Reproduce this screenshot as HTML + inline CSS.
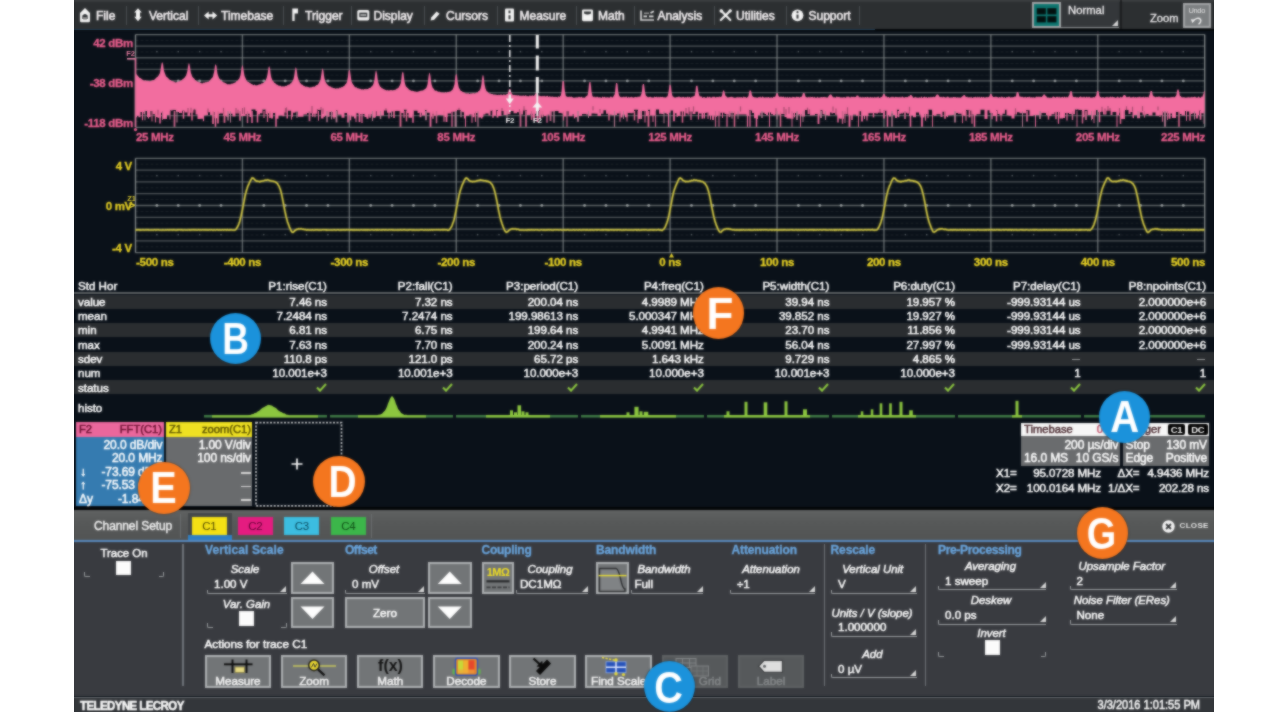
<!DOCTYPE html>
<html><head><meta charset="utf-8"><title>scope</title>
<style>
html,body{margin:0;padding:0;background:#fff;}
body{width:1280px;height:721px;overflow:hidden;position:relative;font-family:"Liberation Sans",sans-serif;}
#clip{position:absolute;left:73.5px;top:0;width:1140px;height:712px;overflow:hidden;}
#wrap{position:absolute;left:-73.5px;top:0;width:1280px;height:721px;filter:url(#bl);}
.tc,.th,.dv,.cr,.vl,.il,.bl{-webkit-text-stroke:0.5px currentColor;}
.pl,.yl,.hd{-webkit-text-stroke:0.3px currentColor;}
#scr{position:absolute;left:60px;top:-10px;width:1170px;height:735px;background:#0a1119;overflow:hidden;}
.a{position:absolute;white-space:nowrap;}
#menubar{position:absolute;left:60px;top:-10px;width:1170px;height:39px;background:linear-gradient(#3b3e40 0,#3b3e40 11.2px,#2c2f31 12.2px);border-bottom:2.6px solid #04070a;}
.mi{position:absolute;top:9px;font-size:12px;line-height:14px;color:#f6f2f4;letter-spacing:0px;white-space:nowrap;-webkit-text-stroke:0.55px #f6f2f4;}
.ms{position:absolute;top:6px;width:1px;height:19px;background:#4a4e51;}
.pl{position:absolute;font-size:11.5px;line-height:12px;font-weight:bold;color:#ee5f8f;white-space:nowrap;letter-spacing:-0.3px;}
.yl{position:absolute;font-size:11.5px;line-height:12px;font-weight:bold;color:#ecd524;white-space:nowrap;letter-spacing:-0.3px;}
.r{text-align:right;}
.c{text-align:center;}

.tr{position:absolute;left:60px;width:1170px;height:14.3px;}
.tc{position:absolute;font-size:11.6px;line-height:13px;color:#fff;white-space:nowrap;letter-spacing:-0.05px;}
.th{position:absolute;font-size:11.6px;line-height:13px;color:#fff;white-space:nowrap;letter-spacing:0px;}

.dh{position:absolute;font-size:11.2px;line-height:13px;white-space:nowrap;letter-spacing:0px;-webkit-text-stroke:0.45px currentColor;}
.dv{position:absolute;font-size:12px;line-height:13px;color:#fff;white-space:nowrap;letter-spacing:-0.1px;}
.cr{position:absolute;font-size:11.6px;line-height:13px;color:#fff;white-space:nowrap;letter-spacing:-0.1px;}
.circ{position:absolute;width:51.2px;height:51.2px;border-radius:50%;box-shadow:0 0 1.5px 0.5px rgba(0,0,0,0.35);}
.circ span{position:absolute;left:0;top:0;width:51.2px;height:51.2px;color:#fff;font-weight:bold;font-size:44px;line-height:52px;text-align:center;}

#tabbar{position:absolute;left:60px;top:509.8px;width:1170px;height:30.2px;background:linear-gradient(#606262,#575959 40%,#525454);}
#panel{position:absolute;left:60px;top:540px;width:1170px;height:156px;background:#393b40;border-top:2px solid #5788be;box-sizing:border-box;}
#status{position:absolute;left:60px;top:696.8px;width:1170px;height:28px;background:#33363a;border-top:1.7px solid #6c7073;box-sizing:border-box;}
.hd{position:absolute;font-size:12px;line-height:13px;font-weight:bold;color:#6aa7e0;white-space:nowrap;letter-spacing:0px;}
.il{position:absolute;font-size:11.4px;line-height:13px;font-style:italic;color:#fcfcfc;white-space:nowrap;letter-spacing:0px;text-align:center;}
.vl{position:absolute;font-size:11.6px;line-height:13px;color:#fff;white-space:nowrap;letter-spacing:0px;}
.ul{position:absolute;height:4.5px;border-bottom:1.9px solid #9da0a2;border-left:1.7px solid #9da0a2;border-bottom-left-radius:2px;box-sizing:border-box;}
.tri{position:absolute;width:0;height:0;border-left:6px solid transparent;border-bottom:6px solid #d8d8d8;}
.btn{position:absolute;background:#727577;border:2px solid #aeb1b3;box-sizing:border-box;}
.cb{position:absolute;width:14.5px;height:14.5px;background:#fbfbfb;}
.vd{position:absolute;width:1.7px;background:#70747a;}
.bl{position:absolute;font-size:11.7px;line-height:12px;color:#fff;text-align:center;white-space:nowrap;letter-spacing:0px;}
.chb{position:absolute;top:516.7px;width:35.4px;height:18px;font-size:11.5px;line-height:18px;text-align:center;letter-spacing:-0.3px;}
.cm{position:absolute;width:5.5px;height:5.5px;box-sizing:border-box;border-bottom:1.7px solid #9a9d9f;}
</style></head>
<body>
<svg width="0" height="0" style="position:absolute"><filter id="bl" x="0" y="0" width="100%" height="100%" color-interpolation-filters="sRGB"><feGaussianBlur stdDeviation="1" result="b"/><feComposite in="b" in2="SourceGraphic" operator="arithmetic" k1="0" k2="0.68" k3="0.32" k4="0"/></filter></svg>
<div id="clip"><div id="wrap">
<div id="scr"></div>
<div id="menubar"></div>
<div class="a" style="left:60px;top:28.6px;width:815px;height:1.8px;background:#27435a"></div>
<div class="mi" style="left:96px">File</div>
<div class="ms" style="left:126px"></div>
<div class="mi" style="left:149px">Vertical</div>
<div class="ms" style="left:198.4px"></div>
<div class="mi" style="left:221px">Timebase</div>
<div class="ms" style="left:282.5px"></div>
<div class="mi" style="left:305px">Trigger</div>
<div class="ms" style="left:351px"></div>
<div class="mi" style="left:373.5px">Display</div>
<div class="ms" style="left:424px"></div>
<div class="mi" style="left:446px">Cursors</div>
<div class="ms" style="left:497px"></div>
<div class="mi" style="left:519.5px">Measure</div>
<div class="ms" style="left:575.5px"></div>
<div class="mi" style="left:598px">Math</div>
<div class="ms" style="left:634px"></div>
<div class="mi" style="left:657.5px">Analysis</div>
<div class="ms" style="left:713.8px"></div>
<div class="mi" style="left:736px">Utilities</div>
<div class="ms" style="left:785.5px"></div>
<div class="mi" style="left:808.5px">Support</div>
<div class="ms" style="left:859px"></div>
<svg class="a" style="left:0;top:0" width="900" height="30" viewBox="0 0 900 30"><path d="M80,13 L85,8 L90,13 V21 Q90,22.3 88.7,22.3 H81.3 Q80,22.3 80,21 Z" fill="#f4f4f4"/><path d="M82.3,15.5 Q85,12.5 87.7,15.5 V19 H82.3 Z" fill="#2d3033"/><rect x="83.2" y="17" width="3.6" height="2.6" fill="#888"/><path d="M138,8.2 L141.8,12.6 H140 V16.8 H141.8 L138,21.2 L134.2,16.8 H136 V12.6 H134.2 Z" fill="#f4f4f4"/><path d="M204,15.5 L208.7,11.6 V14.2 H212.5 V11.6 L217.2,15.5 L212.5,19.4 V16.8 H208.7 V19.4 Z" fill="#f4f4f4"/><path d="M292.3,8.5 H298 V13.5 H294.6 V21 H292.3 Z" fill="#f4f4f4"/><rect x="357.3" y="10" width="12" height="10.4" rx="1.6" fill="#f4f4f4"/><rect x="359.3" y="12.6" width="8" height="4.6" fill="#2d3033"/><rect x="360.5" y="14.4" width="5.6" height="1.2" fill="#f4f4f4"/><path d="M431.2,17.6 L436.6,11.4 L439.6,13.8 L434.2,19.8 L430.6,20.4 Z" fill="#f4f4f4"/><rect x="505" y="8.4" width="9" height="13" rx="1" fill="#f4f4f4"/><path d="M509.5,10.5V13.2M509.5,15.2V19.2" stroke="#2d3033" stroke-width="2"/><rect x="582" y="9.4" width="11" height="11.8" rx="1.4" fill="#f4f4f4"/><path d="M584,11.4 H591 V13.6 Q587.5,15.6 584,13.6 Z" fill="#2d3033"/><path d="M641,10.5 V20 H654" fill="none" stroke="#d8d8d8" stroke-width="1.7"/><path d="M643.5,16.3 H647 M649,16.3 H653.5 M650.5,13 L653.8,11.2" stroke="#e8e8e8" stroke-width="1.7"/><path d="M644,13.2 H649" stroke="#aaa" stroke-width="1.3"/><path d="M721,10.6 L730.3,20 M730.4,10.6 L720.8,20" stroke="#f4f4f4" stroke-width="2.2" stroke-linecap="round"/><circle cx="721.3" cy="11" r="1.8" fill="#f4f4f4"/><circle cx="730.2" cy="10.8" r="1.6" fill="#f4f4f4"/><circle cx="797.5" cy="15.3" r="5.9" fill="#f4f4f4"/><path d="M797.5,14.6V18.6" stroke="#2d3033" stroke-width="2"/><circle cx="797.5" cy="12.2" r="1.1" fill="#2d3033"/></svg>
<div class="a" style="left:1032px;top:1.5px;width:29px;height:26.5px;background:#0d746e;border:2px solid #a2a4a6;box-sizing:border-box"></div>
<svg class="a" style="left:1032px;top:1.5px" width="29" height="27" viewBox="0 0 29 27"><rect x="4.8" y="6.2" width="9" height="6.2" fill="#03100f"/><rect x="15.4" y="6.2" width="9" height="6.2" fill="#03100f"/><rect x="4.8" y="14.2" width="9" height="6.2" fill="#03100f"/><rect x="15.4" y="14.2" width="9" height="6.2" fill="#03100f"/></svg>
<div class="a" style="left:1061px;top:1.5px;width:58px;height:26px;background:#34373a;border-bottom:1.5px solid #8f9294;box-sizing:border-box"></div>
<div class="a" style="left:1068px;top:3.5px;font-size:11.3px;line-height:13px;color:#f2f0f2;letter-spacing:0px;-webkit-text-stroke:0.3px #f2f0f2">Normal</div>
<div class="tri" style="left:1111.5px;top:20px"></div>
<div class="a" style="left:1120px;top:0;width:2px;height:29px;background:#1c1e20"></div>
<div class="a" style="left:1150px;top:11.5px;font-size:11.2px;line-height:13px;color:#f2f0f2;letter-spacing:0px;-webkit-text-stroke:0.3px #f2f0f2">Zoom</div>
<div class="btn" style="left:1183px;top:2.5px;width:27.5px;height:25.5px;background:#7c7f81;border-color:#a4a6a8"></div>
<div class="a c" style="left:1183px;top:6px;width:27.5px;font-size:7.5px;line-height:9px;color:#e6e6e6;letter-spacing:-0.3px">Undo</div>
<svg class="a" style="left:1190px;top:15.5px" width="14" height="9" viewBox="0 0 14 9"><path d="M3,5.5 C5,2 9,1.5 10.5,3.5 C11.5,5 10,7.5 8.5,8" fill="none" stroke="#eee" stroke-width="1.4"/><path d="M0.8,3.2 L4.6,3.6 L2.6,7.2 Z" fill="#eee"/></svg>
<svg class="a" style="left:0;top:0" width="1280" height="721" viewBox="0 0 1280 721">
<line x1="135.5" y1="40.39" x2="1204.7" y2="40.39" stroke="#4a5052" stroke-width="1" opacity="0.28" stroke-dasharray="3 2"/>
<line x1="135.5" y1="51.98" x2="1204.7" y2="51.98" stroke="#4a5052" stroke-width="1" opacity="0.28" stroke-dasharray="3 2"/>
<line x1="135.5" y1="63.57" x2="1204.7" y2="63.57" stroke="#4a5052" stroke-width="1" opacity="0.28" stroke-dasharray="3 2"/>
<line x1="135.5" y1="75.16" x2="1204.7" y2="75.16" stroke="#4a5052" stroke-width="1" opacity="0.28" stroke-dasharray="3 2"/>
<line x1="135.5" y1="86.74" x2="1204.7" y2="86.74" stroke="#4a5052" stroke-width="1" opacity="0.28" stroke-dasharray="3 2"/>
<line x1="135.5" y1="98.33" x2="1204.7" y2="98.33" stroke="#4a5052" stroke-width="1" opacity="0.28" stroke-dasharray="3 2"/>
<line x1="135.5" y1="109.92" x2="1204.7" y2="109.92" stroke="#4a5052" stroke-width="1" opacity="0.28" stroke-dasharray="3 2"/>
<line x1="135.5" y1="121.51" x2="1204.7" y2="121.51" stroke="#4a5052" stroke-width="1" opacity="0.28" stroke-dasharray="3 2"/>
<line x1="135.5" y1="34.60" x2="1204.7" y2="34.60" stroke="#6d7374" stroke-width="1.3" opacity="0.95"/>
<line x1="135.5" y1="46.19" x2="1204.7" y2="46.19" stroke="#6d7374" stroke-width="1.3" opacity="0.72"/>
<line x1="135.5" y1="57.77" x2="1204.7" y2="57.77" stroke="#6d7374" stroke-width="1.3" opacity="0.72"/>
<line x1="135.5" y1="69.36" x2="1204.7" y2="69.36" stroke="#6d7374" stroke-width="1.3" opacity="0.72"/>
<line x1="135.5" y1="80.95" x2="1204.7" y2="80.95" stroke="#6d7374" stroke-width="1.3" opacity="0.85"/>
<line x1="135.5" y1="92.54" x2="1204.7" y2="92.54" stroke="#6d7374" stroke-width="1.3" opacity="0.72"/>
<line x1="135.5" y1="104.12" x2="1204.7" y2="104.12" stroke="#6d7374" stroke-width="1.3" opacity="0.72"/>
<line x1="135.5" y1="115.71" x2="1204.7" y2="115.71" stroke="#6d7374" stroke-width="1.3" opacity="0.72"/>
<line x1="135.5" y1="127.30" x2="1204.7" y2="127.30" stroke="#6d7374" stroke-width="1.3" opacity="0.95"/>
<line x1="135.50" y1="34.6" x2="135.50" y2="127.3" stroke="#7f8586" stroke-width="1.4" opacity="1"/>
<line x1="242.42" y1="34.6" x2="242.42" y2="127.3" stroke="#7f8586" stroke-width="1.4" opacity="0.78"/>
<line x1="349.34" y1="34.6" x2="349.34" y2="127.3" stroke="#7f8586" stroke-width="1.4" opacity="0.78"/>
<line x1="456.26" y1="34.6" x2="456.26" y2="127.3" stroke="#7f8586" stroke-width="1.4" opacity="0.78"/>
<line x1="563.18" y1="34.6" x2="563.18" y2="127.3" stroke="#7f8586" stroke-width="1.4" opacity="0.78"/>
<line x1="670.10" y1="34.6" x2="670.10" y2="127.3" stroke="#7f8586" stroke-width="1.4" opacity="0.78"/>
<line x1="777.02" y1="34.6" x2="777.02" y2="127.3" stroke="#7f8586" stroke-width="1.4" opacity="0.78"/>
<line x1="883.94" y1="34.6" x2="883.94" y2="127.3" stroke="#7f8586" stroke-width="1.4" opacity="0.78"/>
<line x1="990.86" y1="34.6" x2="990.86" y2="127.3" stroke="#7f8586" stroke-width="1.4" opacity="0.78"/>
<line x1="1097.78" y1="34.6" x2="1097.78" y2="127.3" stroke="#7f8586" stroke-width="1.4" opacity="0.78"/>
<line x1="1204.70" y1="34.6" x2="1204.70" y2="127.3" stroke="#7f8586" stroke-width="1.4" opacity="1"/>
<circle cx="156.88" cy="51.63" r="0.8" fill="#c4caca" opacity="0.4"/>
<circle cx="178.27" cy="51.63" r="0.8" fill="#c4caca" opacity="0.4"/>
<circle cx="199.65" cy="51.63" r="0.8" fill="#c4caca" opacity="0.4"/>
<circle cx="221.04" cy="51.63" r="0.8" fill="#c4caca" opacity="0.4"/>
<circle cx="263.80" cy="51.63" r="0.8" fill="#c4caca" opacity="0.4"/>
<circle cx="285.19" cy="51.63" r="0.8" fill="#c4caca" opacity="0.4"/>
<circle cx="306.57" cy="51.63" r="0.8" fill="#c4caca" opacity="0.4"/>
<circle cx="327.96" cy="51.63" r="0.8" fill="#c4caca" opacity="0.4"/>
<circle cx="370.72" cy="51.63" r="0.8" fill="#c4caca" opacity="0.4"/>
<circle cx="392.11" cy="51.63" r="0.8" fill="#c4caca" opacity="0.4"/>
<circle cx="413.49" cy="51.63" r="0.8" fill="#c4caca" opacity="0.4"/>
<circle cx="434.88" cy="51.63" r="0.8" fill="#c4caca" opacity="0.4"/>
<circle cx="477.64" cy="51.63" r="0.8" fill="#c4caca" opacity="0.4"/>
<circle cx="499.03" cy="51.63" r="0.8" fill="#c4caca" opacity="0.4"/>
<circle cx="520.41" cy="51.63" r="0.8" fill="#c4caca" opacity="0.4"/>
<circle cx="541.80" cy="51.63" r="0.8" fill="#c4caca" opacity="0.4"/>
<circle cx="584.56" cy="51.63" r="0.8" fill="#c4caca" opacity="0.4"/>
<circle cx="605.95" cy="51.63" r="0.8" fill="#c4caca" opacity="0.4"/>
<circle cx="627.33" cy="51.63" r="0.8" fill="#c4caca" opacity="0.4"/>
<circle cx="648.72" cy="51.63" r="0.8" fill="#c4caca" opacity="0.4"/>
<circle cx="691.48" cy="51.63" r="0.8" fill="#c4caca" opacity="0.4"/>
<circle cx="712.87" cy="51.63" r="0.8" fill="#c4caca" opacity="0.4"/>
<circle cx="734.25" cy="51.63" r="0.8" fill="#c4caca" opacity="0.4"/>
<circle cx="755.64" cy="51.63" r="0.8" fill="#c4caca" opacity="0.4"/>
<circle cx="798.40" cy="51.63" r="0.8" fill="#c4caca" opacity="0.4"/>
<circle cx="819.79" cy="51.63" r="0.8" fill="#c4caca" opacity="0.4"/>
<circle cx="841.17" cy="51.63" r="0.8" fill="#c4caca" opacity="0.4"/>
<circle cx="862.56" cy="51.63" r="0.8" fill="#c4caca" opacity="0.4"/>
<circle cx="905.32" cy="51.63" r="0.8" fill="#c4caca" opacity="0.4"/>
<circle cx="926.71" cy="51.63" r="0.8" fill="#c4caca" opacity="0.4"/>
<circle cx="948.09" cy="51.63" r="0.8" fill="#c4caca" opacity="0.4"/>
<circle cx="969.48" cy="51.63" r="0.8" fill="#c4caca" opacity="0.4"/>
<circle cx="1012.24" cy="51.63" r="0.8" fill="#c4caca" opacity="0.4"/>
<circle cx="1033.63" cy="51.63" r="0.8" fill="#c4caca" opacity="0.4"/>
<circle cx="1055.01" cy="51.63" r="0.8" fill="#c4caca" opacity="0.4"/>
<circle cx="1076.40" cy="51.63" r="0.8" fill="#c4caca" opacity="0.4"/>
<circle cx="1119.16" cy="51.63" r="0.8" fill="#c4caca" opacity="0.4"/>
<circle cx="1140.55" cy="51.63" r="0.8" fill="#c4caca" opacity="0.4"/>
<circle cx="1161.93" cy="51.63" r="0.8" fill="#c4caca" opacity="0.4"/>
<circle cx="1183.32" cy="51.63" r="0.8" fill="#c4caca" opacity="0.4"/>
<circle cx="156.88" cy="80.95" r="1.4" fill="#c4caca" opacity="0.65"/>
<circle cx="178.27" cy="80.95" r="1.4" fill="#c4caca" opacity="0.65"/>
<circle cx="199.65" cy="80.95" r="1.4" fill="#c4caca" opacity="0.65"/>
<circle cx="221.04" cy="80.95" r="1.4" fill="#c4caca" opacity="0.65"/>
<circle cx="263.80" cy="80.95" r="1.4" fill="#c4caca" opacity="0.65"/>
<circle cx="285.19" cy="80.95" r="1.4" fill="#c4caca" opacity="0.65"/>
<circle cx="306.57" cy="80.95" r="1.4" fill="#c4caca" opacity="0.65"/>
<circle cx="327.96" cy="80.95" r="1.4" fill="#c4caca" opacity="0.65"/>
<circle cx="370.72" cy="80.95" r="1.4" fill="#c4caca" opacity="0.65"/>
<circle cx="392.11" cy="80.95" r="1.4" fill="#c4caca" opacity="0.65"/>
<circle cx="413.49" cy="80.95" r="1.4" fill="#c4caca" opacity="0.65"/>
<circle cx="434.88" cy="80.95" r="1.4" fill="#c4caca" opacity="0.65"/>
<circle cx="477.64" cy="80.95" r="1.4" fill="#c4caca" opacity="0.65"/>
<circle cx="499.03" cy="80.95" r="1.4" fill="#c4caca" opacity="0.65"/>
<circle cx="520.41" cy="80.95" r="1.4" fill="#c4caca" opacity="0.65"/>
<circle cx="541.80" cy="80.95" r="1.4" fill="#c4caca" opacity="0.65"/>
<circle cx="584.56" cy="80.95" r="1.4" fill="#c4caca" opacity="0.65"/>
<circle cx="605.95" cy="80.95" r="1.4" fill="#c4caca" opacity="0.65"/>
<circle cx="627.33" cy="80.95" r="1.4" fill="#c4caca" opacity="0.65"/>
<circle cx="648.72" cy="80.95" r="1.4" fill="#c4caca" opacity="0.65"/>
<circle cx="691.48" cy="80.95" r="1.4" fill="#c4caca" opacity="0.65"/>
<circle cx="712.87" cy="80.95" r="1.4" fill="#c4caca" opacity="0.65"/>
<circle cx="734.25" cy="80.95" r="1.4" fill="#c4caca" opacity="0.65"/>
<circle cx="755.64" cy="80.95" r="1.4" fill="#c4caca" opacity="0.65"/>
<circle cx="798.40" cy="80.95" r="1.4" fill="#c4caca" opacity="0.65"/>
<circle cx="819.79" cy="80.95" r="1.4" fill="#c4caca" opacity="0.65"/>
<circle cx="841.17" cy="80.95" r="1.4" fill="#c4caca" opacity="0.65"/>
<circle cx="862.56" cy="80.95" r="1.4" fill="#c4caca" opacity="0.65"/>
<circle cx="905.32" cy="80.95" r="1.4" fill="#c4caca" opacity="0.65"/>
<circle cx="926.71" cy="80.95" r="1.4" fill="#c4caca" opacity="0.65"/>
<circle cx="948.09" cy="80.95" r="1.4" fill="#c4caca" opacity="0.65"/>
<circle cx="969.48" cy="80.95" r="1.4" fill="#c4caca" opacity="0.65"/>
<circle cx="1012.24" cy="80.95" r="1.4" fill="#c4caca" opacity="0.65"/>
<circle cx="1033.63" cy="80.95" r="1.4" fill="#c4caca" opacity="0.65"/>
<circle cx="1055.01" cy="80.95" r="1.4" fill="#c4caca" opacity="0.65"/>
<circle cx="1076.40" cy="80.95" r="1.4" fill="#c4caca" opacity="0.65"/>
<circle cx="1119.16" cy="80.95" r="1.4" fill="#c4caca" opacity="0.65"/>
<circle cx="1140.55" cy="80.95" r="1.4" fill="#c4caca" opacity="0.65"/>
<circle cx="1161.93" cy="80.95" r="1.4" fill="#c4caca" opacity="0.65"/>
<circle cx="1183.32" cy="80.95" r="1.4" fill="#c4caca" opacity="0.65"/>
<circle cx="156.88" cy="109.57" r="0.8" fill="#c4caca" opacity="0.4"/>
<circle cx="178.27" cy="109.57" r="0.8" fill="#c4caca" opacity="0.4"/>
<circle cx="199.65" cy="109.57" r="0.8" fill="#c4caca" opacity="0.4"/>
<circle cx="221.04" cy="109.57" r="0.8" fill="#c4caca" opacity="0.4"/>
<circle cx="263.80" cy="109.57" r="0.8" fill="#c4caca" opacity="0.4"/>
<circle cx="285.19" cy="109.57" r="0.8" fill="#c4caca" opacity="0.4"/>
<circle cx="306.57" cy="109.57" r="0.8" fill="#c4caca" opacity="0.4"/>
<circle cx="327.96" cy="109.57" r="0.8" fill="#c4caca" opacity="0.4"/>
<circle cx="370.72" cy="109.57" r="0.8" fill="#c4caca" opacity="0.4"/>
<circle cx="392.11" cy="109.57" r="0.8" fill="#c4caca" opacity="0.4"/>
<circle cx="413.49" cy="109.57" r="0.8" fill="#c4caca" opacity="0.4"/>
<circle cx="434.88" cy="109.57" r="0.8" fill="#c4caca" opacity="0.4"/>
<circle cx="477.64" cy="109.57" r="0.8" fill="#c4caca" opacity="0.4"/>
<circle cx="499.03" cy="109.57" r="0.8" fill="#c4caca" opacity="0.4"/>
<circle cx="520.41" cy="109.57" r="0.8" fill="#c4caca" opacity="0.4"/>
<circle cx="541.80" cy="109.57" r="0.8" fill="#c4caca" opacity="0.4"/>
<circle cx="584.56" cy="109.57" r="0.8" fill="#c4caca" opacity="0.4"/>
<circle cx="605.95" cy="109.57" r="0.8" fill="#c4caca" opacity="0.4"/>
<circle cx="627.33" cy="109.57" r="0.8" fill="#c4caca" opacity="0.4"/>
<circle cx="648.72" cy="109.57" r="0.8" fill="#c4caca" opacity="0.4"/>
<circle cx="691.48" cy="109.57" r="0.8" fill="#c4caca" opacity="0.4"/>
<circle cx="712.87" cy="109.57" r="0.8" fill="#c4caca" opacity="0.4"/>
<circle cx="734.25" cy="109.57" r="0.8" fill="#c4caca" opacity="0.4"/>
<circle cx="755.64" cy="109.57" r="0.8" fill="#c4caca" opacity="0.4"/>
<circle cx="798.40" cy="109.57" r="0.8" fill="#c4caca" opacity="0.4"/>
<circle cx="819.79" cy="109.57" r="0.8" fill="#c4caca" opacity="0.4"/>
<circle cx="841.17" cy="109.57" r="0.8" fill="#c4caca" opacity="0.4"/>
<circle cx="862.56" cy="109.57" r="0.8" fill="#c4caca" opacity="0.4"/>
<circle cx="905.32" cy="109.57" r="0.8" fill="#c4caca" opacity="0.4"/>
<circle cx="926.71" cy="109.57" r="0.8" fill="#c4caca" opacity="0.4"/>
<circle cx="948.09" cy="109.57" r="0.8" fill="#c4caca" opacity="0.4"/>
<circle cx="969.48" cy="109.57" r="0.8" fill="#c4caca" opacity="0.4"/>
<circle cx="1012.24" cy="109.57" r="0.8" fill="#c4caca" opacity="0.4"/>
<circle cx="1033.63" cy="109.57" r="0.8" fill="#c4caca" opacity="0.4"/>
<circle cx="1055.01" cy="109.57" r="0.8" fill="#c4caca" opacity="0.4"/>
<circle cx="1076.40" cy="109.57" r="0.8" fill="#c4caca" opacity="0.4"/>
<circle cx="1119.16" cy="109.57" r="0.8" fill="#c4caca" opacity="0.4"/>
<circle cx="1140.55" cy="109.57" r="0.8" fill="#c4caca" opacity="0.4"/>
<circle cx="1161.93" cy="109.57" r="0.8" fill="#c4caca" opacity="0.4"/>
<circle cx="1183.32" cy="109.57" r="0.8" fill="#c4caca" opacity="0.4"/>
<path d="M135.50,72.2 L136.00,73.2 L136.50,74.4 L137.00,74.8 L137.50,75.5 L138.00,76.2 L138.50,76.4 L139.00,77.2 L139.50,77.8 L140.00,78.3 L140.50,78.1 L141.00,78.6 L141.50,78.7 L142.00,79.6 L142.50,79.8 L143.00,79.4 L143.50,80.4 L144.00,80.6 L144.50,80.5 L145.00,80.6 L145.50,80.3 L146.00,80.3 L146.50,80.9 L147.00,80.6 L147.50,80.8 L148.00,80.9 L148.50,80.8 L149.00,81.2 L149.50,81.1 L150.00,81.3 L150.50,80.9 L151.00,80.9 L151.50,80.6 L152.00,80.6 L152.50,80.2 L153.00,79.8 L153.50,80.2 L154.00,80.0 L154.50,79.6 L155.00,79.1 L155.50,78.4 L156.00,78.0 L156.50,77.6 L157.00,76.9 L157.50,77.0 L158.00,76.1 L158.50,75.8 L159.00,74.5 L159.50,74.0 L160.00,72.5 L160.50,69.8 L161.00,67.1 L161.50,63.7 L162.00,62.5 L162.23,62.0 L162.50,62.7 L163.00,63.8 L163.50,67.9 L164.00,70.8 L164.50,72.2 L165.00,73.5 L165.50,74.8 L166.00,76.2 L166.50,76.8 L167.00,76.9 L167.50,77.5 L168.00,77.9 L168.50,78.3 L169.00,79.4 L169.50,79.2 L170.00,79.9 L170.50,80.1 L171.00,80.2 L171.50,81.0 L172.00,80.7 L172.50,81.3 L173.00,81.1 L173.50,81.5 L174.00,81.5 L174.50,81.7 L175.00,82.5 L175.50,82.5 L176.00,82.0 L176.50,82.4 L177.00,81.7 L177.50,81.8 L178.00,82.0 L178.50,81.7 L179.00,81.0 L179.50,81.7 L180.00,80.8 L180.50,80.6 L181.00,80.8 L181.50,80.1 L182.00,79.8 L182.50,79.2 L183.00,78.8 L183.50,78.8 L184.00,78.0 L184.50,77.8 L185.00,76.9 L185.50,76.2 L186.00,75.7 L186.50,74.1 L187.00,72.5 L187.50,70.3 L188.00,66.4 L188.50,64.1 L188.96,63.0 L189.00,63.1 L189.50,64.3 L190.00,66.9 L190.50,70.8 L191.00,73.3 L191.50,74.2 L192.00,76.1 L192.50,77.0 L193.00,77.6 L193.50,78.1 L194.00,78.4 L194.50,78.8 L195.00,80.1 L195.50,79.9 L196.00,80.7 L196.50,80.7 L197.00,81.5 L197.50,81.6 L198.00,81.6 L198.50,81.7 L199.00,82.4 L199.50,82.0 L200.00,82.3 L200.50,82.8 L201.00,83.2 L201.50,83.2 L202.00,83.0 L202.50,83.6 L203.00,82.9 L203.50,82.6 L204.00,82.8 L204.50,82.8 L205.00,82.3 L205.50,82.3 L206.00,82.3 L206.50,82.3 L207.00,81.7 L207.50,81.7 L208.00,81.9 L208.50,81.7 L209.00,81.1 L209.50,80.7 L210.00,80.3 L210.50,79.4 L211.00,78.8 L211.50,78.2 L212.00,78.3 L212.50,77.2 L213.00,76.4 L213.50,74.0 L214.00,72.5 L214.50,69.4 L215.00,65.6 L215.50,64.5 L215.69,64.0 L216.00,64.8 L216.50,66.1 L217.00,70.5 L217.50,73.5 L218.00,75.3 L218.50,76.6 L219.00,77.8 L219.50,78.8 L220.00,79.0 L220.50,79.9 L221.00,80.6 L221.50,81.1 L222.00,81.1 L222.50,81.8 L223.00,82.2 L223.50,82.3 L224.00,82.6 L224.50,82.6 L225.00,83.1 L225.50,83.3 L226.00,83.0 L226.50,83.7 L227.00,84.2 L227.50,84.2 L228.00,84.3 L228.50,84.1 L229.00,84.5 L229.50,84.3 L230.00,84.1 L230.50,84.4 L231.00,83.6 L231.50,84.1 L232.00,83.3 L232.50,83.7 L233.00,83.4 L233.50,83.0 L234.00,83.2 L234.50,82.8 L235.00,82.6 L235.50,82.6 L236.00,81.7 L236.50,81.1 L237.00,81.0 L237.50,80.8 L238.00,79.9 L238.50,79.2 L239.00,79.1 L239.50,77.9 L240.00,76.4 L240.50,75.0 L241.00,71.9 L241.50,68.2 L242.00,66.1 L242.42,65.1 L242.50,65.3 L243.00,66.5 L243.50,70.0 L244.00,73.1 L244.50,75.6 L245.00,76.9 L245.50,78.0 L246.00,79.3 L246.50,80.3 L247.00,81.0 L247.50,81.4 L248.00,82.1 L248.50,82.0 L249.00,82.2 L249.50,82.8 L250.00,83.0 L250.50,83.2 L251.00,83.7 L251.50,84.1 L252.00,84.2 L252.50,84.2 L253.00,84.9 L253.50,85.2 L254.00,84.8 L254.50,84.6 L255.00,84.7 L255.50,85.6 L256.00,84.9 L256.50,85.4 L257.00,85.2 L257.50,84.9 L258.00,85.2 L258.50,84.4 L259.00,84.4 L259.50,84.6 L260.00,84.0 L260.50,84.5 L261.00,83.8 L261.50,83.5 L262.00,83.1 L262.50,83.4 L263.00,82.9 L263.50,82.7 L264.00,82.3 L264.50,81.9 L265.00,81.5 L265.50,80.5 L266.00,79.2 L266.50,78.3 L267.00,76.5 L267.50,74.2 L268.00,71.3 L268.50,67.6 L269.00,66.5 L269.15,66.1 L269.50,67.0 L270.00,68.6 L270.50,72.9 L271.00,75.9 L271.50,77.9 L272.00,79.0 L272.50,80.4 L273.00,81.3 L273.50,81.3 L274.00,82.6 L274.50,82.9 L275.00,82.8 L275.50,83.5 L276.00,84.0 L276.50,84.6 L277.00,84.4 L277.50,84.8 L278.00,85.3 L278.50,85.5 L279.00,85.8 L279.50,85.5 L280.00,85.9 L280.50,85.6 L281.00,86.2 L281.50,86.4 L282.00,86.4 L282.50,86.6 L283.00,86.0 L283.50,86.6 L284.00,86.6 L284.50,86.5 L285.00,86.0 L285.50,86.1 L286.00,85.6 L286.50,86.0 L287.00,85.8 L287.50,85.1 L288.00,84.7 L288.50,84.8 L289.00,84.6 L289.50,84.5 L290.00,83.9 L290.50,83.1 L291.00,83.4 L291.50,82.2 L292.00,82.2 L292.50,80.9 L293.00,80.0 L293.50,79.1 L294.00,76.7 L294.50,73.9 L295.00,69.9 L295.50,68.1 L295.88,67.1 L296.00,67.5 L296.50,68.7 L297.00,72.3 L297.50,76.2 L298.00,77.8 L298.50,79.5 L299.00,81.0 L299.50,81.7 L300.00,82.8 L300.50,83.3 L301.00,83.8 L301.50,84.5 L302.00,84.6 L302.50,84.8 L303.00,85.1 L303.50,85.8 L304.00,86.2 L304.50,85.8 L305.00,86.5 L305.50,86.8 L306.00,86.6 L306.50,86.8 L307.00,86.6 L307.50,87.0 L308.00,87.1 L308.50,87.3 L309.00,86.9 L309.50,87.8 L310.00,87.3 L310.50,87.2 L311.00,87.4 L311.50,87.2 L312.00,87.0 L312.50,87.1 L313.00,86.4 L313.50,86.7 L314.00,86.4 L314.50,86.7 L315.00,86.5 L315.50,85.7 L316.00,85.6 L316.50,85.0 L317.00,84.9 L317.50,84.8 L318.00,84.5 L318.50,83.5 L319.00,82.7 L319.50,81.7 L320.00,80.9 L320.50,79.6 L321.00,76.5 L321.50,73.5 L322.00,69.7 L322.50,68.5 L322.61,68.2 L323.00,69.2 L323.50,71.2 L324.00,75.4 L324.50,78.5 L325.00,80.0 L325.50,81.9 L326.00,82.4 L326.50,83.6 L327.00,84.0 L327.50,84.5 L328.00,85.2 L328.50,85.6 L329.00,85.9 L329.50,86.2 L330.00,86.6 L330.50,86.5 L331.00,86.8 L331.50,87.4 L332.00,87.6 L332.50,87.6 L333.00,88.1 L333.50,88.0 L334.00,88.3 L334.50,87.9 L335.00,88.4 L335.50,88.6 L336.00,88.8 L336.50,88.2 L337.00,88.2 L337.50,88.6 L338.00,87.9 L338.50,88.6 L339.00,88.4 L339.50,87.6 L340.00,87.6 L340.50,87.9 L341.00,87.3 L341.50,87.0 L342.00,87.4 L342.50,86.8 L343.00,86.9 L343.50,86.0 L344.00,85.9 L344.50,85.7 L345.00,84.6 L345.50,84.2 L346.00,83.8 L346.50,83.0 L347.00,81.7 L347.50,78.9 L348.00,76.3 L348.50,71.6 L349.00,70.1 L349.34,69.3 L349.50,69.7 L350.00,70.9 L350.50,74.6 L351.00,78.1 L351.50,80.9 L352.00,82.4 L352.50,83.6 L353.00,84.2 L353.50,84.9 L354.00,85.5 L354.50,86.5 L355.00,87.1 L355.50,87.4 L356.00,87.0 L356.50,87.2 L357.00,88.3 L357.50,88.0 L358.00,88.5 L358.50,88.3 L359.00,88.6 L359.50,88.8 L360.00,88.8 L360.50,89.1 L361.00,88.7 L361.50,89.4 L362.00,89.6 L362.50,89.1 L363.00,89.4 L363.50,89.6 L364.00,89.2 L364.50,89.0 L365.00,88.9 L365.50,89.2 L366.00,88.6 L366.50,89.3 L367.00,89.1 L367.50,88.9 L368.00,88.9 L368.50,88.5 L369.00,88.1 L369.50,88.0 L370.00,87.7 L370.50,87.8 L371.00,87.3 L371.50,86.3 L372.00,86.4 L372.50,85.5 L373.00,84.7 L373.50,83.5 L374.00,81.5 L374.50,79.4 L375.00,75.5 L375.50,71.7 L376.00,70.5 L376.07,70.3 L376.50,71.4 L377.00,73.8 L377.50,77.9 L378.00,81.0 L378.50,83.0 L379.00,83.9 L379.50,85.2 L380.00,86.3 L380.50,86.9 L381.00,87.0 L381.50,88.1 L382.00,88.2 L382.50,88.2 L383.00,88.8 L383.50,89.0 L384.00,89.2 L384.50,89.2 L385.00,89.9 L385.50,89.8 L386.00,90.0 L386.50,90.2 L387.00,90.5 L387.50,89.7 L388.00,90.3 L388.50,90.5 L389.00,90.2 L389.50,90.4 L390.00,90.0 L390.50,90.1 L391.00,90.2 L391.50,89.9 L392.00,90.0 L392.50,90.5 L393.00,90.1 L393.50,90.0 L394.00,90.3 L394.50,89.8 L395.00,90.1 L395.50,89.6 L396.00,89.5 L396.50,88.6 L397.00,88.8 L397.50,88.6 L398.00,87.6 L398.50,87.9 L399.00,86.6 L399.50,86.1 L400.00,84.8 L400.50,83.7 L401.00,81.7 L401.50,78.0 L402.00,73.3 L402.50,72.2 L402.80,71.4 L403.00,71.9 L403.50,73.1 L404.00,77.4 L404.50,81.3 L405.00,83.6 L405.50,84.9 L406.00,86.4 L406.50,86.9 L407.00,87.3 L407.50,88.1 L408.00,88.3 L408.50,88.8 L409.00,89.7 L409.50,89.6 L410.00,90.3 L410.50,90.4 L411.00,90.0 L411.50,91.0 L412.00,91.1 L412.50,90.4 L413.00,91.3 L413.50,91.0 L414.00,91.1 L414.50,91.7 L415.00,91.1 L415.50,91.4 L416.00,91.9 L416.50,91.7 L417.00,91.4 L417.50,91.8 L418.00,91.7 L418.50,91.4 L419.00,90.9 L419.50,91.3 L420.00,91.1 L420.50,90.8 L421.00,90.5 L421.50,90.8 L422.00,90.3 L422.50,90.4 L423.00,90.4 L423.50,90.0 L424.00,89.6 L424.50,89.5 L425.00,88.9 L425.50,88.7 L426.00,87.9 L426.50,87.4 L427.00,86.1 L427.50,84.2 L428.00,81.0 L428.50,76.7 L429.00,73.8 L429.50,72.6 L429.53,72.5 L430.00,73.7 L430.50,76.5 L431.00,81.1 L431.50,83.9 L432.00,85.8 L432.50,87.2 L433.00,88.2 L433.50,88.5 L434.00,89.1 L434.50,90.2 L435.00,90.5 L435.50,90.8 L436.00,90.4 L436.50,90.6 L437.00,91.0 L437.50,91.3 L438.00,91.7 L438.50,91.4 L439.00,91.9 L439.50,91.6 L440.00,91.7 L440.50,92.3 L441.00,92.3 L441.50,92.5 L442.00,92.3 L442.50,92.4 L443.00,92.2 L443.50,92.4 L444.00,92.7 L444.50,92.8 L445.00,92.0 L445.50,92.0 L446.00,92.6 L446.50,92.4 L447.00,92.4 L447.50,91.8 L448.00,91.9 L448.50,91.7 L449.00,92.0 L449.50,91.4 L450.00,91.5 L450.50,91.6 L451.00,90.7 L451.50,90.5 L452.00,90.2 L452.50,89.8 L453.00,88.6 L453.50,87.5 L454.00,85.8 L454.50,84.2 L455.00,80.1 L455.50,75.4 L456.00,74.2 L456.26,73.6 L456.50,74.2 L457.00,75.4 L457.50,80.6 L458.00,83.5 L458.50,86.0 L459.00,87.9 L459.50,88.5 L460.00,89.5 L460.50,90.5 L461.00,91.0 L461.50,91.0 L462.00,91.2 L462.50,91.7 L463.00,92.3 L463.50,92.2 L464.00,92.1 L464.50,92.8 L465.00,92.8 L465.50,93.3 L466.00,93.4 L466.50,93.5 L467.00,93.1 L467.50,93.5 L468.00,93.2 L468.50,93.2 L469.00,93.4 L469.50,93.9 L470.00,93.9 L470.50,93.3 L471.00,93.4 L471.50,93.4 L472.00,93.3 L472.50,93.3 L473.00,93.3 L473.50,93.0 L474.00,93.3 L474.50,93.4 L475.00,93.1 L475.50,93.3 L476.00,92.9 L476.50,92.3 L477.00,92.7 L477.50,92.5 L478.00,91.7 L478.50,91.1 L479.00,91.0 L479.50,90.4 L480.00,89.5 L480.50,88.6 L481.00,86.5 L481.50,83.8 L482.00,79.0 L482.50,75.9 L482.99,74.7 L483.00,74.7 L483.50,76.0 L484.00,79.5 L484.50,84.1 L485.00,86.2 L485.50,88.6 L486.00,89.4 L486.50,90.9 L487.00,91.5 L487.50,91.6 L488.00,92.0 L488.50,92.9 L489.00,92.9 L489.50,93.4 L490.00,93.3 L490.50,93.4 L491.00,94.1 L491.50,94.0 L492.00,93.9 L492.50,94.1 L493.00,94.3 L493.50,94.4 L494.00,94.7 L494.50,94.3 L495.00,94.7 L495.50,94.6 L496.00,94.8 L496.50,94.8 L497.00,94.9 L497.50,95.0 L498.00,95.0 L498.50,94.8 L499.00,94.7 L499.50,94.9 L500.00,95.0 L500.50,94.6 L501.00,94.7 L501.50,94.4 L502.00,95.0 L502.50,95.2 L503.00,94.7 L503.50,94.5 L504.00,94.6 L504.50,94.8 L505.00,94.6 L505.50,95.2 L506.00,94.3 L506.50,94.4 L507.00,94.0 L507.50,94.1 L508.00,93.3 L508.50,91.1 L509.00,89.0 L509.50,89.0 L509.72,89.0 L510.00,89.0 L510.50,89.0 L511.00,91.4 L511.50,93.0 L512.00,93.9 L512.50,94.4 L513.00,95.1 L513.50,95.1 L514.00,94.8 L514.50,94.9 L515.00,95.0 L515.50,94.9 L516.00,95.5 L516.50,95.1 L517.00,95.3 L517.50,95.6 L518.00,95.3 L518.50,95.1 L519.00,95.7 L519.50,95.7 L520.00,95.2 L520.50,96.2 L521.00,95.1 L521.50,96.2 L522.00,95.4 L522.50,95.6 L523.00,96.3 L523.50,95.2 L524.00,95.6 L524.50,96.1 L525.00,95.8 L525.50,95.2 L526.00,95.3 L526.50,95.7 L527.00,96.5 L527.50,95.8 L528.00,96.2 L528.50,96.3 L529.00,96.3 L529.50,95.5 L530.00,95.2 L530.50,95.8 L531.00,96.0 L531.50,95.6 L532.00,95.7 L532.50,95.2 L533.00,95.4 L533.50,95.8 L534.00,96.1 L534.50,95.0 L535.00,94.4 L535.50,93.4 L536.00,92.9 L536.45,92.9 L536.50,92.9 L537.00,92.9 L537.50,93.7 L538.00,94.5 L538.50,95.4 L539.00,96.5 L539.50,95.5 L540.00,95.8 L540.50,96.2 L541.00,95.9 L541.50,96.4 L542.00,95.8 L542.50,96.0 L543.00,96.4 L543.50,96.0 L544.00,95.7 L544.50,95.7 L545.00,96.6 L545.50,96.2 L546.00,96.5 L546.50,96.0 L547.00,95.8 L547.50,95.8 L548.00,96.3 L548.50,96.7 L549.00,96.9 L549.50,96.2 L550.00,95.8 L550.50,96.8 L551.00,97.0 L551.50,96.7 L552.00,96.3 L552.50,96.8 L553.00,96.4 L553.50,97.0 L554.00,96.8 L554.50,97.0 L555.00,96.7 L555.50,96.7 L556.00,97.0 L556.50,96.7 L557.00,97.2 L557.50,97.4 L558.00,96.2 L558.50,96.3 L559.00,96.9 L559.50,97.0 L560.00,96.0 L560.50,96.0 L561.00,94.6 L561.50,91.7 L562.00,86.7 L562.50,80.9 L563.00,80.9 L563.18,80.9 L563.50,80.9 L564.00,81.3 L564.50,88.2 L565.00,91.9 L565.50,94.1 L566.00,96.4 L566.50,96.1 L567.00,97.0 L567.50,97.0 L568.00,96.3 L568.50,97.0 L569.00,96.9 L569.50,96.6 L570.00,96.8 L570.50,96.9 L571.00,96.5 L571.50,96.6 L572.00,97.3 L572.50,97.0 L573.00,97.4 L573.50,97.5 L574.00,97.9 L574.50,97.7 L575.00,97.1 L575.50,97.8 L576.00,97.2 L576.50,97.8 L577.00,96.5 L577.50,97.8 L578.00,97.3 L578.50,96.9 L579.00,96.5 L579.50,97.1 L580.00,97.0 L580.50,97.4 L581.00,96.8 L581.50,97.0 L582.00,96.5 L582.50,97.8 L583.00,97.7 L583.50,97.6 L584.00,97.5 L584.50,97.7 L585.00,97.5 L585.50,97.0 L586.00,96.1 L586.50,96.3 L587.00,95.4 L587.50,95.6 L588.00,93.2 L588.50,89.5 L589.00,84.0 L589.50,82.0 L589.91,82.0 L590.00,82.0 L590.50,82.0 L591.00,86.3 L591.50,91.4 L592.00,93.7 L592.50,96.3 L593.00,96.5 L593.50,97.3 L594.00,96.3 L594.50,96.7 L595.00,97.6 L595.50,96.6 L596.00,97.8 L596.50,96.5 L597.00,96.9 L597.50,96.7 L598.00,96.8 L598.50,97.6 L599.00,97.4 L599.50,97.3 L600.00,96.9 L600.50,97.4 L601.00,97.4 L601.50,97.9 L602.00,97.2 L602.50,96.5 L603.00,96.8 L603.50,97.6 L604.00,96.8 L604.50,96.8 L605.00,97.2 L605.50,97.7 L606.00,96.5 L606.50,97.5 L607.00,97.8 L607.50,96.7 L608.00,97.4 L608.50,97.4 L609.00,97.2 L609.50,97.7 L610.00,97.2 L610.50,96.6 L611.00,96.6 L611.50,96.7 L612.00,97.4 L612.50,97.4 L613.00,96.7 L613.50,96.5 L614.00,95.0 L614.50,94.8 L615.00,92.8 L615.50,87.4 L616.00,82.9 L616.50,82.9 L616.64,82.9 L617.00,82.9 L617.50,84.0 L618.00,89.8 L618.50,93.1 L619.00,94.9 L619.50,96.1 L620.00,96.7 L620.50,97.3 L621.00,96.6 L621.50,97.3 L622.00,97.5 L622.50,97.0 L623.00,96.7 L623.50,96.5 L624.00,97.5 L624.50,96.6 L625.00,97.5 L625.50,96.8 L626.00,96.6 L626.50,96.8 L627.00,96.5 L627.50,97.9 L628.00,97.5 L628.50,96.8 L629.00,96.8 L629.50,97.8 L630.00,96.9 L630.50,97.3 L631.00,97.0 L631.50,96.5 L632.00,97.4 L632.50,97.3 L633.00,97.1 L633.50,97.7 L634.00,97.6 L634.50,96.9 L635.00,97.2 L635.50,96.7 L636.00,97.1 L636.50,97.1 L637.00,97.4 L637.50,96.7 L638.00,96.5 L638.50,96.9 L639.00,96.3 L639.50,96.5 L640.00,97.3 L640.50,95.8 L641.00,94.8 L641.50,93.5 L642.00,91.0 L642.50,85.0 L643.00,83.9 L643.37,83.9 L643.50,83.9 L644.00,83.9 L644.50,88.1 L645.00,92.0 L645.50,94.0 L646.00,95.7 L646.50,95.9 L647.00,96.4 L647.50,97.2 L648.00,96.6 L648.50,97.4 L649.00,96.9 L649.50,96.7 L650.00,96.9 L650.50,96.5 L651.00,97.3 L651.50,97.6 L652.00,96.8 L652.50,97.8 L653.00,97.4 L653.50,97.8 L654.00,96.8 L654.50,96.5 L655.00,97.0 L655.50,97.0 L656.00,97.1 L656.50,96.6 L657.00,97.1 L657.50,97.4 L658.00,96.5 L658.50,97.0 L659.00,97.3 L659.50,97.2 L660.00,96.4 L660.50,96.9 L661.00,97.0 L661.50,97.1 L662.00,97.1 L662.50,96.8 L663.00,96.9 L663.50,97.2 L664.00,97.4 L664.50,97.1 L665.00,97.8 L665.50,97.2 L666.00,97.4 L666.50,97.0 L667.00,96.3 L667.50,96.4 L668.00,94.6 L668.50,92.0 L669.00,88.8 L669.50,84.8 L670.00,84.8 L670.10,84.8 L670.50,84.8 L671.00,86.2 L671.50,91.0 L672.00,94.3 L672.50,95.7 L673.00,96.8 L673.50,96.4 L674.00,97.5 L674.50,97.3 L675.00,97.4 L675.50,97.6 L676.00,97.3 L676.50,97.2 L677.00,96.8 L677.50,97.2 L678.00,96.8 L678.50,96.7 L679.00,96.6 L679.50,96.5 L680.00,97.5 L680.50,97.1 L681.00,97.1 L681.50,97.7 L682.00,96.5 L682.50,97.2 L683.00,97.0 L683.50,96.8 L684.00,96.9 L684.50,97.5 L685.00,97.6 L685.50,97.0 L686.00,97.3 L686.50,97.6 L687.00,97.0 L687.50,96.7 L688.00,96.4 L688.50,97.8 L689.00,96.6 L689.50,97.0 L690.00,97.0 L690.50,97.9 L691.00,97.4 L691.50,96.4 L692.00,97.4 L692.50,96.4 L693.00,96.2 L693.50,96.6 L694.00,96.0 L694.50,96.0 L695.00,93.9 L695.50,91.7 L696.00,86.1 L696.50,85.7 L696.83,85.7 L697.00,85.7 L697.50,85.7 L698.00,89.5 L698.50,92.6 L699.00,94.6 L699.50,95.7 L700.00,96.5 L700.50,96.5 L701.00,96.3 L701.50,96.8 L702.00,96.6 L702.50,97.9 L703.00,97.7 L703.50,97.0 L704.00,97.0 L704.50,97.2 L705.00,97.3 L705.50,97.8 L706.00,97.9 L706.50,97.7 L707.00,96.7 L707.50,96.7 L708.00,96.5 L708.50,97.5 L709.00,97.2 L709.50,96.7 L710.00,96.4 L710.50,97.6 L711.00,97.5 L711.50,97.6 L712.00,97.6 L712.50,96.6 L713.00,97.0 L713.50,96.8 L714.00,96.4 L714.50,96.7 L715.00,97.0 L715.50,97.6 L716.00,97.4 L716.50,96.8 L717.00,96.9 L717.50,96.9 L718.00,96.7 L718.50,97.2 L719.00,96.6 L719.50,96.6 L720.00,96.9 L720.50,96.9 L721.00,96.4 L721.50,96.8 L722.00,95.5 L722.50,93.0 L723.00,90.5 L723.50,90.5 L723.56,90.5 L724.00,90.5 L724.50,91.7 L725.00,94.3 L725.50,95.7 L726.00,96.0 L726.50,96.7 L727.00,96.6 L727.50,97.7 L728.00,97.3 L728.50,97.2 L729.00,97.6 L729.50,97.1 L730.00,97.0 L730.50,96.7 L731.00,97.3 L731.50,96.4 L732.00,97.1 L732.50,97.3 L733.00,96.6 L733.50,97.9 L734.00,96.9 L734.50,97.9 L735.00,97.7 L735.50,97.9 L736.00,96.8 L736.50,97.4 L737.00,97.6 L737.50,97.2 L738.00,96.5 L738.50,97.5 L739.00,97.6 L739.50,97.2 L740.00,96.7 L740.50,97.4 L741.00,97.2 L741.50,97.1 L742.00,97.6 L742.50,97.6 L743.00,97.8 L743.50,96.6 L744.00,96.5 L744.50,96.9 L745.00,97.6 L745.50,96.7 L746.00,97.6 L746.50,97.7 L747.00,97.7 L747.50,97.0 L748.00,96.7 L748.50,95.8 L749.00,93.2 L749.50,90.5 L750.00,90.5 L750.29,90.5 L750.50,90.5 L751.00,90.5 L751.50,93.0 L752.00,95.5 L752.50,95.8 L753.00,97.0 L753.50,96.7 L754.00,96.9 L754.50,97.3 L755.00,97.6 L755.50,97.1 L756.00,97.8 L756.50,97.5 L757.00,97.3 L757.50,97.7 L758.00,97.7 L758.50,97.1 L759.00,97.0 L759.50,97.3 L760.00,96.5 L760.50,96.8 L761.00,97.8 L761.50,97.4 L762.00,96.8 L762.50,96.6 L763.00,96.8 L763.50,96.9 L764.00,97.7 L764.50,97.2 L765.00,97.7 L765.50,96.9 L766.00,97.5 L766.50,96.9 L767.00,97.8 L767.50,97.3 L768.00,96.9 L768.50,96.9 L769.00,97.3 L769.50,97.9 L770.00,97.0 L770.50,97.4 L771.00,97.9 L771.50,97.1 L772.00,97.4 L772.50,97.9 L773.00,96.9 L773.50,96.9 L774.00,96.4 L774.50,97.0 L775.00,96.8 L775.50,96.2 L776.00,94.6 L776.50,93.0 L777.00,93.0 L777.02,93.0 L777.50,93.0 L778.00,93.9 L778.50,96.1 L779.00,96.4 L779.50,96.9 L780.00,96.4 L780.50,96.8 L781.00,96.7 L781.50,96.5 L782.00,97.1 L782.50,97.1 L783.00,96.6 L783.50,96.6 L784.00,97.2 L784.50,97.3 L785.00,97.8 L785.50,96.4 L786.00,97.6 L786.50,97.5 L787.00,97.2 L787.50,96.6 L788.00,97.8 L788.50,97.7 L789.00,97.0 L789.50,96.8 L790.00,97.8 L790.50,97.1 L791.00,97.7 L791.50,97.3 L792.00,97.8 L792.50,96.8 L793.00,96.8 L793.50,97.0 L794.00,96.9 L794.50,97.1 L795.00,97.7 L795.50,97.2 L796.00,97.0 L796.50,96.5 L797.00,96.9 L797.50,96.7 L798.00,97.1 L798.50,97.0 L799.00,96.4 L799.50,97.8 L800.00,97.2 L800.50,96.7 L801.00,97.0 L801.50,96.6 L802.00,96.5 L802.50,94.4 L803.00,93.0 L803.50,93.0 L803.75,93.0 L804.00,93.0 L804.50,93.0 L805.00,94.8 L805.50,96.6 L806.00,96.9 L806.50,97.3 L807.00,97.2 L807.50,97.7 L808.00,96.4 L808.50,97.5 L809.00,96.4 L809.50,97.0 L810.00,97.9 L810.50,96.5 L811.00,97.1 L811.50,97.0 L812.00,97.1 L812.50,96.9 L813.00,96.5 L813.50,97.7 L814.00,97.2 L814.50,96.6 L815.00,97.8 L815.50,97.8 L816.00,97.0 L816.50,97.7 L817.00,97.7 L817.50,96.4 L818.00,97.0 L818.50,97.8 L819.00,97.4 L819.50,97.6 L820.00,97.5 L820.50,97.3 L821.00,96.9 L821.50,96.9 L822.00,97.2 L822.50,97.3 L823.00,96.9 L823.50,97.1 L824.00,96.9 L824.50,96.7 L825.00,97.5 L825.50,96.8 L826.00,97.6 L826.50,97.4 L827.00,97.3 L827.50,97.8 L828.00,96.9 L828.50,96.3 L829.00,95.6 L829.50,95.1 L830.00,94.5 L830.48,94.5 L830.50,94.5 L831.00,94.5 L831.50,94.7 L832.00,95.8 L832.50,96.8 L833.00,96.4 L833.50,97.2 L834.00,97.7 L834.50,96.9 L835.00,97.5 L835.50,97.7 L836.00,96.8 L836.50,96.4 L837.00,96.8 L837.50,96.8 L838.00,97.1 L838.50,96.8 L839.00,97.2 L839.50,96.6 L840.00,97.7 L840.50,97.2 L841.00,97.2 L841.50,97.8 L842.00,96.8 L842.50,97.8 L843.00,97.6 L843.50,97.1 L844.00,97.5 L844.50,97.2 L845.00,96.9 L845.50,97.8 L846.00,97.8 L846.50,96.5 L847.00,96.6 L847.50,96.6 L848.00,96.9 L848.50,96.5 L849.00,96.5 L849.50,97.3 L850.00,97.4 L850.50,97.6 L851.00,96.5 L851.50,96.7 L852.00,96.9 L852.50,96.7 L853.00,97.0 L853.50,96.5 L854.00,97.2 L854.50,97.1 L855.00,96.7 L855.50,97.0 L856.00,97.0 L856.50,95.5 L857.00,95.5 L857.21,95.5 L857.50,95.5 L858.00,95.5 L858.50,95.8 L859.00,97.5 L859.50,96.4 L860.00,97.7 L860.50,96.4 L861.00,97.4 L861.50,97.3 L862.00,97.6 L862.50,96.5 L863.00,97.9 L863.50,97.0 L864.00,96.9 L864.50,97.6 L865.00,97.3 L865.50,96.9 L866.00,97.1 L866.50,97.7 L867.00,96.6 L867.50,97.1 L868.00,96.9 L868.50,97.4 L869.00,97.2 L869.50,97.7 L870.00,96.7 L870.50,96.9 L871.00,97.4 L871.50,97.2 L872.00,97.5 L872.50,96.7 L873.00,97.9 L873.50,96.9 L874.00,97.9 L874.50,96.6 L875.00,97.6 L875.50,97.6 L876.00,96.8 L876.50,97.5 L877.00,97.6 L877.50,97.1 L878.00,96.5 L878.50,96.6 L879.00,97.7 L879.50,97.8 L880.00,97.8 L880.50,97.4 L881.00,96.5 L881.50,97.1 L882.00,96.9 L882.50,95.9 L883.00,94.5 L883.50,94.0 L883.94,94.0 L884.00,94.0 L884.50,94.0 L885.00,95.1 L885.50,96.2 L886.00,96.7 L886.50,96.3 L887.00,96.4 L887.50,97.5 L888.00,97.1 L888.50,96.9 L889.00,96.8 L889.50,97.9 L890.00,97.3 L890.50,97.1 L891.00,97.8 L891.50,96.4 L892.00,97.0 L892.50,96.6 L893.00,97.5 L893.50,96.4 L894.00,97.6 L894.50,97.4 L895.00,96.7 L895.50,96.9 L896.00,96.8 L896.50,97.0 L897.00,97.3 L897.50,96.9 L898.00,97.3 L898.50,97.2 L899.00,96.9 L899.50,96.8 L900.00,97.7 L900.50,96.6 L901.00,97.9 L901.50,96.7 L902.00,96.8 L902.50,96.6 L903.00,96.8 L903.50,97.4 L904.00,97.2 L904.50,97.8 L905.00,97.0 L905.50,97.1 L906.00,97.3 L906.50,97.1 L907.00,97.1 L907.50,97.3 L908.00,96.7 L908.50,96.2 L909.00,96.2 L909.50,96.4 L910.00,95.0 L910.50,95.0 L910.67,95.0 L911.00,95.0 L911.50,95.1 L912.00,96.0 L912.50,96.3 L913.00,97.4 L913.50,97.7 L914.00,97.5 L914.50,97.6 L915.00,96.7 L915.50,96.8 L916.00,97.8 L916.50,97.2 L917.00,97.6 L917.50,97.8 L918.00,97.4 L918.50,97.4 L919.00,97.9 L919.50,96.9 L920.00,97.4 L920.50,97.9 L921.00,96.6 L921.50,96.5 L922.00,97.6 L922.50,97.7 L923.00,97.8 L923.50,97.1 L924.00,96.9 L924.50,96.6 L925.00,96.7 L925.50,97.6 L926.00,97.2 L926.50,96.8 L927.00,97.4 L927.50,97.8 L928.00,97.8 L928.50,96.8 L929.00,97.3 L929.50,97.6 L930.00,96.8 L930.50,97.1 L931.00,97.7 L931.50,97.1 L932.00,96.8 L932.50,97.3 L933.00,96.9 L933.50,96.4 L934.00,97.1 L934.50,97.2 L935.00,96.8 L935.50,96.6 L936.00,95.5 L936.50,94.8 L937.00,94.5 L937.40,94.5 L937.50,94.5 L938.00,94.5 L938.50,95.1 L939.00,95.7 L939.50,96.8 L940.00,97.3 L940.50,96.8 L941.00,97.3 L941.50,97.1 L942.00,96.5 L942.50,97.8 L943.00,96.5 L943.50,96.8 L944.00,97.1 L944.50,97.0 L945.00,97.5 L945.50,97.4 L946.00,97.3 L946.50,97.5 L947.00,96.5 L947.50,96.4 L948.00,97.0 L948.50,96.6 L949.00,97.7 L949.50,97.3 L950.00,97.9 L950.50,96.9 L951.00,97.7 L951.50,97.0 L952.00,97.7 L952.50,97.6 L953.00,97.1 L953.50,97.1 L954.00,96.9 L954.50,97.0 L955.00,97.6 L955.50,97.1 L956.00,97.1 L956.50,97.7 L957.00,97.6 L957.50,97.4 L958.00,96.8 L958.50,97.8 L959.00,97.4 L959.50,97.4 L960.00,97.5 L960.50,97.8 L961.00,97.4 L961.50,96.9 L962.00,96.5 L962.50,96.1 L963.00,96.6 L963.50,95.0 L964.00,95.0 L964.13,95.0 L964.50,95.0 L965.00,95.2 L965.50,96.4 L966.00,97.0 L966.50,97.0 L967.00,96.5 L967.50,96.8 L968.00,97.8 L968.50,97.2 L969.00,97.1 L969.50,97.3 L970.00,97.4 L970.50,97.6 L971.00,96.6 L971.50,97.1 L972.00,97.9 L972.50,97.8 L973.00,97.5 L973.50,96.9 L974.00,97.4 L974.50,97.0 L975.00,96.9 L975.50,96.4 L976.00,97.4 L976.50,96.9 L977.00,97.8 L977.50,96.7 L978.00,96.5 L978.50,97.5 L979.00,97.1 L979.50,96.4 L980.00,97.7 L980.50,97.5 L981.00,96.9 L981.50,96.7 L982.00,96.9 L982.50,97.6 L983.00,97.3 L983.50,96.7 L984.00,97.3 L984.50,97.8 L985.00,97.1 L985.50,97.6 L986.00,97.4 L986.50,96.9 L987.00,96.7 L987.50,97.6 L988.00,96.8 L988.50,97.2 L989.00,96.8 L989.50,96.3 L990.00,94.2 L990.50,94.0 L990.86,94.0 L991.00,94.0 L991.50,94.0 L992.00,95.6 L992.50,95.9 L993.00,97.0 L993.50,96.9 L994.00,97.1 L994.50,96.9 L995.00,96.8 L995.50,96.4 L996.00,97.3 L996.50,96.6 L997.00,97.1 L997.50,96.9 L998.00,97.5 L998.50,97.4 L999.00,97.2 L999.50,97.0 L1000.00,97.1 L1000.50,97.2 L1001.00,97.7 L1001.50,96.4 L1002.00,96.4 L1002.50,97.3 L1003.00,96.7 L1003.50,97.7 L1004.00,97.4 L1004.50,97.1 L1005.00,97.2 L1005.50,97.9 L1006.00,97.7 L1006.50,96.8 L1007.00,97.2 L1007.50,96.9 L1008.00,97.2 L1008.50,96.5 L1009.00,96.4 L1009.50,97.0 L1010.00,96.6 L1010.50,97.8 L1011.00,97.5 L1011.50,97.3 L1012.00,97.1 L1012.50,97.4 L1013.00,97.0 L1013.50,96.9 L1014.00,97.3 L1014.50,96.5 L1015.00,96.3 L1015.50,96.8 L1016.00,96.2 L1016.50,93.2 L1017.00,92.0 L1017.50,92.0 L1017.59,92.0 L1018.00,92.0 L1018.50,92.7 L1019.00,94.6 L1019.50,96.8 L1020.00,96.3 L1020.50,96.4 L1021.00,97.2 L1021.50,96.4 L1022.00,96.9 L1022.50,96.8 L1023.00,96.7 L1023.50,97.8 L1024.00,96.8 L1024.50,97.4 L1025.00,96.7 L1025.50,96.8 L1026.00,97.5 L1026.50,97.4 L1027.00,97.0 L1027.50,97.1 L1028.00,97.1 L1028.50,97.2 L1029.00,96.4 L1029.50,97.0 L1030.00,96.6 L1030.50,97.8 L1031.00,97.2 L1031.50,97.5 L1032.00,96.8 L1032.50,97.5 L1033.00,97.7 L1033.50,96.7 L1034.00,97.7 L1034.50,97.5 L1035.00,97.5 L1035.50,97.6 L1036.00,96.6 L1036.50,96.4 L1037.00,97.0 L1037.50,96.5 L1038.00,97.3 L1038.50,96.5 L1039.00,96.8 L1039.50,96.6 L1040.00,97.3 L1040.50,96.6 L1041.00,96.9 L1041.50,97.1 L1042.00,96.7 L1042.50,95.9 L1043.00,95.5 L1043.50,94.6 L1044.00,94.5 L1044.32,94.5 L1044.50,94.5 L1045.00,94.5 L1045.50,96.0 L1046.00,95.8 L1046.50,96.5 L1047.00,97.4 L1047.50,97.7 L1048.00,96.9 L1048.50,97.5 L1049.00,97.9 L1049.50,97.7 L1050.00,97.3 L1050.50,97.7 L1051.00,97.7 L1051.50,97.7 L1052.00,97.8 L1052.50,97.0 L1053.00,96.6 L1053.50,96.5 L1054.00,96.8 L1054.50,97.3 L1055.00,97.1 L1055.50,97.9 L1056.00,96.9 L1056.50,96.7 L1057.00,96.7 L1057.50,96.9 L1058.00,96.4 L1058.50,96.9 L1059.00,97.9 L1059.50,96.5 L1060.00,96.7 L1060.50,97.5 L1061.00,97.8 L1061.50,96.9 L1062.00,96.9 L1062.50,97.1 L1063.00,96.6 L1063.50,97.8 L1064.00,97.3 L1064.50,96.5 L1065.00,96.7 L1065.50,97.3 L1066.00,97.8 L1066.50,96.5 L1067.00,97.0 L1067.50,97.3 L1068.00,97.4 L1068.50,96.1 L1069.00,95.4 L1069.50,94.4 L1070.00,92.3 L1070.50,91.0 L1071.00,91.0 L1071.05,91.0 L1071.50,91.0 L1072.00,92.2 L1072.50,95.3 L1073.00,96.7 L1073.50,97.0 L1074.00,96.8 L1074.50,97.0 L1075.00,97.2 L1075.50,97.1 L1076.00,96.6 L1076.50,97.4 L1077.00,97.6 L1077.50,97.1 L1078.00,97.6 L1078.50,97.8 L1079.00,97.0 L1079.50,96.9 L1080.00,96.5 L1080.50,96.5 L1081.00,96.6 L1081.50,97.0 L1082.00,97.5 L1082.50,96.8 L1083.00,97.7 L1083.50,96.4 L1084.00,97.1 L1084.50,96.6 L1085.00,97.5 L1085.50,97.4 L1086.00,97.1 L1086.50,96.5 L1087.00,96.9 L1087.50,97.6 L1088.00,96.5 L1088.50,97.1 L1089.00,97.6 L1089.50,96.5 L1090.00,97.1 L1090.50,97.8 L1091.00,97.4 L1091.50,97.8 L1092.00,97.3 L1092.50,97.5 L1093.00,97.6 L1093.50,97.1 L1094.00,97.1 L1094.50,97.5 L1095.00,96.9 L1095.50,95.9 L1096.00,96.1 L1096.50,94.0 L1097.00,91.0 L1097.50,91.0 L1097.78,91.0 L1098.00,91.0 L1098.50,91.0 L1099.00,93.4 L1099.50,95.7 L1100.00,96.7 L1100.50,96.9 L1101.00,97.1 L1101.50,97.8 L1102.00,97.3 L1102.50,97.0 L1103.00,97.4 L1103.50,96.9 L1104.00,97.6 L1104.50,97.7 L1105.00,97.4 L1105.50,96.9 L1106.00,97.6 L1106.50,96.9 L1107.00,96.6 L1107.50,97.4 L1108.00,96.5 L1108.50,97.5 L1109.00,97.7 L1109.50,97.1 L1110.00,96.8 L1110.50,96.8 L1111.00,96.4 L1111.50,97.6 L1112.00,96.7 L1112.50,96.5 L1113.00,97.3 L1113.50,97.1 L1114.00,96.9 L1114.50,97.0 L1115.00,97.9 L1115.50,97.8 L1116.00,97.3 L1116.50,97.6 L1117.00,97.2 L1117.50,96.5 L1118.00,96.6 L1118.50,97.3 L1119.00,97.8 L1119.50,97.4 L1120.00,97.6 L1120.50,96.6 L1121.00,97.0 L1121.50,97.4 L1122.00,97.1 L1122.50,97.3 L1123.00,95.9 L1123.50,95.2 L1124.00,95.0 L1124.50,95.0 L1124.51,95.0 L1125.00,95.0 L1125.50,95.5 L1126.00,96.5 L1126.50,97.4 L1127.00,96.6 L1127.50,97.2 L1128.00,97.0 L1128.50,96.7 L1129.00,96.8 L1129.50,96.6 L1130.00,96.7 L1130.50,97.3 L1131.00,97.9 L1131.50,97.0 L1132.00,97.6 L1132.50,96.7 L1133.00,97.6 L1133.50,96.7 L1134.00,96.6 L1134.50,97.8 L1135.00,97.1 L1135.50,96.9 L1136.00,97.4 L1136.50,97.6 L1137.00,97.1 L1137.50,97.0 L1138.00,97.4 L1138.50,96.9 L1139.00,96.6 L1139.50,97.0 L1140.00,96.4 L1140.50,97.0 L1141.00,97.7 L1141.50,96.9 L1142.00,96.9 L1142.50,97.3 L1143.00,97.0 L1143.50,96.6 L1144.00,97.5 L1144.50,97.5 L1145.00,96.5 L1145.50,96.9 L1146.00,97.5 L1146.50,97.1 L1147.00,97.1 L1147.50,96.7 L1148.00,97.6 L1148.50,97.5 L1149.00,95.9 L1149.50,95.1 L1150.00,93.4 L1150.50,91.0 L1151.00,91.0 L1151.24,91.0 L1151.50,91.0 L1152.00,91.0 L1152.50,93.9 L1153.00,95.8 L1153.50,95.8 L1154.00,97.1 L1154.50,96.6 L1155.00,96.4 L1155.50,97.2 L1156.00,97.2 L1156.50,96.4 L1157.00,96.9 L1157.50,97.0 L1158.00,96.5 L1158.50,96.8 L1159.00,96.4 L1159.50,96.4 L1160.00,96.9 L1160.50,97.2 L1161.00,96.6 L1161.50,97.2 L1162.00,96.9 L1162.50,97.2 L1163.00,97.7 L1163.50,97.5 L1164.00,97.1 L1164.50,97.3 L1165.00,97.6 L1165.50,96.5 L1166.00,97.3 L1166.50,97.8 L1167.00,97.1 L1167.50,97.8 L1168.00,97.2 L1168.50,97.5 L1169.00,97.5 L1169.50,97.7 L1170.00,96.7 L1170.50,97.7 L1171.00,96.8 L1171.50,97.5 L1172.00,96.5 L1172.50,97.2 L1173.00,97.1 L1173.50,96.5 L1174.00,97.7 L1174.50,96.9 L1175.00,97.1 L1175.50,96.2 L1176.00,95.7 L1176.50,94.4 L1177.00,91.1 L1177.50,89.5 L1177.97,89.5 L1178.00,89.5 L1178.50,89.5 L1179.00,91.5 L1179.50,93.9 L1180.00,96.2 L1180.50,95.8 L1181.00,96.5 L1181.50,97.6 L1182.00,96.5 L1182.50,97.8 L1183.00,97.1 L1183.50,97.5 L1184.00,96.8 L1184.50,97.4 L1185.00,97.4 L1185.50,97.9 L1186.00,96.7 L1186.50,97.8 L1187.00,97.7 L1187.50,97.6 L1188.00,96.5 L1188.50,97.7 L1189.00,96.5 L1189.50,97.5 L1190.00,97.7 L1190.50,97.1 L1191.00,97.4 L1191.50,97.0 L1192.00,96.5 L1192.50,97.5 L1193.00,97.1 L1193.50,97.1 L1194.00,97.2 L1194.50,96.4 L1195.00,96.8 L1195.50,96.7 L1196.00,97.4 L1196.50,97.4 L1197.00,97.7 L1197.50,97.5 L1198.00,96.9 L1198.50,96.5 L1199.00,96.5 L1199.50,97.8 L1200.00,97.3 L1200.50,97.8 L1201.00,97.8 L1201.50,96.2 L1202.00,97.0 L1202.50,96.5 L1203.00,94.7 L1203.50,93.9 L1204.00,91.0 L1204.50,91.0 L1204.70,91.0 L1204.7,113.8 L1204.0,113.8 L1204.0,113.2 L1201.0,113.2 L1201.0,110.8 L1199.0,110.8 L1199.0,114.9 L1197.0,114.9 L1197.0,113.4 L1194.5,113.4 L1194.5,113.3 L1192.5,113.3 L1192.5,114.0 L1191.0,114.0 L1191.0,114.4 L1189.5,114.4 L1189.5,111.4 L1186.5,111.4 L1186.5,110.9 L1185.0,110.9 L1185.0,115.5 L1181.5,115.5 L1181.5,114.1 L1179.5,114.1 L1179.5,112.0 L1176.0,112.0 L1176.0,118.0 L1172.0,118.0 L1172.0,113.6 L1170.5,113.6 L1170.5,118.7 L1168.5,118.7 L1168.5,113.3 L1166.5,113.3 L1166.5,112.5 L1163.0,112.5 L1163.0,115.0 L1159.0,115.0 L1159.0,115.7 L1155.5,115.7 L1155.5,112.6 L1152.5,112.6 L1152.5,115.6 L1148.5,115.6 L1148.5,114.0 L1146.5,114.0 L1146.5,114.7 L1142.5,114.7 L1142.5,112.5 L1140.0,112.5 L1140.0,118.3 L1137.0,118.3 L1137.0,115.1 L1134.0,115.1 L1134.0,117.7 L1132.5,117.7 L1132.5,112.1 L1130.5,112.1 L1130.5,114.0 L1128.5,114.0 L1128.5,110.0 L1125.0,110.0 L1125.0,118.9 L1121.0,118.9 L1121.0,112.5 L1119.0,112.5 L1119.0,115.3 L1116.5,115.3 L1116.5,112.0 L1112.5,112.0 L1112.5,114.9 L1110.5,114.9 L1110.5,110.7 L1106.5,110.7 L1106.5,114.5 L1103.0,114.5 L1103.0,111.8 L1101.0,111.8 L1101.0,111.9 L1098.0,111.9 L1098.0,110.1 L1096.0,110.1 L1096.0,115.1 L1093.0,115.1 L1093.0,118.9 L1091.0,118.9 L1091.0,115.1 L1087.5,115.1 L1087.5,109.9 L1084.5,109.9 L1084.5,117.3 L1082.0,117.3 L1082.0,110.1 L1078.5,110.1 L1078.5,109.6 L1075.0,109.6 L1075.0,114.2 L1071.0,114.2 L1071.0,114.1 L1069.0,114.1 L1069.0,112.9 L1065.0,112.9 L1065.0,118.0 L1063.0,118.0 L1063.0,118.5 L1059.5,118.5 L1059.5,111.9 L1056.5,111.9 L1056.5,112.2 L1054.5,112.2 L1054.5,114.2 L1051.5,114.2 L1051.5,116.1 L1047.5,116.1 L1047.5,114.9 L1046.0,114.9 L1046.0,113.0 L1044.5,113.0 L1044.5,113.1 L1041.5,113.1 L1041.5,115.1 L1040.0,115.1 L1040.0,115.1 L1037.5,115.1 L1037.5,115.1 L1033.5,115.1 L1033.5,115.9 L1029.5,115.9 L1029.5,110.2 L1026.0,110.2 L1026.0,113.3 L1022.0,113.3 L1022.0,113.2 L1019.5,113.2 L1019.5,112.2 L1017.0,112.2 L1017.0,114.6 L1014.5,114.6 L1014.5,118.6 L1011.5,118.6 L1011.5,115.8 L1008.5,115.8 L1008.5,115.2 L1006.5,115.2 L1006.5,109.7 L1005.0,109.7 L1005.0,113.7 L1002.5,113.7 L1002.5,115.2 L999.5,115.2 L999.5,113.9 L997.5,113.9 L997.5,110.4 L996.0,110.4 L996.0,116.0 L993.0,116.0 L993.0,113.1 L989.5,113.1 L989.5,110.3 L987.5,110.3 L987.5,119.0 L984.5,119.0 L984.5,109.7 L980.5,109.7 L980.5,114.3 L976.5,114.3 L976.5,115.4 L975.0,115.4 L975.0,114.9 L973.5,114.9 L973.5,114.3 L971.5,114.3 L971.5,110.8 L968.5,110.8 L968.5,109.9 L966.0,109.9 L966.0,115.7 L963.5,115.7 L963.5,115.2 L961.5,115.2 L961.5,113.8 L958.0,113.8 L958.0,113.1 L956.0,113.1 L956.0,114.7 L953.5,114.7 L953.5,114.9 L952.0,114.9 L952.0,115.2 L948.0,115.2 L948.0,116.2 L946.0,116.2 L946.0,111.7 L942.5,111.7 L942.5,117.0 L940.5,117.0 L940.5,114.3 L936.5,114.3 L936.5,115.8 L934.0,115.8 L934.0,114.9 L932.0,114.9 L932.0,109.7 L928.5,109.7 L928.5,114.2 L924.5,114.2 L924.5,117.5 L920.5,117.5 L920.5,114.7 L919.0,114.7 L919.0,112.6 L916.0,112.6 L916.0,117.2 L913.0,117.2 L913.0,115.4 L910.5,115.4 L910.5,115.9 L909.0,115.9 L909.0,113.4 L907.0,113.4 L907.0,112.8 L903.0,112.8 L903.0,113.4 L901.0,113.4 L901.0,113.8 L899.0,113.8 L899.0,109.8 L897.0,109.8 L897.0,118.0 L895.0,118.0 L895.0,115.0 L893.0,115.0 L893.0,113.5 L891.0,113.5 L891.0,116.4 L889.0,116.4 L889.0,115.1 L886.5,115.1 L886.5,110.7 L883.0,110.7 L883.0,113.0 L881.0,113.0 L881.0,112.7 L878.0,112.7 L878.0,113.4 L875.5,113.4 L875.5,113.0 L872.5,113.0 L872.5,113.2 L868.5,113.2 L868.5,116.0 L866.5,116.0 L866.5,115.8 L863.0,115.8 L863.0,115.1 L861.5,115.1 L861.5,111.2 L859.5,111.2 L859.5,115.8 L856.0,115.8 L856.0,114.8 L853.0,114.8 L853.0,115.2 L850.0,115.2 L850.0,114.8 L848.0,114.8 L848.0,114.2 L844.0,114.2 L844.0,118.7 L840.0,118.7 L840.0,118.5 L838.0,118.5 L838.0,114.7 L835.0,114.7 L835.0,113.0 L833.0,113.0 L833.0,113.5 L831.5,113.5 L831.5,112.5 L830.0,112.5 L830.0,115.8 L828.0,115.8 L828.0,115.3 L824.5,115.3 L824.5,114.3 L822.5,114.3 L822.5,110.3 L820.5,110.3 L820.5,114.8 L818.5,114.8 L818.5,113.9 L815.0,113.9 L815.0,115.3 L811.5,115.3 L811.5,115.6 L810.0,115.6 L810.0,114.1 L807.5,114.1 L807.5,109.9 L805.0,109.9 L805.0,116.5 L801.5,116.5 L801.5,114.6 L799.0,114.6 L799.0,114.7 L797.0,114.7 L797.0,112.9 L793.5,112.9 L793.5,118.7 L790.5,118.7 L790.5,118.5 L786.5,118.5 L786.5,117.1 L784.5,117.1 L784.5,113.9 L780.5,113.9 L780.5,114.7 L777.5,114.7 L777.5,114.6 L775.0,114.6 L775.0,115.2 L773.0,115.2 L773.0,114.3 L771.0,114.3 L771.0,112.6 L768.0,112.6 L768.0,115.2 L766.0,115.2 L766.0,114.1 L764.5,114.1 L764.5,112.7 L760.5,112.7 L760.5,115.2 L758.0,115.2 L758.0,118.9 L756.0,118.9 L756.0,118.2 L754.0,118.2 L754.0,112.9 L752.0,112.9 L752.0,110.6 L749.0,110.6 L749.0,115.8 L746.5,115.8 L746.5,114.6 L742.5,114.6 L742.5,114.4 L741.0,114.4 L741.0,114.4 L738.0,114.4 L738.0,114.6 L735.5,114.6 L735.5,115.6 L734.0,115.6 L734.0,113.0 L730.5,113.0 L730.5,115.3 L728.5,115.3 L728.5,113.9 L724.5,113.9 L724.5,112.7 L720.5,112.7 L720.5,115.7 L717.0,115.7 L717.0,116.8 L714.5,116.8 L714.5,115.2 L712.0,115.2 L712.0,115.4 L708.5,115.4 L708.5,112.5 L706.5,112.5 L706.5,113.1 L703.5,113.1 L703.5,118.6 L702.0,118.6 L702.0,113.4 L698.0,113.4 L698.0,111.8 L695.5,111.8 L695.5,114.1 L692.5,114.1 L692.5,111.5 L689.5,111.5 L689.5,114.6 L687.5,114.6 L687.5,113.2 L685.5,113.2 L685.5,116.3 L684.0,116.3 L684.0,111.4 L682.5,111.4 L682.5,111.4 L680.5,111.4 L680.5,116.0 L678.0,116.0 L678.0,116.8 L676.5,116.8 L676.5,113.3 L673.0,113.3 L673.0,110.5 L670.5,110.5 L670.5,112.8 L668.5,112.8 L668.5,114.2 L666.5,114.2 L666.5,113.2 L664.0,113.2 L664.0,114.0 L661.5,114.0 L661.5,113.8 L659.0,113.8 L659.0,109.6 L656.0,109.6 L656.0,115.5 L653.0,115.5 L653.0,115.4 L650.0,115.4 L650.0,109.7 L648.0,109.7 L648.0,115.9 L646.0,115.9 L646.0,111.0 L642.0,111.0 L642.0,118.9 L638.0,118.9 L638.0,109.7 L634.0,109.7 L634.0,112.8 L632.5,112.8 L632.5,113.3 L630.5,113.3 L630.5,113.0 L627.5,113.0 L627.5,117.3 L625.0,117.3 L625.0,114.7 L622.5,114.7 L622.5,117.5 L620.5,117.5 L620.5,113.4 L617.0,113.4 L617.0,114.9 L613.5,114.9 L613.5,115.3 L611.5,115.3 L611.5,114.7 L608.0,114.7 L608.0,113.7 L606.0,113.7 L606.0,110.2 L603.5,110.2 L603.5,113.7 L601.0,113.7 L601.0,116.1 L597.5,116.1 L597.5,113.7 L594.5,113.7 L594.5,113.6 L591.5,113.6 L591.5,116.0 L588.5,116.0 L588.5,114.6 L586.0,114.6 L586.0,114.0 L582.0,114.0 L582.0,115.9 L578.0,115.9 L578.0,117.3 L574.5,117.3 L574.5,114.4 L572.5,114.4 L572.5,116.3 L568.5,116.3 L568.5,111.2 L566.5,111.2 L566.5,116.5 L563.0,116.5 L563.0,113.5 L561.5,113.5 L561.5,113.1 L558.5,113.1 L558.5,110.9 L555.0,110.9 L555.0,111.5 L551.5,111.5 L551.5,115.5 L549.5,115.5 L549.5,114.7 L546.5,114.7 L546.5,116.0 L544.0,116.0 L544.0,114.7 L540.0,114.7 L540.0,110.5 L536.0,110.5 L536.0,113.8 L534.5,113.8 L534.5,117.5 L532.5,117.5 L532.5,113.7 L530.5,113.7 L530.5,115.1 L527.0,115.1 L527.0,110.4 L523.0,110.4 L523.0,114.4 L519.0,114.4 L519.0,112.3 L517.0,112.3 L517.0,113.3 L513.5,113.3 L513.5,111.0 L510.5,111.0 L510.5,114.2 L507.5,114.2 L507.5,114.9 L503.5,114.9 L503.5,111.1 L501.5,111.1 L501.5,116.0 L498.0,116.0 L498.0,110.2 L496.0,110.2 L496.0,115.8 L493.0,115.8 L493.0,110.7 L490.5,110.7 L490.5,115.6 L488.5,115.6 L488.5,113.5 L485.5,113.5 L485.5,114.5 L482.5,114.5 L482.5,118.5 L481.0,118.5 L481.0,117.6 L478.0,117.6 L478.0,112.9 L476.0,112.9 L476.0,113.3 L474.5,113.3 L474.5,117.2 L472.5,117.2 L472.5,114.5 L470.5,114.5 L470.5,114.7 L469.0,114.7 L469.0,115.8 L466.0,115.8 L466.0,118.5 L464.0,118.5 L464.0,112.2 L462.5,112.2 L462.5,111.8 L460.5,111.8 L460.5,110.1 L457.0,110.1 L457.0,111.3 L455.0,111.3 L455.0,111.7 L451.0,111.7 L451.0,113.4 L447.5,113.4 L447.5,117.0 L444.5,117.0 L444.5,115.3 L442.5,115.3 L442.5,115.2 L440.5,115.2 L440.5,115.0 L437.5,115.0 L437.5,115.7 L434.0,115.7 L434.0,113.7 L432.0,113.7 L432.0,116.5 L430.5,116.5 L430.5,112.8 L426.5,112.8 L426.5,110.1 L425.0,110.1 L425.0,115.5 L422.0,115.5 L422.0,112.7 L419.0,112.7 L419.0,113.0 L417.5,113.0 L417.5,110.8 L413.5,110.8 L413.5,114.4 L412.0,114.4 L412.0,117.8 L408.5,117.8 L408.5,113.1 L406.5,113.1 L406.5,109.7 L404.0,109.7 L404.0,113.0 L400.0,113.0 L400.0,111.0 L396.5,111.0 L396.5,110.9 L395.0,110.9 L395.0,111.4 L391.0,111.4 L391.0,112.7 L387.0,112.7 L387.0,110.6 L384.0,110.6 L384.0,115.4 L380.5,115.4 L380.5,116.0 L376.5,116.0 L376.5,111.2 L375.0,111.2 L375.0,117.7 L372.0,117.7 L372.0,114.4 L368.5,114.4 L368.5,118.8 L366.5,118.8 L366.5,116.9 L364.5,116.9 L364.5,114.0 L360.5,114.0 L360.5,114.2 L358.5,114.2 L358.5,113.2 L356.0,113.2 L356.0,118.4 L354.0,118.4 L354.0,116.6 L351.5,116.6 L351.5,115.3 L349.0,115.3 L349.0,114.7 L347.0,114.7 L347.0,113.0 L344.5,113.0 L344.5,117.8 L341.5,117.8 L341.5,114.8 L337.5,114.8 L337.5,110.4 L336.0,110.4 L336.0,117.2 L332.5,117.2 L332.5,111.9 L329.5,111.9 L329.5,116.7 L327.0,116.7 L327.0,115.8 L325.0,115.8 L325.0,116.7 L323.5,116.7 L323.5,118.6 L321.0,118.6 L321.0,109.9 L317.5,109.9 L317.5,113.7 L313.5,113.7 L313.5,116.7 L312.0,116.7 L312.0,113.2 L309.5,113.2 L309.5,113.0 L307.0,113.0 L307.0,114.4 L303.5,114.4 L303.5,116.8 L300.5,116.8 L300.5,116.7 L298.0,116.7 L298.0,111.7 L295.5,111.7 L295.5,112.7 L293.0,112.7 L293.0,116.7 L291.0,116.7 L291.0,110.8 L288.0,110.8 L288.0,118.6 L286.5,118.6 L286.5,112.5 L284.5,112.5 L284.5,116.2 L282.5,116.2 L282.5,115.4 L278.5,115.4 L278.5,118.8 L275.5,118.8 L275.5,113.0 L273.0,113.0 L273.0,118.4 L271.0,118.4 L271.0,113.3 L267.5,113.3 L267.5,114.3 L265.5,114.3 L265.5,109.6 L262.5,109.6 L262.5,113.2 L260.0,113.2 L260.0,114.4 L258.0,114.4 L258.0,111.0 L255.5,111.0 L255.5,109.6 L251.5,109.6 L251.5,116.9 L249.5,116.9 L249.5,113.7 L247.0,113.7 L247.0,114.2 L245.5,114.2 L245.5,115.9 L242.5,115.9 L242.5,116.3 L241.0,116.3 L241.0,113.8 L239.0,113.8 L239.0,113.5 L237.5,113.5 L237.5,113.5 L235.5,113.5 L235.5,116.4 L232.5,116.4 L232.5,113.7 L228.5,113.7 L228.5,117.0 L226.5,117.0 L226.5,115.7 L223.0,115.7 L223.0,113.4 L219.5,113.4 L219.5,114.1 L218.0,114.1 L218.0,118.3 L214.5,118.3 L214.5,111.9 L213.0,111.9 L213.0,115.0 L210.0,115.0 L210.0,112.3 L208.0,112.3 L208.0,115.3 L205.5,115.3 L205.5,115.4 L204.0,115.4 L204.0,118.7 L200.5,118.7 L200.5,118.9 L197.5,118.9 L197.5,114.6 L195.5,114.6 L195.5,109.8 L193.5,109.8 L193.5,112.7 L190.0,112.7 L190.0,116.2 L187.5,116.2 L187.5,112.4 L184.5,112.4 L184.5,110.8 L182.0,110.8 L182.0,113.1 L179.0,113.1 L179.0,112.0 L176.0,112.0 L176.0,109.9 L172.5,109.9 L172.5,110.4 L170.0,110.4 L170.0,115.0 L167.0,115.0 L167.0,118.9 L163.0,118.9 L163.0,112.7 L161.0,112.7 L161.0,117.8 L157.5,117.8 L157.5,116.9 L155.0,116.9 L155.0,114.3 L152.5,114.3 L152.5,111.1 L150.5,111.1 L150.5,117.0 L147.0,117.0 L147.0,111.0 L145.0,111.0 L145.0,113.9 L143.5,113.9 L143.5,112.1 L140.5,112.1 L140.5,117.2 L138.5,117.2 L138.5,115.7 L137.0,115.7 L137.0,117.2 L135.5,117.2 Z" fill="#f26d9f"/>
<line x1="142.5" y1="111.0" x2="142.5" y2="120.3" stroke="#f26d9f" stroke-width="1.2"/>
<line x1="145.0" y1="111.0" x2="145.0" y2="120.3" stroke="#b4788f" stroke-width="1.0"/>
<line x1="148.5" y1="111.0" x2="148.5" y2="118.5" stroke="#f26d9f" stroke-width="1.2"/>
<line x1="152.0" y1="111.0" x2="152.0" y2="121.3" stroke="#e0688f" stroke-width="1.0"/>
<line x1="155.5" y1="111.0" x2="155.5" y2="122.4" stroke="#e0688f" stroke-width="1.2"/>
<line x1="158.0" y1="109.8" x2="158.0" y2="115.5" stroke="#5a2c40" stroke-width="1.2" opacity="0.5"/>
<line x1="160.0" y1="111.0" x2="160.0" y2="123.6" stroke="#f26d9f" stroke-width="1.5"/>
<line x1="162.5" y1="111.0" x2="162.5" y2="119.9" stroke="#c8648a" stroke-width="1.0"/>
<line x1="170.0" y1="111.0" x2="170.0" y2="119.5" stroke="#c8648a" stroke-width="1.2"/>
<line x1="174.5" y1="111.0" x2="174.5" y2="126.8" stroke="#c8648a" stroke-width="1.8"/>
<line x1="177.0" y1="111.0" x2="177.0" y2="122.5" stroke="#b4788f" stroke-width="1.0"/>
<line x1="183.5" y1="111.0" x2="183.5" y2="118.7" stroke="#f26d9f" stroke-width="1.5"/>
<line x1="188.0" y1="107.9" x2="188.0" y2="113.6" stroke="#5a2c40" stroke-width="1.2" opacity="0.5"/>
<line x1="191.0" y1="107.7" x2="191.0" y2="114.7" stroke="#5a2c40" stroke-width="1.2" opacity="0.5"/>
<line x1="192.0" y1="111.0" x2="192.0" y2="120.6" stroke="#e0688f" stroke-width="1.5"/>
<line x1="194.5" y1="108.8" x2="194.5" y2="113.1" stroke="#5a2c40" stroke-width="1.2" opacity="0.5"/>
<line x1="203.5" y1="111.0" x2="203.5" y2="121.2" stroke="#f26d9f" stroke-width="1.2"/>
<line x1="208.0" y1="108.6" x2="208.0" y2="113.0" stroke="#5a2c40" stroke-width="1.2" opacity="0.5"/>
<line x1="213.0" y1="111.0" x2="213.0" y2="123.9" stroke="#e0688f" stroke-width="1.8"/>
<line x1="215.5" y1="111.0" x2="215.5" y2="126.8" stroke="#f26d9f" stroke-width="1.5"/>
<line x1="218.0" y1="111.0" x2="218.0" y2="123.5" stroke="#e0688f" stroke-width="1.8"/>
<line x1="223.5" y1="107.9" x2="223.5" y2="114.6" stroke="#5a2c40" stroke-width="1.2" opacity="0.5"/>
<line x1="224.5" y1="111.0" x2="224.5" y2="122.8" stroke="#e0688f" stroke-width="1.8"/>
<line x1="228.0" y1="111.0" x2="228.0" y2="120.4" stroke="#b4788f" stroke-width="1.5"/>
<line x1="230.5" y1="111.0" x2="230.5" y2="122.6" stroke="#b4788f" stroke-width="1.0"/>
<line x1="236.0" y1="107.9" x2="236.0" y2="114.3" stroke="#5a2c40" stroke-width="1.2" opacity="0.5"/>
<line x1="238.0" y1="109.8" x2="238.0" y2="115.7" stroke="#5a2c40" stroke-width="1.2" opacity="0.5"/>
<line x1="240.0" y1="111.0" x2="240.0" y2="120.8" stroke="#c8648a" stroke-width="1.8"/>
<line x1="242.5" y1="108.0" x2="242.5" y2="114.0" stroke="#5a2c40" stroke-width="1.2" opacity="0.5"/>
<line x1="244.5" y1="107.4" x2="244.5" y2="114.2" stroke="#5a2c40" stroke-width="1.2" opacity="0.5"/>
<line x1="247.5" y1="111.0" x2="247.5" y2="123.1" stroke="#c8648a" stroke-width="1.5"/>
<line x1="252.0" y1="111.0" x2="252.0" y2="122.9" stroke="#f26d9f" stroke-width="1.5"/>
<line x1="257.5" y1="111.0" x2="257.5" y2="122.5" stroke="#f26d9f" stroke-width="1.5"/>
<line x1="264.0" y1="111.0" x2="264.0" y2="118.1" stroke="#e0688f" stroke-width="1.2"/>
<line x1="267.5" y1="111.0" x2="267.5" y2="122.0" stroke="#e0688f" stroke-width="1.2"/>
<line x1="270.0" y1="111.0" x2="270.0" y2="117.9" stroke="#e0688f" stroke-width="1.8"/>
<line x1="272.5" y1="111.0" x2="272.5" y2="117.2" stroke="#f26d9f" stroke-width="1.0"/>
<line x1="276.0" y1="111.0" x2="276.0" y2="126.8" stroke="#f26d9f" stroke-width="1.5"/>
<line x1="285.5" y1="108.1" x2="285.5" y2="114.9" stroke="#5a2c40" stroke-width="1.2" opacity="0.5"/>
<line x1="286.5" y1="107.4" x2="286.5" y2="111.8" stroke="#5a2c40" stroke-width="1.2" opacity="0.5"/>
<line x1="291.5" y1="111.0" x2="291.5" y2="119.7" stroke="#e0688f" stroke-width="1.2"/>
<line x1="297.0" y1="111.0" x2="297.0" y2="117.8" stroke="#b4788f" stroke-width="1.2"/>
<line x1="309.5" y1="111.0" x2="309.5" y2="121.2" stroke="#c8648a" stroke-width="1.8"/>
<line x1="312.0" y1="106.1" x2="312.0" y2="112.9" stroke="#5a2c40" stroke-width="1.2" opacity="0.5"/>
<line x1="315.0" y1="111.0" x2="315.0" y2="117.2" stroke="#f26d9f" stroke-width="1.2"/>
<line x1="317.5" y1="109.1" x2="317.5" y2="115.6" stroke="#5a2c40" stroke-width="1.2" opacity="0.5"/>
<line x1="318.5" y1="111.0" x2="318.5" y2="120.7" stroke="#f26d9f" stroke-width="1.0"/>
<line x1="321.0" y1="107.1" x2="321.0" y2="111.5" stroke="#5a2c40" stroke-width="1.2" opacity="0.5"/>
<line x1="323.0" y1="108.4" x2="323.0" y2="113.9" stroke="#5a2c40" stroke-width="1.2" opacity="0.5"/>
<line x1="327.0" y1="111.0" x2="327.0" y2="122.3" stroke="#b4788f" stroke-width="1.5"/>
<line x1="331.5" y1="111.0" x2="331.5" y2="119.4" stroke="#b4788f" stroke-width="1.2"/>
<line x1="334.0" y1="111.0" x2="334.0" y2="118.8" stroke="#f26d9f" stroke-width="1.2"/>
<line x1="336.5" y1="111.0" x2="336.5" y2="122.4" stroke="#b4788f" stroke-width="1.8"/>
<line x1="348.0" y1="111.0" x2="348.0" y2="122.5" stroke="#f26d9f" stroke-width="1.5"/>
<line x1="350.5" y1="111.0" x2="350.5" y2="120.3" stroke="#f26d9f" stroke-width="1.5"/>
<line x1="356.0" y1="111.0" x2="356.0" y2="122.1" stroke="#f26d9f" stroke-width="1.0"/>
<line x1="359.5" y1="111.0" x2="359.5" y2="122.1" stroke="#f26d9f" stroke-width="1.8"/>
<line x1="362.0" y1="111.0" x2="362.0" y2="122.9" stroke="#f26d9f" stroke-width="1.2"/>
<line x1="367.5" y1="111.0" x2="367.5" y2="118.3" stroke="#f26d9f" stroke-width="1.2"/>
<line x1="370.0" y1="111.0" x2="370.0" y2="117.8" stroke="#f26d9f" stroke-width="1.5"/>
<line x1="372.5" y1="111.0" x2="372.5" y2="121.0" stroke="#b4788f" stroke-width="1.2"/>
<line x1="375.0" y1="111.0" x2="375.0" y2="117.6" stroke="#f26d9f" stroke-width="1.8"/>
<line x1="380.5" y1="111.0" x2="380.5" y2="119.1" stroke="#b4788f" stroke-width="1.5"/>
<line x1="386.0" y1="108.2" x2="386.0" y2="113.0" stroke="#5a2c40" stroke-width="1.2" opacity="0.5"/>
<line x1="389.0" y1="111.0" x2="389.0" y2="118.6" stroke="#f26d9f" stroke-width="1.2"/>
<line x1="391.5" y1="111.0" x2="391.5" y2="117.1" stroke="#b4788f" stroke-width="1.0"/>
<line x1="394.0" y1="111.0" x2="394.0" y2="117.9" stroke="#e0688f" stroke-width="1.8"/>
<line x1="400.5" y1="111.0" x2="400.5" y2="126.8" stroke="#e0688f" stroke-width="1.8"/>
<line x1="404.0" y1="111.0" x2="404.0" y2="117.8" stroke="#f26d9f" stroke-width="1.2"/>
<line x1="406.5" y1="111.0" x2="406.5" y2="121.4" stroke="#e0688f" stroke-width="1.5"/>
<line x1="413.0" y1="111.0" x2="413.0" y2="122.8" stroke="#f26d9f" stroke-width="1.5"/>
<line x1="420.5" y1="111.0" x2="420.5" y2="117.2" stroke="#f26d9f" stroke-width="1.8"/>
<line x1="426.0" y1="111.0" x2="426.0" y2="120.3" stroke="#b4788f" stroke-width="1.8"/>
<line x1="430.5" y1="111.0" x2="430.5" y2="126.8" stroke="#f26d9f" stroke-width="1.8"/>
<line x1="433.0" y1="111.0" x2="433.0" y2="118.8" stroke="#e0688f" stroke-width="1.5"/>
<line x1="436.5" y1="111.0" x2="436.5" y2="123.3" stroke="#c8648a" stroke-width="1.5"/>
<line x1="444.0" y1="111.0" x2="444.0" y2="121.7" stroke="#e0688f" stroke-width="1.2"/>
<line x1="446.5" y1="111.0" x2="446.5" y2="122.0" stroke="#f26d9f" stroke-width="1.8"/>
<line x1="452.0" y1="111.0" x2="452.0" y2="126.8" stroke="#f26d9f" stroke-width="1.2"/>
<line x1="455.5" y1="111.0" x2="455.5" y2="126.8" stroke="#b4788f" stroke-width="1.8"/>
<line x1="459.0" y1="107.8" x2="459.0" y2="113.2" stroke="#5a2c40" stroke-width="1.2" opacity="0.5"/>
<line x1="461.0" y1="111.0" x2="461.0" y2="117.2" stroke="#b4788f" stroke-width="1.5"/>
<line x1="465.5" y1="111.0" x2="465.5" y2="126.8" stroke="#f26d9f" stroke-width="1.0"/>
<line x1="472.0" y1="111.0" x2="472.0" y2="122.8" stroke="#f26d9f" stroke-width="1.0"/>
<line x1="475.5" y1="111.0" x2="475.5" y2="121.9" stroke="#e0688f" stroke-width="1.2"/>
<line x1="478.0" y1="111.0" x2="478.0" y2="126.8" stroke="#b4788f" stroke-width="1.2"/>
<line x1="482.5" y1="111.0" x2="482.5" y2="117.1" stroke="#f26d9f" stroke-width="1.8"/>
<line x1="493.0" y1="111.0" x2="493.0" y2="117.8" stroke="#f26d9f" stroke-width="1.5"/>
<line x1="497.5" y1="111.0" x2="497.5" y2="117.6" stroke="#f26d9f" stroke-width="1.8"/>
<line x1="502.0" y1="108.0" x2="502.0" y2="112.7" stroke="#5a2c40" stroke-width="1.2" opacity="0.5"/>
<line x1="507.0" y1="111.0" x2="507.0" y2="122.4" stroke="#b4788f" stroke-width="1.0"/>
<line x1="519.5" y1="109.2" x2="519.5" y2="114.4" stroke="#5a2c40" stroke-width="1.2" opacity="0.5"/>
<line x1="520.5" y1="111.0" x2="520.5" y2="126.8" stroke="#c8648a" stroke-width="1.8"/>
<line x1="524.0" y1="106.3" x2="524.0" y2="112.5" stroke="#5a2c40" stroke-width="1.2" opacity="0.5"/>
<line x1="526.0" y1="111.0" x2="526.0" y2="126.8" stroke="#c8648a" stroke-width="1.8"/>
<line x1="531.5" y1="111.0" x2="531.5" y2="120.0" stroke="#c8648a" stroke-width="1.5"/>
<line x1="534.0" y1="111.0" x2="534.0" y2="121.1" stroke="#f26d9f" stroke-width="1.5"/>
<line x1="537.5" y1="111.0" x2="537.5" y2="122.0" stroke="#f26d9f" stroke-width="1.8"/>
<line x1="540.0" y1="111.0" x2="540.0" y2="119.2" stroke="#f26d9f" stroke-width="1.8"/>
<line x1="542.5" y1="111.0" x2="542.5" y2="117.3" stroke="#e0688f" stroke-width="1.8"/>
<line x1="547.0" y1="111.0" x2="547.0" y2="122.7" stroke="#f26d9f" stroke-width="1.2"/>
<line x1="550.5" y1="111.0" x2="550.5" y2="121.0" stroke="#c8648a" stroke-width="1.8"/>
<line x1="554.0" y1="111.0" x2="554.0" y2="122.8" stroke="#b4788f" stroke-width="1.5"/>
<line x1="563.5" y1="111.0" x2="563.5" y2="120.5" stroke="#e0688f" stroke-width="1.2"/>
<line x1="567.0" y1="111.0" x2="567.0" y2="126.8" stroke="#c8648a" stroke-width="1.2"/>
<line x1="574.5" y1="111.0" x2="574.5" y2="118.4" stroke="#f26d9f" stroke-width="1.2"/>
<line x1="578.0" y1="111.0" x2="578.0" y2="121.7" stroke="#b4788f" stroke-width="1.8"/>
<line x1="588.5" y1="111.0" x2="588.5" y2="118.0" stroke="#b4788f" stroke-width="1.0"/>
<line x1="593.0" y1="106.3" x2="593.0" y2="110.6" stroke="#5a2c40" stroke-width="1.2" opacity="0.5"/>
<line x1="600.0" y1="108.9" x2="600.0" y2="113.1" stroke="#5a2c40" stroke-width="1.2" opacity="0.5"/>
<line x1="609.0" y1="111.0" x2="609.0" y2="120.6" stroke="#e0688f" stroke-width="1.5"/>
<line x1="614.5" y1="111.0" x2="614.5" y2="126.8" stroke="#b4788f" stroke-width="1.2"/>
<line x1="620.0" y1="111.0" x2="620.0" y2="121.8" stroke="#c8648a" stroke-width="1.2"/>
<line x1="623.5" y1="111.0" x2="623.5" y2="119.1" stroke="#b4788f" stroke-width="1.0"/>
<line x1="627.0" y1="111.0" x2="627.0" y2="121.4" stroke="#e0688f" stroke-width="1.0"/>
<line x1="634.5" y1="111.0" x2="634.5" y2="120.4" stroke="#e0688f" stroke-width="1.5"/>
<line x1="638.0" y1="111.0" x2="638.0" y2="123.2" stroke="#f26d9f" stroke-width="1.0"/>
<line x1="640.5" y1="111.0" x2="640.5" y2="119.1" stroke="#b4788f" stroke-width="1.2"/>
<line x1="645.0" y1="111.0" x2="645.0" y2="122.5" stroke="#f26d9f" stroke-width="1.0"/>
<line x1="648.5" y1="111.0" x2="648.5" y2="126.8" stroke="#e0688f" stroke-width="1.8"/>
<line x1="653.0" y1="111.0" x2="653.0" y2="121.9" stroke="#f26d9f" stroke-width="1.0"/>
<line x1="655.5" y1="111.0" x2="655.5" y2="126.8" stroke="#c8648a" stroke-width="1.2"/>
<line x1="664.0" y1="111.0" x2="664.0" y2="123.3" stroke="#b4788f" stroke-width="1.0"/>
<line x1="668.5" y1="111.0" x2="668.5" y2="126.8" stroke="#f26d9f" stroke-width="1.2"/>
<line x1="674.0" y1="111.0" x2="674.0" y2="121.2" stroke="#f26d9f" stroke-width="1.8"/>
<line x1="682.5" y1="111.0" x2="682.5" y2="122.7" stroke="#e0688f" stroke-width="1.5"/>
<line x1="686.0" y1="108.0" x2="686.0" y2="114.1" stroke="#5a2c40" stroke-width="1.2" opacity="0.5"/>
<line x1="689.0" y1="107.3" x2="689.0" y2="113.9" stroke="#5a2c40" stroke-width="1.2" opacity="0.5"/>
<line x1="691.0" y1="111.0" x2="691.0" y2="119.9" stroke="#f26d9f" stroke-width="1.2"/>
<line x1="693.5" y1="106.4" x2="693.5" y2="111.8" stroke="#5a2c40" stroke-width="1.2" opacity="0.5"/>
<line x1="698.5" y1="111.0" x2="698.5" y2="119.5" stroke="#f26d9f" stroke-width="1.2"/>
<line x1="702.0" y1="111.0" x2="702.0" y2="118.8" stroke="#f26d9f" stroke-width="1.0"/>
<line x1="704.5" y1="111.0" x2="704.5" y2="118.5" stroke="#f26d9f" stroke-width="1.0"/>
<line x1="708.0" y1="111.0" x2="708.0" y2="119.0" stroke="#f26d9f" stroke-width="1.0"/>
<line x1="710.5" y1="111.0" x2="710.5" y2="119.7" stroke="#f26d9f" stroke-width="1.0"/>
<line x1="713.0" y1="111.0" x2="713.0" y2="120.0" stroke="#f26d9f" stroke-width="1.8"/>
<line x1="715.5" y1="111.0" x2="715.5" y2="126.8" stroke="#c8648a" stroke-width="1.2"/>
<line x1="719.0" y1="111.0" x2="719.0" y2="126.8" stroke="#c8648a" stroke-width="1.2"/>
<line x1="722.5" y1="111.0" x2="722.5" y2="118.0" stroke="#f26d9f" stroke-width="1.0"/>
<line x1="727.0" y1="111.0" x2="727.0" y2="126.8" stroke="#f26d9f" stroke-width="1.2"/>
<line x1="729.5" y1="111.0" x2="729.5" y2="117.1" stroke="#c8648a" stroke-width="1.8"/>
<line x1="732.0" y1="111.0" x2="732.0" y2="118.7" stroke="#b4788f" stroke-width="1.0"/>
<line x1="734.5" y1="111.0" x2="734.5" y2="126.8" stroke="#e0688f" stroke-width="1.5"/>
<line x1="738.0" y1="111.0" x2="738.0" y2="119.1" stroke="#b4788f" stroke-width="1.0"/>
<line x1="740.5" y1="106.4" x2="740.5" y2="111.6" stroke="#5a2c40" stroke-width="1.2" opacity="0.5"/>
<line x1="747.5" y1="111.0" x2="747.5" y2="126.8" stroke="#f26d9f" stroke-width="1.2"/>
<line x1="750.0" y1="111.0" x2="750.0" y2="126.8" stroke="#f26d9f" stroke-width="1.2"/>
<line x1="756.5" y1="111.0" x2="756.5" y2="126.8" stroke="#f26d9f" stroke-width="1.5"/>
<line x1="762.0" y1="111.0" x2="762.0" y2="117.9" stroke="#b4788f" stroke-width="1.5"/>
<line x1="769.5" y1="111.0" x2="769.5" y2="126.8" stroke="#f26d9f" stroke-width="1.0"/>
<line x1="776.0" y1="108.2" x2="776.0" y2="114.7" stroke="#5a2c40" stroke-width="1.2" opacity="0.5"/>
<line x1="777.0" y1="111.0" x2="777.0" y2="119.5" stroke="#b4788f" stroke-width="1.2"/>
<line x1="780.5" y1="111.0" x2="780.5" y2="126.8" stroke="#e0688f" stroke-width="1.5"/>
<line x1="784.0" y1="107.1" x2="784.0" y2="113.5" stroke="#5a2c40" stroke-width="1.2" opacity="0.5"/>
<line x1="786.0" y1="109.3" x2="786.0" y2="115.2" stroke="#5a2c40" stroke-width="1.2" opacity="0.5"/>
<line x1="789.0" y1="107.1" x2="789.0" y2="113.7" stroke="#5a2c40" stroke-width="1.2" opacity="0.5"/>
<line x1="792.0" y1="111.0" x2="792.0" y2="126.8" stroke="#c8648a" stroke-width="1.0"/>
<line x1="794.5" y1="111.0" x2="794.5" y2="117.3" stroke="#f26d9f" stroke-width="1.0"/>
<line x1="797.0" y1="111.0" x2="797.0" y2="119.9" stroke="#b4788f" stroke-width="1.8"/>
<line x1="800.5" y1="111.0" x2="800.5" y2="126.8" stroke="#f26d9f" stroke-width="1.0"/>
<line x1="803.0" y1="111.0" x2="803.0" y2="122.0" stroke="#b4788f" stroke-width="1.0"/>
<line x1="807.5" y1="107.6" x2="807.5" y2="112.5" stroke="#5a2c40" stroke-width="1.2" opacity="0.5"/>
<line x1="809.5" y1="109.5" x2="809.5" y2="114.5" stroke="#5a2c40" stroke-width="1.2" opacity="0.5"/>
<line x1="818.5" y1="111.0" x2="818.5" y2="124.0" stroke="#f26d9f" stroke-width="1.8"/>
<line x1="821.0" y1="111.0" x2="821.0" y2="118.0" stroke="#b4788f" stroke-width="1.8"/>
<line x1="825.5" y1="111.0" x2="825.5" y2="120.0" stroke="#b4788f" stroke-width="1.2"/>
<line x1="833.0" y1="106.4" x2="833.0" y2="111.2" stroke="#5a2c40" stroke-width="1.2" opacity="0.5"/>
<line x1="836.0" y1="108.5" x2="836.0" y2="114.4" stroke="#5a2c40" stroke-width="1.2" opacity="0.5"/>
<line x1="838.0" y1="111.0" x2="838.0" y2="122.4" stroke="#f26d9f" stroke-width="1.5"/>
<line x1="842.5" y1="111.0" x2="842.5" y2="123.8" stroke="#c8648a" stroke-width="1.5"/>
<line x1="845.0" y1="111.0" x2="845.0" y2="123.0" stroke="#c8648a" stroke-width="1.0"/>
<line x1="847.5" y1="107.3" x2="847.5" y2="114.3" stroke="#5a2c40" stroke-width="1.2" opacity="0.5"/>
<line x1="849.5" y1="111.0" x2="849.5" y2="126.8" stroke="#f26d9f" stroke-width="1.8"/>
<line x1="852.0" y1="111.0" x2="852.0" y2="119.9" stroke="#f26d9f" stroke-width="1.5"/>
<line x1="858.5" y1="111.0" x2="858.5" y2="126.8" stroke="#e0688f" stroke-width="1.0"/>
<line x1="862.0" y1="111.0" x2="862.0" y2="121.6" stroke="#f26d9f" stroke-width="1.8"/>
<line x1="864.5" y1="111.0" x2="864.5" y2="119.1" stroke="#f26d9f" stroke-width="1.0"/>
<line x1="867.0" y1="111.0" x2="867.0" y2="120.6" stroke="#f26d9f" stroke-width="1.2"/>
<line x1="873.5" y1="111.0" x2="873.5" y2="117.4" stroke="#f26d9f" stroke-width="1.5"/>
<line x1="880.0" y1="109.0" x2="880.0" y2="113.7" stroke="#5a2c40" stroke-width="1.2" opacity="0.5"/>
<line x1="884.0" y1="111.0" x2="884.0" y2="118.4" stroke="#f26d9f" stroke-width="1.8"/>
<line x1="887.5" y1="111.0" x2="887.5" y2="126.8" stroke="#f26d9f" stroke-width="1.5"/>
<line x1="892.0" y1="111.0" x2="892.0" y2="126.8" stroke="#b4788f" stroke-width="1.5"/>
<line x1="898.5" y1="111.0" x2="898.5" y2="117.2" stroke="#f26d9f" stroke-width="1.8"/>
<line x1="905.0" y1="111.0" x2="905.0" y2="119.0" stroke="#c8648a" stroke-width="1.8"/>
<line x1="909.5" y1="106.8" x2="909.5" y2="113.6" stroke="#5a2c40" stroke-width="1.2" opacity="0.5"/>
<line x1="910.5" y1="111.0" x2="910.5" y2="126.8" stroke="#f26d9f" stroke-width="1.5"/>
<line x1="922.0" y1="111.0" x2="922.0" y2="126.8" stroke="#f26d9f" stroke-width="1.8"/>
<line x1="925.5" y1="111.0" x2="925.5" y2="120.7" stroke="#f26d9f" stroke-width="1.2"/>
<line x1="928.0" y1="111.0" x2="928.0" y2="118.2" stroke="#f26d9f" stroke-width="1.0"/>
<line x1="932.5" y1="111.0" x2="932.5" y2="126.8" stroke="#e0688f" stroke-width="1.0"/>
<line x1="945.0" y1="111.0" x2="945.0" y2="118.8" stroke="#e0688f" stroke-width="1.8"/>
<line x1="947.5" y1="111.0" x2="947.5" y2="117.1" stroke="#f26d9f" stroke-width="1.2"/>
<line x1="955.0" y1="111.0" x2="955.0" y2="122.6" stroke="#b4788f" stroke-width="1.8"/>
<line x1="962.5" y1="111.0" x2="962.5" y2="123.2" stroke="#e0688f" stroke-width="1.0"/>
<line x1="966.0" y1="111.0" x2="966.0" y2="120.7" stroke="#e0688f" stroke-width="1.2"/>
<line x1="969.5" y1="111.0" x2="969.5" y2="117.4" stroke="#f26d9f" stroke-width="1.8"/>
<line x1="972.0" y1="111.0" x2="972.0" y2="123.7" stroke="#e0688f" stroke-width="1.2"/>
<line x1="974.5" y1="111.0" x2="974.5" y2="126.8" stroke="#f26d9f" stroke-width="1.5"/>
<line x1="992.0" y1="111.0" x2="992.0" y2="119.3" stroke="#f26d9f" stroke-width="1.2"/>
<line x1="996.5" y1="111.0" x2="996.5" y2="121.4" stroke="#f26d9f" stroke-width="1.5"/>
<line x1="1001.0" y1="111.0" x2="1001.0" y2="120.8" stroke="#f26d9f" stroke-width="1.0"/>
<line x1="1015.5" y1="108.3" x2="1015.5" y2="114.9" stroke="#5a2c40" stroke-width="1.2" opacity="0.5"/>
<line x1="1022.5" y1="111.0" x2="1022.5" y2="126.8" stroke="#b4788f" stroke-width="1.0"/>
<line x1="1027.0" y1="111.0" x2="1027.0" y2="121.6" stroke="#f26d9f" stroke-width="1.5"/>
<line x1="1035.5" y1="111.0" x2="1035.5" y2="126.8" stroke="#f26d9f" stroke-width="1.0"/>
<line x1="1040.0" y1="111.0" x2="1040.0" y2="119.1" stroke="#b4788f" stroke-width="1.8"/>
<line x1="1048.5" y1="111.0" x2="1048.5" y2="119.6" stroke="#e0688f" stroke-width="1.5"/>
<line x1="1056.0" y1="111.0" x2="1056.0" y2="119.3" stroke="#f26d9f" stroke-width="1.5"/>
<line x1="1058.5" y1="111.0" x2="1058.5" y2="123.8" stroke="#f26d9f" stroke-width="1.2"/>
<line x1="1067.0" y1="111.0" x2="1067.0" y2="120.6" stroke="#f26d9f" stroke-width="1.2"/>
<line x1="1072.5" y1="111.0" x2="1072.5" y2="120.1" stroke="#c8648a" stroke-width="1.5"/>
<line x1="1077.0" y1="111.0" x2="1077.0" y2="126.8" stroke="#c8648a" stroke-width="1.0"/>
<line x1="1082.5" y1="111.0" x2="1082.5" y2="123.5" stroke="#c8648a" stroke-width="1.5"/>
<line x1="1086.0" y1="111.0" x2="1086.0" y2="120.0" stroke="#c8648a" stroke-width="1.8"/>
<line x1="1091.5" y1="111.0" x2="1091.5" y2="120.3" stroke="#b4788f" stroke-width="1.0"/>
<line x1="1094.0" y1="111.0" x2="1094.0" y2="123.2" stroke="#c8648a" stroke-width="1.0"/>
<line x1="1099.5" y1="111.0" x2="1099.5" y2="122.2" stroke="#f26d9f" stroke-width="1.5"/>
<line x1="1102.0" y1="106.7" x2="1102.0" y2="111.9" stroke="#5a2c40" stroke-width="1.2" opacity="0.5"/>
<line x1="1105.0" y1="108.5" x2="1105.0" y2="113.8" stroke="#5a2c40" stroke-width="1.2" opacity="0.5"/>
<line x1="1108.0" y1="106.1" x2="1108.0" y2="112.6" stroke="#5a2c40" stroke-width="1.2" opacity="0.5"/>
<line x1="1110.0" y1="108.0" x2="1110.0" y2="113.7" stroke="#5a2c40" stroke-width="1.2" opacity="0.5"/>
<line x1="1117.0" y1="111.0" x2="1117.0" y2="126.8" stroke="#f26d9f" stroke-width="1.0"/>
<line x1="1119.5" y1="108.1" x2="1119.5" y2="112.2" stroke="#5a2c40" stroke-width="1.2" opacity="0.5"/>
<line x1="1120.5" y1="111.0" x2="1120.5" y2="123.9" stroke="#e0688f" stroke-width="1.5"/>
<line x1="1124.0" y1="111.0" x2="1124.0" y2="117.9" stroke="#c8648a" stroke-width="1.0"/>
<line x1="1126.5" y1="106.3" x2="1126.5" y2="110.6" stroke="#5a2c40" stroke-width="1.2" opacity="0.5"/>
<line x1="1132.5" y1="106.7" x2="1132.5" y2="111.5" stroke="#5a2c40" stroke-width="1.2" opacity="0.5"/>
<line x1="1133.5" y1="111.0" x2="1133.5" y2="118.2" stroke="#f26d9f" stroke-width="1.0"/>
<line x1="1138.0" y1="111.0" x2="1138.0" y2="117.4" stroke="#b4788f" stroke-width="1.2"/>
<line x1="1142.5" y1="106.1" x2="1142.5" y2="110.9" stroke="#5a2c40" stroke-width="1.2" opacity="0.5"/>
<line x1="1144.5" y1="111.0" x2="1144.5" y2="117.6" stroke="#c8648a" stroke-width="1.2"/>
<line x1="1158.0" y1="106.6" x2="1158.0" y2="110.6" stroke="#5a2c40" stroke-width="1.2" opacity="0.5"/>
<line x1="1160.0" y1="111.0" x2="1160.0" y2="117.0" stroke="#e0688f" stroke-width="1.2"/>
<line x1="1162.5" y1="111.0" x2="1162.5" y2="121.7" stroke="#c8648a" stroke-width="1.2"/>
<line x1="1165.0" y1="111.0" x2="1165.0" y2="126.8" stroke="#b4788f" stroke-width="1.8"/>
<line x1="1167.5" y1="111.0" x2="1167.5" y2="120.1" stroke="#c8648a" stroke-width="1.0"/>
<line x1="1179.0" y1="111.0" x2="1179.0" y2="126.8" stroke="#e0688f" stroke-width="1.5"/>
<line x1="1186.5" y1="111.0" x2="1186.5" y2="120.8" stroke="#f26d9f" stroke-width="1.0"/>
<line x1="1190.0" y1="111.0" x2="1190.0" y2="120.8" stroke="#e0688f" stroke-width="1.5"/>
<line x1="1194.5" y1="111.0" x2="1194.5" y2="119.5" stroke="#b4788f" stroke-width="1.2"/>
<line x1="1197.0" y1="111.0" x2="1197.0" y2="118.6" stroke="#f26d9f" stroke-width="1.8"/>
<line x1="1200.5" y1="111.0" x2="1200.5" y2="119.8" stroke="#f26d9f" stroke-width="1.8"/>
<line x1="1204.0" y1="111.0" x2="1204.0" y2="123.9" stroke="#b4788f" stroke-width="1.0"/>
<line x1="509.8" y1="35" x2="509.8" y2="112" stroke="#f4f4f4" stroke-width="1.5" stroke-dasharray="7 3 2 3"/>
<path d="M509.8,104.2 L505.8,98.6 H508.6 V94.5 H511 V98.6 H513.8 Z" fill="#f4f4f4"/>
<line x1="537.3" y1="35" x2="537.3" y2="93" stroke="#f4f4f4" stroke-width="3" stroke-dasharray="13.5 7 15 6.5 20 0"/>
<line x1="537.3" y1="93" x2="537.3" y2="116" stroke="#f4f4f4" stroke-width="1.8"/>
<path d="M537.3,101.8 L542.2,107.6 H538.8 V111 H535.8 V107.6 H532.4 Z" fill="#f4f4f4"/>
<text x="509.8" y="123" font-family="Liberation Sans" font-size="8" font-weight="bold" fill="#ececec" text-anchor="middle" letter-spacing="-0.3">F2</text>
<text x="537.3" y="123" font-family="Liberation Sans" font-size="8" font-weight="bold" fill="#ececec" text-anchor="middle" letter-spacing="-0.3">F2</text>
<text x="134.5" y="56" font-family="Liberation Sans" font-size="7.5" font-weight="bold" fill="#ee7fa5" text-anchor="end" letter-spacing="-0.3">F2</text>
<path d="M127,58.8 H135" stroke="#ee8fb0" stroke-width="1.6"/>
<line x1="135.5" y1="58" x2="135.5" y2="127" stroke="#e0709a" stroke-width="1.6"/>
<circle cx="135.5" cy="129.6" r="1.6" fill="#ee5f8f"/>
<text x="135.5" y="200.5" font-family="Liberation Sans" font-size="7.5" font-weight="bold" fill="#e2cf2e" text-anchor="end" letter-spacing="-0.3">Z1</text>
<path d="M129.5,203 L135,205.3 L129.5,207.6" fill="none" stroke="#e2cf2e" stroke-width="1.4"/>
<path d="M671.5,253 L669,257.5 H674 Z" fill="#e2cf2e"/>
<line x1="135.5" y1="164.20" x2="1204.7" y2="164.20" stroke="#4a5052" stroke-width="1" opacity="0.28" stroke-dasharray="3 2"/>
<line x1="135.5" y1="176.00" x2="1204.7" y2="176.00" stroke="#4a5052" stroke-width="1" opacity="0.28" stroke-dasharray="3 2"/>
<line x1="135.5" y1="187.80" x2="1204.7" y2="187.80" stroke="#4a5052" stroke-width="1" opacity="0.28" stroke-dasharray="3 2"/>
<line x1="135.5" y1="199.60" x2="1204.7" y2="199.60" stroke="#4a5052" stroke-width="1" opacity="0.28" stroke-dasharray="3 2"/>
<line x1="135.5" y1="211.40" x2="1204.7" y2="211.40" stroke="#4a5052" stroke-width="1" opacity="0.28" stroke-dasharray="3 2"/>
<line x1="135.5" y1="223.20" x2="1204.7" y2="223.20" stroke="#4a5052" stroke-width="1" opacity="0.28" stroke-dasharray="3 2"/>
<line x1="135.5" y1="235.00" x2="1204.7" y2="235.00" stroke="#4a5052" stroke-width="1" opacity="0.28" stroke-dasharray="3 2"/>
<line x1="135.5" y1="246.80" x2="1204.7" y2="246.80" stroke="#4a5052" stroke-width="1" opacity="0.28" stroke-dasharray="3 2"/>
<line x1="135.5" y1="158.30" x2="1204.7" y2="158.30" stroke="#6d7374" stroke-width="1.3" opacity="0.95"/>
<line x1="135.5" y1="170.10" x2="1204.7" y2="170.10" stroke="#6d7374" stroke-width="1.3" opacity="0.72"/>
<line x1="135.5" y1="181.90" x2="1204.7" y2="181.90" stroke="#6d7374" stroke-width="1.3" opacity="0.72"/>
<line x1="135.5" y1="193.70" x2="1204.7" y2="193.70" stroke="#6d7374" stroke-width="1.3" opacity="0.72"/>
<line x1="135.5" y1="205.50" x2="1204.7" y2="205.50" stroke="#6d7374" stroke-width="1.3" opacity="0.85"/>
<line x1="135.5" y1="217.30" x2="1204.7" y2="217.30" stroke="#6d7374" stroke-width="1.3" opacity="0.72"/>
<line x1="135.5" y1="229.10" x2="1204.7" y2="229.10" stroke="#6d7374" stroke-width="1.3" opacity="0.72"/>
<line x1="135.5" y1="240.90" x2="1204.7" y2="240.90" stroke="#6d7374" stroke-width="1.3" opacity="0.72"/>
<line x1="135.5" y1="252.70" x2="1204.7" y2="252.70" stroke="#6d7374" stroke-width="1.3" opacity="0.95"/>
<line x1="135.50" y1="158.3" x2="135.50" y2="252.7" stroke="#7f8586" stroke-width="1.4" opacity="1"/>
<line x1="242.42" y1="158.3" x2="242.42" y2="252.7" stroke="#7f8586" stroke-width="1.4" opacity="0.78"/>
<line x1="349.34" y1="158.3" x2="349.34" y2="252.7" stroke="#7f8586" stroke-width="1.4" opacity="0.78"/>
<line x1="456.26" y1="158.3" x2="456.26" y2="252.7" stroke="#7f8586" stroke-width="1.4" opacity="0.78"/>
<line x1="563.18" y1="158.3" x2="563.18" y2="252.7" stroke="#7f8586" stroke-width="1.4" opacity="0.78"/>
<line x1="670.10" y1="158.3" x2="670.10" y2="252.7" stroke="#7f8586" stroke-width="1.4" opacity="0.78"/>
<line x1="777.02" y1="158.3" x2="777.02" y2="252.7" stroke="#7f8586" stroke-width="1.4" opacity="0.78"/>
<line x1="883.94" y1="158.3" x2="883.94" y2="252.7" stroke="#7f8586" stroke-width="1.4" opacity="0.78"/>
<line x1="990.86" y1="158.3" x2="990.86" y2="252.7" stroke="#7f8586" stroke-width="1.4" opacity="0.78"/>
<line x1="1097.78" y1="158.3" x2="1097.78" y2="252.7" stroke="#7f8586" stroke-width="1.4" opacity="0.78"/>
<line x1="1204.70" y1="158.3" x2="1204.70" y2="252.7" stroke="#7f8586" stroke-width="1.4" opacity="1"/>
<circle cx="156.88" cy="175.65" r="0.8" fill="#c4caca" opacity="0.4"/>
<circle cx="178.27" cy="175.65" r="0.8" fill="#c4caca" opacity="0.4"/>
<circle cx="199.65" cy="175.65" r="0.8" fill="#c4caca" opacity="0.4"/>
<circle cx="221.04" cy="175.65" r="0.8" fill="#c4caca" opacity="0.4"/>
<circle cx="263.80" cy="175.65" r="0.8" fill="#c4caca" opacity="0.4"/>
<circle cx="285.19" cy="175.65" r="0.8" fill="#c4caca" opacity="0.4"/>
<circle cx="306.57" cy="175.65" r="0.8" fill="#c4caca" opacity="0.4"/>
<circle cx="327.96" cy="175.65" r="0.8" fill="#c4caca" opacity="0.4"/>
<circle cx="370.72" cy="175.65" r="0.8" fill="#c4caca" opacity="0.4"/>
<circle cx="392.11" cy="175.65" r="0.8" fill="#c4caca" opacity="0.4"/>
<circle cx="413.49" cy="175.65" r="0.8" fill="#c4caca" opacity="0.4"/>
<circle cx="434.88" cy="175.65" r="0.8" fill="#c4caca" opacity="0.4"/>
<circle cx="477.64" cy="175.65" r="0.8" fill="#c4caca" opacity="0.4"/>
<circle cx="499.03" cy="175.65" r="0.8" fill="#c4caca" opacity="0.4"/>
<circle cx="520.41" cy="175.65" r="0.8" fill="#c4caca" opacity="0.4"/>
<circle cx="541.80" cy="175.65" r="0.8" fill="#c4caca" opacity="0.4"/>
<circle cx="584.56" cy="175.65" r="0.8" fill="#c4caca" opacity="0.4"/>
<circle cx="605.95" cy="175.65" r="0.8" fill="#c4caca" opacity="0.4"/>
<circle cx="627.33" cy="175.65" r="0.8" fill="#c4caca" opacity="0.4"/>
<circle cx="648.72" cy="175.65" r="0.8" fill="#c4caca" opacity="0.4"/>
<circle cx="691.48" cy="175.65" r="0.8" fill="#c4caca" opacity="0.4"/>
<circle cx="712.87" cy="175.65" r="0.8" fill="#c4caca" opacity="0.4"/>
<circle cx="734.25" cy="175.65" r="0.8" fill="#c4caca" opacity="0.4"/>
<circle cx="755.64" cy="175.65" r="0.8" fill="#c4caca" opacity="0.4"/>
<circle cx="798.40" cy="175.65" r="0.8" fill="#c4caca" opacity="0.4"/>
<circle cx="819.79" cy="175.65" r="0.8" fill="#c4caca" opacity="0.4"/>
<circle cx="841.17" cy="175.65" r="0.8" fill="#c4caca" opacity="0.4"/>
<circle cx="862.56" cy="175.65" r="0.8" fill="#c4caca" opacity="0.4"/>
<circle cx="905.32" cy="175.65" r="0.8" fill="#c4caca" opacity="0.4"/>
<circle cx="926.71" cy="175.65" r="0.8" fill="#c4caca" opacity="0.4"/>
<circle cx="948.09" cy="175.65" r="0.8" fill="#c4caca" opacity="0.4"/>
<circle cx="969.48" cy="175.65" r="0.8" fill="#c4caca" opacity="0.4"/>
<circle cx="1012.24" cy="175.65" r="0.8" fill="#c4caca" opacity="0.4"/>
<circle cx="1033.63" cy="175.65" r="0.8" fill="#c4caca" opacity="0.4"/>
<circle cx="1055.01" cy="175.65" r="0.8" fill="#c4caca" opacity="0.4"/>
<circle cx="1076.40" cy="175.65" r="0.8" fill="#c4caca" opacity="0.4"/>
<circle cx="1119.16" cy="175.65" r="0.8" fill="#c4caca" opacity="0.4"/>
<circle cx="1140.55" cy="175.65" r="0.8" fill="#c4caca" opacity="0.4"/>
<circle cx="1161.93" cy="175.65" r="0.8" fill="#c4caca" opacity="0.4"/>
<circle cx="1183.32" cy="175.65" r="0.8" fill="#c4caca" opacity="0.4"/>
<circle cx="156.88" cy="205.50" r="1.4" fill="#c4caca" opacity="0.65"/>
<circle cx="178.27" cy="205.50" r="1.4" fill="#c4caca" opacity="0.65"/>
<circle cx="199.65" cy="205.50" r="1.4" fill="#c4caca" opacity="0.65"/>
<circle cx="221.04" cy="205.50" r="1.4" fill="#c4caca" opacity="0.65"/>
<circle cx="263.80" cy="205.50" r="1.4" fill="#c4caca" opacity="0.65"/>
<circle cx="285.19" cy="205.50" r="1.4" fill="#c4caca" opacity="0.65"/>
<circle cx="306.57" cy="205.50" r="1.4" fill="#c4caca" opacity="0.65"/>
<circle cx="327.96" cy="205.50" r="1.4" fill="#c4caca" opacity="0.65"/>
<circle cx="370.72" cy="205.50" r="1.4" fill="#c4caca" opacity="0.65"/>
<circle cx="392.11" cy="205.50" r="1.4" fill="#c4caca" opacity="0.65"/>
<circle cx="413.49" cy="205.50" r="1.4" fill="#c4caca" opacity="0.65"/>
<circle cx="434.88" cy="205.50" r="1.4" fill="#c4caca" opacity="0.65"/>
<circle cx="477.64" cy="205.50" r="1.4" fill="#c4caca" opacity="0.65"/>
<circle cx="499.03" cy="205.50" r="1.4" fill="#c4caca" opacity="0.65"/>
<circle cx="520.41" cy="205.50" r="1.4" fill="#c4caca" opacity="0.65"/>
<circle cx="541.80" cy="205.50" r="1.4" fill="#c4caca" opacity="0.65"/>
<circle cx="584.56" cy="205.50" r="1.4" fill="#c4caca" opacity="0.65"/>
<circle cx="605.95" cy="205.50" r="1.4" fill="#c4caca" opacity="0.65"/>
<circle cx="627.33" cy="205.50" r="1.4" fill="#c4caca" opacity="0.65"/>
<circle cx="648.72" cy="205.50" r="1.4" fill="#c4caca" opacity="0.65"/>
<circle cx="691.48" cy="205.50" r="1.4" fill="#c4caca" opacity="0.65"/>
<circle cx="712.87" cy="205.50" r="1.4" fill="#c4caca" opacity="0.65"/>
<circle cx="734.25" cy="205.50" r="1.4" fill="#c4caca" opacity="0.65"/>
<circle cx="755.64" cy="205.50" r="1.4" fill="#c4caca" opacity="0.65"/>
<circle cx="798.40" cy="205.50" r="1.4" fill="#c4caca" opacity="0.65"/>
<circle cx="819.79" cy="205.50" r="1.4" fill="#c4caca" opacity="0.65"/>
<circle cx="841.17" cy="205.50" r="1.4" fill="#c4caca" opacity="0.65"/>
<circle cx="862.56" cy="205.50" r="1.4" fill="#c4caca" opacity="0.65"/>
<circle cx="905.32" cy="205.50" r="1.4" fill="#c4caca" opacity="0.65"/>
<circle cx="926.71" cy="205.50" r="1.4" fill="#c4caca" opacity="0.65"/>
<circle cx="948.09" cy="205.50" r="1.4" fill="#c4caca" opacity="0.65"/>
<circle cx="969.48" cy="205.50" r="1.4" fill="#c4caca" opacity="0.65"/>
<circle cx="1012.24" cy="205.50" r="1.4" fill="#c4caca" opacity="0.65"/>
<circle cx="1033.63" cy="205.50" r="1.4" fill="#c4caca" opacity="0.65"/>
<circle cx="1055.01" cy="205.50" r="1.4" fill="#c4caca" opacity="0.65"/>
<circle cx="1076.40" cy="205.50" r="1.4" fill="#c4caca" opacity="0.65"/>
<circle cx="1119.16" cy="205.50" r="1.4" fill="#c4caca" opacity="0.65"/>
<circle cx="1140.55" cy="205.50" r="1.4" fill="#c4caca" opacity="0.65"/>
<circle cx="1161.93" cy="205.50" r="1.4" fill="#c4caca" opacity="0.65"/>
<circle cx="1183.32" cy="205.50" r="1.4" fill="#c4caca" opacity="0.65"/>
<circle cx="156.88" cy="234.65" r="0.8" fill="#c4caca" opacity="0.4"/>
<circle cx="178.27" cy="234.65" r="0.8" fill="#c4caca" opacity="0.4"/>
<circle cx="199.65" cy="234.65" r="0.8" fill="#c4caca" opacity="0.4"/>
<circle cx="221.04" cy="234.65" r="0.8" fill="#c4caca" opacity="0.4"/>
<circle cx="263.80" cy="234.65" r="0.8" fill="#c4caca" opacity="0.4"/>
<circle cx="285.19" cy="234.65" r="0.8" fill="#c4caca" opacity="0.4"/>
<circle cx="306.57" cy="234.65" r="0.8" fill="#c4caca" opacity="0.4"/>
<circle cx="327.96" cy="234.65" r="0.8" fill="#c4caca" opacity="0.4"/>
<circle cx="370.72" cy="234.65" r="0.8" fill="#c4caca" opacity="0.4"/>
<circle cx="392.11" cy="234.65" r="0.8" fill="#c4caca" opacity="0.4"/>
<circle cx="413.49" cy="234.65" r="0.8" fill="#c4caca" opacity="0.4"/>
<circle cx="434.88" cy="234.65" r="0.8" fill="#c4caca" opacity="0.4"/>
<circle cx="477.64" cy="234.65" r="0.8" fill="#c4caca" opacity="0.4"/>
<circle cx="499.03" cy="234.65" r="0.8" fill="#c4caca" opacity="0.4"/>
<circle cx="520.41" cy="234.65" r="0.8" fill="#c4caca" opacity="0.4"/>
<circle cx="541.80" cy="234.65" r="0.8" fill="#c4caca" opacity="0.4"/>
<circle cx="584.56" cy="234.65" r="0.8" fill="#c4caca" opacity="0.4"/>
<circle cx="605.95" cy="234.65" r="0.8" fill="#c4caca" opacity="0.4"/>
<circle cx="627.33" cy="234.65" r="0.8" fill="#c4caca" opacity="0.4"/>
<circle cx="648.72" cy="234.65" r="0.8" fill="#c4caca" opacity="0.4"/>
<circle cx="691.48" cy="234.65" r="0.8" fill="#c4caca" opacity="0.4"/>
<circle cx="712.87" cy="234.65" r="0.8" fill="#c4caca" opacity="0.4"/>
<circle cx="734.25" cy="234.65" r="0.8" fill="#c4caca" opacity="0.4"/>
<circle cx="755.64" cy="234.65" r="0.8" fill="#c4caca" opacity="0.4"/>
<circle cx="798.40" cy="234.65" r="0.8" fill="#c4caca" opacity="0.4"/>
<circle cx="819.79" cy="234.65" r="0.8" fill="#c4caca" opacity="0.4"/>
<circle cx="841.17" cy="234.65" r="0.8" fill="#c4caca" opacity="0.4"/>
<circle cx="862.56" cy="234.65" r="0.8" fill="#c4caca" opacity="0.4"/>
<circle cx="905.32" cy="234.65" r="0.8" fill="#c4caca" opacity="0.4"/>
<circle cx="926.71" cy="234.65" r="0.8" fill="#c4caca" opacity="0.4"/>
<circle cx="948.09" cy="234.65" r="0.8" fill="#c4caca" opacity="0.4"/>
<circle cx="969.48" cy="234.65" r="0.8" fill="#c4caca" opacity="0.4"/>
<circle cx="1012.24" cy="234.65" r="0.8" fill="#c4caca" opacity="0.4"/>
<circle cx="1033.63" cy="234.65" r="0.8" fill="#c4caca" opacity="0.4"/>
<circle cx="1055.01" cy="234.65" r="0.8" fill="#c4caca" opacity="0.4"/>
<circle cx="1076.40" cy="234.65" r="0.8" fill="#c4caca" opacity="0.4"/>
<circle cx="1119.16" cy="234.65" r="0.8" fill="#c4caca" opacity="0.4"/>
<circle cx="1140.55" cy="234.65" r="0.8" fill="#c4caca" opacity="0.4"/>
<circle cx="1161.93" cy="234.65" r="0.8" fill="#c4caca" opacity="0.4"/>
<circle cx="1183.32" cy="234.65" r="0.8" fill="#c4caca" opacity="0.4"/>
<path d="M135.5,229.77 L136.0,229.92 L136.5,229.83 L137.0,229.95 L137.5,229.96 L138.0,229.68 L138.5,229.66 L139.0,230.07 L139.5,229.78 L140.0,229.77 L140.5,230.15 L141.0,229.89 L141.5,230.07 L142.0,229.89 L142.5,229.97 L143.0,229.73 L143.5,229.97 L144.0,230.08 L144.5,229.91 L145.0,230.02 L145.5,229.99 L146.0,229.68 L146.5,230.03 L147.0,229.95 L147.5,229.80 L148.0,229.67 L148.5,230.08 L149.0,229.89 L149.5,230.01 L150.0,230.09 L150.5,230.01 L151.0,230.11 L151.5,229.85 L152.0,230.05 L152.5,229.87 L153.0,230.12 L153.5,230.09 L154.0,229.70 L154.5,229.72 L155.0,229.76 L155.5,230.13 L156.0,229.87 L156.5,229.96 L157.0,229.80 L157.5,229.90 L158.0,229.84 L158.5,229.83 L159.0,229.94 L159.5,229.94 L160.0,230.10 L160.5,229.99 L161.0,230.11 L161.5,230.08 L162.0,230.15 L162.5,229.99 L163.0,229.73 L163.5,230.08 L164.0,230.13 L164.5,230.10 L165.0,229.93 L165.5,230.01 L166.0,229.76 L166.5,230.07 L167.0,229.94 L167.5,229.79 L168.0,229.68 L168.5,230.08 L169.0,230.14 L169.5,229.69 L170.0,230.05 L170.5,229.86 L171.0,229.73 L171.5,229.80 L172.0,230.03 L172.5,230.09 L173.0,229.67 L173.5,229.96 L174.0,229.67 L174.5,230.01 L175.0,229.82 L175.5,230.09 L176.0,230.14 L176.5,229.90 L177.0,230.15 L177.5,229.80 L178.0,229.69 L178.5,229.95 L179.0,229.67 L179.5,229.75 L180.0,229.85 L180.5,229.96 L181.0,229.73 L181.5,229.67 L182.0,230.08 L182.5,229.81 L183.0,230.13 L183.5,230.10 L184.0,229.84 L184.5,229.88 L185.0,229.91 L185.5,229.97 L186.0,229.95 L186.5,229.93 L187.0,229.96 L187.5,230.12 L188.0,229.90 L188.5,229.87 L189.0,230.01 L189.5,229.77 L190.0,229.80 L190.5,230.14 L191.0,229.91 L191.5,229.92 L192.0,229.66 L192.5,229.86 L193.0,229.94 L193.5,229.66 L194.0,229.96 L194.5,229.97 L195.0,229.68 L195.5,229.96 L196.0,229.88 L196.5,229.99 L197.0,229.83 L197.5,230.00 L198.0,230.02 L198.5,229.66 L199.0,229.68 L199.5,229.99 L200.0,230.13 L200.5,229.78 L201.0,229.88 L201.5,229.95 L202.0,229.81 L202.5,229.83 L203.0,229.81 L203.5,229.83 L204.0,229.95 L204.5,229.80 L205.0,229.84 L205.5,230.04 L206.0,229.66 L206.5,229.93 L207.0,230.02 L207.5,229.80 L208.0,229.76 L208.5,230.05 L209.0,229.77 L209.5,229.74 L210.0,229.87 L210.5,230.00 L211.0,229.70 L211.5,229.81 L212.0,229.82 L212.5,230.07 L213.0,229.87 L213.5,230.08 L214.0,229.73 L214.5,229.82 L215.0,229.97 L215.5,230.09 L216.0,229.88 L216.5,229.76 L217.0,229.71 L217.5,229.91 L218.0,229.74 L218.5,230.05 L219.0,230.07 L219.5,229.74 L220.0,229.79 L220.5,230.05 L221.0,229.97 L221.5,230.05 L222.0,229.82 L222.5,229.71 L223.0,229.79 L223.5,230.04 L224.0,229.77 L224.5,229.81 L225.0,229.84 L225.5,229.84 L226.0,229.83 L226.5,230.08 L227.0,229.69 L227.5,229.60 L228.0,230.06 L228.5,230.01 L229.0,230.05 L229.5,229.75 L230.0,230.00 L230.5,229.97 L231.0,229.63 L231.5,229.91 L232.0,230.02 L232.5,230.01 L233.0,230.05 L233.5,230.04 L234.0,230.13 L234.5,230.04 L235.0,229.81 L235.5,229.75 L236.0,229.10 L236.5,228.70 L237.0,227.51 L237.5,227.01 L238.0,225.87 L238.5,224.82 L239.0,223.52 L239.5,222.07 L240.0,220.28 L240.5,218.16 L241.0,216.49 L241.5,213.96 L242.0,211.61 L242.5,209.24 L243.0,206.54 L243.5,203.81 L244.0,201.45 L244.5,198.75 L245.0,196.22 L245.5,193.96 L246.0,192.26 L246.5,190.27 L247.0,188.83 L247.5,187.20 L248.0,185.85 L248.5,184.83 L249.0,183.84 L249.5,182.41 L250.0,181.62 L250.5,180.62 L251.0,179.61 L251.5,178.86 L252.0,177.96 L252.5,178.10 L253.0,178.34 L253.5,178.29 L254.0,178.91 L254.5,179.46 L255.0,180.10 L255.5,180.48 L256.0,180.85 L256.5,181.25 L257.0,181.04 L257.5,181.20 L258.0,181.32 L258.5,181.37 L259.0,181.37 L259.5,181.81 L260.0,181.71 L260.5,181.26 L261.0,181.38 L261.5,181.19 L262.0,181.08 L262.5,180.99 L263.0,181.02 L263.5,180.86 L264.0,180.63 L264.5,180.41 L265.0,180.35 L265.5,180.13 L266.0,180.24 L266.5,180.25 L267.0,180.05 L267.5,179.90 L268.0,180.00 L268.5,180.19 L269.0,180.41 L269.5,180.63 L270.0,180.55 L270.5,180.88 L271.0,180.90 L271.5,180.90 L272.0,180.96 L272.5,181.12 L273.0,181.32 L273.5,181.30 L274.0,181.57 L274.5,181.62 L275.0,181.71 L275.5,182.10 L276.0,182.48 L276.5,182.54 L277.0,183.17 L277.5,183.72 L278.0,184.61 L278.5,185.44 L279.0,186.11 L279.5,187.51 L280.0,188.78 L280.5,190.06 L281.0,191.92 L281.5,193.73 L282.0,196.27 L282.5,198.57 L283.0,201.21 L283.5,203.79 L284.0,206.39 L284.5,209.07 L285.0,211.55 L285.5,213.74 L286.0,216.24 L286.5,218.01 L287.0,219.93 L287.5,221.92 L288.0,223.06 L288.5,224.46 L289.0,225.77 L289.5,227.41 L290.0,228.27 L290.5,229.33 L291.0,230.75 L291.5,231.20 L292.0,232.11 L292.5,232.26 L293.0,232.28 L293.5,232.05 L294.0,231.42 L294.5,231.05 L295.0,230.21 L295.5,230.19 L296.0,229.75 L296.5,229.63 L297.0,229.15 L297.5,229.33 L298.0,229.32 L298.5,228.79 L299.0,228.85 L299.5,228.93 L300.0,229.04 L300.5,228.76 L301.0,228.77 L301.5,228.87 L302.0,229.13 L302.5,229.30 L303.0,229.23 L303.5,229.32 L304.0,229.44 L304.5,229.51 L305.0,229.62 L305.5,229.52 L306.0,229.78 L306.5,230.05 L307.0,229.80 L307.5,229.99 L308.0,229.71 L308.5,229.98 L309.0,230.02 L309.5,229.98 L310.0,229.91 L310.5,229.89 L311.0,229.97 L311.5,230.10 L312.0,229.72 L312.5,229.70 L313.0,230.02 L313.5,230.11 L314.0,229.91 L314.5,229.87 L315.0,230.01 L315.5,229.74 L316.0,229.78 L316.5,229.75 L317.0,229.94 L317.5,229.81 L318.0,229.77 L318.5,230.00 L319.0,230.13 L319.5,229.80 L320.0,230.00 L320.5,229.86 L321.0,230.08 L321.5,229.94 L322.0,229.78 L322.5,229.76 L323.0,229.66 L323.5,229.89 L324.0,229.84 L324.5,229.74 L325.0,229.83 L325.5,229.81 L326.0,230.04 L326.5,229.72 L327.0,230.15 L327.5,229.89 L328.0,229.95 L328.5,229.88 L329.0,230.07 L329.5,230.06 L330.0,229.93 L330.5,229.89 L331.0,230.01 L331.5,230.08 L332.0,229.85 L332.5,230.02 L333.0,230.13 L333.5,229.88 L334.0,229.76 L334.5,229.77 L335.0,230.01 L335.5,229.99 L336.0,230.13 L336.5,230.08 L337.0,229.77 L337.5,229.74 L338.0,229.78 L338.5,229.74 L339.0,230.00 L339.5,230.08 L340.0,230.10 L340.5,229.78 L341.0,230.08 L341.5,229.81 L342.0,229.86 L342.5,230.01 L343.0,229.69 L343.5,229.70 L344.0,230.07 L344.5,229.80 L345.0,229.83 L345.5,229.94 L346.0,229.99 L346.5,229.65 L347.0,229.82 L347.5,229.87 L348.0,229.89 L348.5,229.76 L349.0,229.94 L349.5,230.13 L350.0,229.85 L350.5,229.92 L351.0,229.71 L351.5,229.79 L352.0,229.98 L352.5,229.71 L353.0,230.09 L353.5,230.10 L354.0,229.70 L354.5,230.12 L355.0,229.84 L355.5,230.04 L356.0,230.03 L356.5,229.80 L357.0,229.99 L357.5,229.98 L358.0,230.05 L358.5,229.78 L359.0,230.03 L359.5,230.13 L360.0,229.99 L360.5,229.92 L361.0,229.71 L361.5,229.90 L362.0,229.83 L362.5,230.01 L363.0,229.99 L363.5,229.93 L364.0,229.74 L364.5,229.97 L365.0,229.97 L365.5,229.74 L366.0,230.09 L366.5,229.98 L367.0,229.71 L367.5,230.12 L368.0,229.72 L368.5,229.82 L369.0,230.01 L369.5,229.95 L370.0,229.93 L370.5,229.97 L371.0,229.88 L371.5,229.81 L372.0,229.74 L372.5,229.68 L373.0,230.01 L373.5,230.03 L374.0,229.92 L374.5,230.02 L375.0,229.83 L375.5,229.78 L376.0,229.84 L376.5,230.09 L377.0,229.67 L377.5,229.90 L378.0,229.77 L378.5,230.03 L379.0,229.83 L379.5,229.82 L380.0,229.85 L380.5,229.92 L381.0,230.04 L381.5,229.83 L382.0,230.07 L382.5,229.71 L383.0,229.79 L383.5,229.70 L384.0,229.71 L384.5,230.04 L385.0,230.01 L385.5,229.74 L386.0,229.74 L386.5,229.86 L387.0,230.02 L387.5,230.06 L388.0,230.02 L388.5,229.95 L389.0,229.72 L389.5,229.85 L390.0,229.75 L390.5,229.91 L391.0,229.93 L391.5,229.75 L392.0,229.78 L392.5,230.04 L393.0,229.67 L393.5,230.05 L394.0,230.10 L394.5,230.12 L395.0,229.84 L395.5,229.93 L396.0,229.94 L396.5,229.97 L397.0,230.14 L397.5,229.99 L398.0,229.80 L398.5,230.08 L399.0,229.89 L399.5,229.95 L400.0,230.01 L400.5,229.65 L401.0,230.04 L401.5,229.98 L402.0,229.90 L402.5,229.91 L403.0,229.88 L403.5,229.75 L404.0,229.91 L404.5,229.67 L405.0,229.90 L405.5,229.97 L406.0,229.87 L406.5,229.93 L407.0,230.13 L407.5,230.10 L408.0,229.72 L408.5,230.05 L409.0,229.96 L409.5,229.68 L410.0,229.83 L410.5,229.77 L411.0,229.69 L411.5,229.92 L412.0,230.11 L412.5,229.81 L413.0,230.09 L413.5,230.00 L414.0,229.72 L414.5,230.08 L415.0,229.95 L415.5,230.11 L416.0,230.01 L416.5,230.02 L417.0,229.82 L417.5,230.05 L418.0,230.12 L418.5,230.08 L419.0,229.87 L419.5,230.03 L420.0,229.89 L420.5,229.70 L421.0,229.67 L421.5,229.69 L422.0,229.75 L422.5,229.73 L423.0,229.90 L423.5,230.00 L424.0,229.92 L424.5,229.86 L425.0,229.97 L425.5,229.80 L426.0,229.88 L426.5,230.03 L427.0,229.85 L427.5,229.74 L428.0,230.10 L428.5,230.01 L429.0,229.83 L429.5,229.84 L430.0,229.91 L430.5,229.95 L431.0,229.76 L431.5,229.65 L432.0,229.75 L432.5,230.04 L433.0,229.72 L433.5,229.88 L434.0,229.75 L434.5,229.75 L435.0,229.73 L435.5,229.85 L436.0,229.73 L436.5,229.66 L437.0,229.70 L437.5,229.72 L438.0,229.88 L438.5,229.66 L439.0,229.64 L439.5,229.85 L440.0,229.82 L440.5,229.97 L441.0,229.63 L441.5,229.80 L442.0,229.78 L442.5,229.58 L443.0,230.03 L443.5,229.64 L444.0,229.56 L444.5,229.75 L445.0,229.60 L445.5,229.87 L446.0,229.79 L446.5,229.78 L447.0,229.85 L447.5,230.28 L448.0,230.10 L448.5,230.29 L449.0,229.92 L449.5,229.78 L450.0,228.91 L450.5,228.18 L451.0,227.34 L451.5,226.65 L452.0,225.48 L452.5,224.14 L453.0,222.67 L453.5,221.46 L454.0,219.91 L454.5,217.82 L455.0,215.42 L455.5,213.14 L456.0,210.71 L456.5,208.16 L457.0,205.44 L457.5,202.79 L458.0,200.48 L458.5,198.11 L459.0,195.42 L459.5,193.66 L460.0,191.47 L460.5,189.90 L461.0,188.43 L461.5,187.07 L462.0,185.38 L462.5,184.35 L463.0,183.38 L463.5,182.44 L464.0,180.92 L464.5,179.99 L465.0,179.37 L465.5,178.32 L466.0,178.06 L466.5,177.96 L467.0,178.34 L467.5,178.88 L468.0,179.04 L468.5,179.87 L469.0,180.36 L469.5,180.81 L470.0,180.98 L470.5,181.39 L471.0,181.27 L471.5,181.41 L472.0,181.39 L472.5,181.71 L473.0,181.57 L473.5,181.45 L474.0,181.35 L474.5,181.55 L475.0,181.40 L475.5,181.35 L476.0,181.08 L476.5,181.02 L477.0,180.73 L477.5,180.89 L478.0,180.42 L478.5,180.51 L479.0,180.53 L479.5,180.37 L480.0,179.99 L480.5,180.00 L481.0,180.28 L481.5,180.20 L482.0,180.38 L482.5,180.47 L483.0,180.37 L483.5,180.72 L484.0,180.76 L484.5,180.68 L485.0,180.80 L485.5,180.75 L486.0,181.01 L486.5,181.38 L487.0,181.06 L487.5,181.41 L488.0,181.33 L488.5,181.49 L489.0,181.99 L489.5,182.04 L490.0,182.27 L490.5,182.72 L491.0,183.44 L491.5,184.00 L492.0,184.42 L492.5,185.37 L493.0,186.75 L493.5,187.57 L494.0,189.14 L494.5,190.68 L495.0,192.69 L495.5,194.65 L496.0,197.00 L496.5,199.30 L497.0,201.70 L497.5,204.34 L498.0,206.95 L498.5,209.95 L499.0,212.11 L499.5,214.45 L500.0,217.11 L500.5,218.72 L501.0,220.86 L501.5,222.07 L502.0,223.72 L502.5,224.95 L503.0,226.54 L503.5,227.67 L504.0,228.87 L504.5,230.04 L505.0,231.05 L505.5,231.52 L506.0,232.10 L506.5,232.16 L507.0,231.85 L507.5,231.86 L508.0,231.28 L508.5,230.90 L509.0,230.16 L509.5,229.97 L510.0,229.65 L510.5,229.57 L511.0,229.09 L511.5,229.09 L512.0,229.06 L512.5,228.77 L513.0,228.95 L513.5,229.01 L514.0,228.84 L514.5,228.97 L515.0,229.00 L515.5,228.87 L516.0,229.03 L516.5,229.46 L517.0,229.23 L517.5,229.39 L518.0,229.31 L518.5,229.47 L519.0,229.51 L519.5,229.96 L520.0,229.90 L520.5,230.01 L521.0,230.09 L521.5,229.92 L522.0,230.10 L522.5,229.91 L523.0,229.85 L523.5,230.12 L524.0,230.10 L524.5,230.12 L525.0,229.89 L525.5,230.04 L526.0,229.85 L526.5,230.15 L527.0,230.11 L527.5,229.80 L528.0,230.12 L528.5,229.74 L529.0,229.70 L529.5,230.01 L530.0,229.80 L530.5,229.91 L531.0,229.97 L531.5,229.67 L532.0,230.02 L532.5,229.79 L533.0,229.87 L533.5,229.82 L534.0,230.02 L534.5,230.02 L535.0,229.79 L535.5,229.70 L536.0,229.80 L536.5,229.86 L537.0,229.69 L537.5,229.73 L538.0,230.03 L538.5,230.00 L539.0,230.14 L539.5,230.14 L540.0,230.09 L540.5,229.84 L541.0,229.73 L541.5,229.81 L542.0,229.88 L542.5,229.91 L543.0,229.92 L543.5,229.83 L544.0,230.08 L544.5,229.79 L545.0,229.88 L545.5,230.09 L546.0,230.05 L546.5,229.80 L547.0,229.77 L547.5,230.05 L548.0,229.66 L548.5,229.72 L549.0,229.92 L549.5,229.92 L550.0,229.73 L550.5,229.68 L551.0,229.75 L551.5,230.03 L552.0,229.88 L552.5,230.14 L553.0,230.04 L553.5,230.14 L554.0,229.67 L554.5,229.74 L555.0,229.66 L555.5,229.87 L556.0,229.82 L556.5,229.68 L557.0,229.92 L557.5,229.70 L558.0,229.81 L558.5,229.77 L559.0,230.05 L559.5,229.86 L560.0,229.78 L560.5,229.67 L561.0,229.86 L561.5,229.96 L562.0,229.99 L562.5,230.11 L563.0,230.05 L563.5,229.77 L564.0,229.72 L564.5,230.03 L565.0,230.04 L565.5,229.90 L566.0,230.07 L566.5,229.93 L567.0,229.79 L567.5,229.73 L568.0,229.66 L568.5,229.97 L569.0,230.10 L569.5,230.10 L570.0,229.88 L570.5,229.98 L571.0,230.11 L571.5,230.06 L572.0,229.95 L572.5,229.86 L573.0,229.91 L573.5,229.74 L574.0,229.74 L574.5,229.99 L575.0,230.15 L575.5,229.92 L576.0,229.85 L576.5,229.83 L577.0,229.88 L577.5,230.05 L578.0,229.88 L578.5,230.13 L579.0,229.73 L579.5,229.81 L580.0,229.91 L580.5,229.86 L581.0,230.08 L581.5,230.06 L582.0,230.12 L582.5,229.96 L583.0,229.67 L583.5,229.94 L584.0,229.92 L584.5,229.89 L585.0,229.79 L585.5,230.00 L586.0,230.11 L586.5,229.70 L587.0,229.98 L587.5,229.84 L588.0,229.91 L588.5,230.10 L589.0,230.13 L589.5,229.97 L590.0,229.75 L590.5,230.11 L591.0,229.74 L591.5,229.84 L592.0,230.06 L592.5,229.81 L593.0,229.79 L593.5,230.12 L594.0,230.12 L594.5,229.81 L595.0,229.85 L595.5,229.79 L596.0,229.72 L596.5,229.78 L597.0,230.14 L597.5,229.69 L598.0,229.76 L598.5,229.75 L599.0,229.69 L599.5,229.91 L600.0,230.02 L600.5,230.07 L601.0,229.97 L601.5,230.06 L602.0,229.65 L602.5,229.79 L603.0,230.13 L603.5,229.68 L604.0,229.78 L604.5,229.89 L605.0,229.78 L605.5,229.92 L606.0,229.67 L606.5,229.77 L607.0,230.13 L607.5,229.72 L608.0,230.10 L608.5,229.74 L609.0,230.15 L609.5,229.99 L610.0,229.97 L610.5,229.72 L611.0,229.68 L611.5,230.03 L612.0,229.74 L612.5,229.74 L613.0,230.06 L613.5,230.09 L614.0,229.67 L614.5,230.13 L615.0,229.92 L615.5,229.84 L616.0,229.70 L616.5,229.84 L617.0,230.14 L617.5,229.79 L618.0,229.72 L618.5,229.72 L619.0,229.71 L619.5,229.83 L620.0,230.11 L620.5,229.69 L621.0,229.75 L621.5,230.12 L622.0,230.15 L622.5,230.14 L623.0,229.77 L623.5,229.83 L624.0,230.13 L624.5,229.89 L625.0,230.00 L625.5,229.81 L626.0,229.66 L626.5,229.82 L627.0,230.02 L627.5,230.04 L628.0,229.93 L628.5,229.88 L629.0,229.92 L629.5,229.87 L630.0,229.92 L630.5,230.07 L631.0,229.75 L631.5,229.95 L632.0,230.12 L632.5,230.07 L633.0,229.74 L633.5,230.13 L634.0,230.07 L634.5,229.73 L635.0,229.78 L635.5,229.75 L636.0,229.68 L636.5,230.14 L637.0,229.85 L637.5,230.09 L638.0,229.71 L638.5,229.66 L639.0,230.08 L639.5,230.05 L640.0,230.15 L640.5,229.99 L641.0,229.91 L641.5,230.03 L642.0,229.70 L642.5,229.92 L643.0,229.87 L643.5,229.72 L644.0,229.95 L644.5,229.81 L645.0,229.90 L645.5,229.84 L646.0,229.81 L646.5,229.83 L647.0,229.95 L647.5,230.14 L648.0,230.12 L648.5,230.08 L649.0,230.06 L649.5,229.79 L650.0,230.13 L650.5,229.78 L651.0,229.70 L651.5,229.89 L652.0,230.00 L652.5,229.80 L653.0,229.95 L653.5,229.77 L654.0,230.10 L654.5,229.84 L655.0,229.84 L655.5,229.86 L656.0,230.01 L656.5,230.05 L657.0,229.81 L657.5,229.75 L658.0,229.82 L658.5,229.55 L659.0,229.74 L659.5,230.00 L660.0,230.04 L660.5,229.78 L661.0,230.29 L661.5,230.13 L662.0,230.44 L662.5,230.03 L663.0,229.69 L663.5,229.43 L664.0,228.99 L664.5,228.01 L665.0,227.34 L665.5,226.26 L666.0,224.97 L666.5,223.70 L667.0,222.41 L667.5,220.80 L668.0,219.03 L668.5,217.20 L669.0,215.14 L669.5,212.64 L670.0,209.92 L670.5,207.34 L671.0,204.75 L671.5,202.22 L672.0,199.41 L672.5,196.93 L673.0,194.77 L673.5,192.67 L674.0,190.67 L674.5,189.26 L675.0,187.97 L675.5,186.46 L676.0,185.35 L676.5,184.25 L677.0,183.14 L677.5,182.07 L678.0,180.76 L678.5,179.88 L679.0,178.76 L679.5,178.54 L680.0,178.00 L680.5,178.07 L681.0,178.56 L681.5,178.72 L682.0,179.22 L682.5,180.07 L683.0,180.43 L683.5,180.54 L684.0,180.79 L684.5,181.16 L685.0,181.13 L685.5,181.64 L686.0,181.39 L686.5,181.46 L687.0,181.52 L687.5,181.56 L688.0,181.46 L688.5,181.48 L689.0,181.40 L689.5,181.18 L690.0,180.90 L690.5,181.22 L691.0,180.96 L691.5,180.53 L692.0,180.58 L692.5,180.61 L693.0,180.61 L693.5,180.03 L694.0,179.92 L694.5,180.11 L695.0,180.07 L695.5,180.34 L696.0,180.38 L696.5,180.23 L697.0,180.40 L697.5,180.61 L698.0,180.88 L698.5,180.65 L699.0,180.85 L699.5,180.79 L700.0,181.16 L700.5,180.95 L701.0,181.51 L701.5,181.43 L702.0,181.61 L702.5,181.55 L703.0,181.86 L703.5,182.25 L704.0,182.79 L704.5,183.05 L705.0,183.44 L705.5,184.41 L706.0,185.00 L706.5,185.83 L707.0,186.73 L707.5,188.04 L708.0,189.80 L708.5,191.10 L709.0,193.20 L709.5,195.36 L710.0,197.54 L710.5,200.23 L711.0,202.90 L711.5,205.53 L712.0,208.13 L712.5,210.46 L713.0,212.87 L713.5,215.37 L714.0,217.44 L714.5,219.31 L715.0,221.39 L715.5,222.62 L716.0,224.34 L716.5,225.73 L717.0,226.58 L717.5,228.20 L718.0,229.12 L718.5,230.09 L719.0,230.97 L719.5,231.54 L720.0,232.12 L720.5,232.11 L721.0,232.12 L721.5,231.72 L722.0,230.85 L722.5,230.55 L723.0,230.13 L723.5,229.69 L724.0,229.47 L724.5,229.28 L725.0,229.35 L725.5,229.06 L726.0,228.85 L726.5,228.82 L727.0,228.88 L727.5,228.91 L728.0,228.75 L728.5,229.01 L729.0,228.82 L729.5,229.13 L730.0,229.19 L730.5,229.08 L731.0,229.48 L731.5,229.40 L732.0,229.57 L732.5,229.68 L733.0,229.77 L733.5,229.73 L734.0,229.58 L734.5,229.98 L735.0,230.04 L735.5,229.87 L736.0,229.92 L736.5,229.77 L737.0,230.09 L737.5,229.99 L738.0,229.76 L738.5,230.06 L739.0,230.14 L739.5,229.82 L740.0,230.15 L740.5,229.89 L741.0,229.74 L741.5,230.01 L742.0,229.82 L742.5,230.02 L743.0,229.94 L743.5,229.70 L744.0,229.91 L744.5,230.08 L745.0,229.89 L745.5,229.92 L746.0,230.08 L746.5,229.87 L747.0,229.90 L747.5,229.94 L748.0,230.06 L748.5,229.75 L749.0,229.70 L749.5,230.03 L750.0,229.93 L750.5,229.80 L751.0,230.10 L751.5,230.09 L752.0,229.92 L752.5,230.14 L753.0,230.07 L753.5,230.02 L754.0,229.80 L754.5,229.66 L755.0,229.99 L755.5,230.02 L756.0,229.83 L756.5,229.89 L757.0,229.93 L757.5,229.77 L758.0,230.00 L758.5,229.93 L759.0,229.84 L759.5,229.70 L760.0,229.93 L760.5,229.81 L761.0,230.01 L761.5,229.74 L762.0,229.85 L762.5,229.75 L763.0,229.85 L763.5,229.94 L764.0,229.70 L764.5,229.68 L765.0,229.89 L765.5,229.75 L766.0,229.90 L766.5,229.73 L767.0,229.70 L767.5,229.92 L768.0,230.11 L768.5,230.08 L769.0,229.91 L769.5,229.85 L770.0,229.68 L770.5,229.79 L771.0,229.81 L771.5,230.12 L772.0,229.71 L772.5,230.12 L773.0,229.89 L773.5,229.87 L774.0,229.78 L774.5,230.13 L775.0,229.74 L775.5,229.94 L776.0,229.91 L776.5,229.75 L777.0,229.76 L777.5,230.14 L778.0,230.05 L778.5,230.02 L779.0,230.10 L779.5,229.70 L780.0,230.00 L780.5,230.03 L781.0,229.76 L781.5,229.88 L782.0,230.14 L782.5,229.81 L783.0,230.03 L783.5,229.73 L784.0,229.98 L784.5,229.78 L785.0,229.90 L785.5,229.84 L786.0,230.09 L786.5,230.02 L787.0,229.90 L787.5,229.99 L788.0,229.86 L788.5,230.05 L789.0,229.78 L789.5,229.92 L790.0,229.94 L790.5,229.84 L791.0,229.67 L791.5,229.73 L792.0,229.97 L792.5,229.76 L793.0,230.03 L793.5,229.90 L794.0,230.13 L794.5,230.07 L795.0,230.01 L795.5,229.84 L796.0,229.67 L796.5,229.93 L797.0,230.02 L797.5,230.11 L798.0,229.75 L798.5,229.73 L799.0,230.14 L799.5,230.02 L800.0,229.89 L800.5,230.02 L801.0,229.72 L801.5,229.92 L802.0,229.98 L802.5,229.95 L803.0,229.73 L803.5,229.72 L804.0,229.96 L804.5,230.09 L805.0,229.72 L805.5,229.65 L806.0,229.69 L806.5,230.04 L807.0,229.85 L807.5,229.88 L808.0,230.15 L808.5,229.96 L809.0,229.78 L809.5,230.00 L810.0,229.65 L810.5,229.79 L811.0,230.00 L811.5,229.74 L812.0,229.67 L812.5,229.91 L813.0,229.81 L813.5,230.14 L814.0,229.70 L814.5,230.05 L815.0,229.84 L815.5,230.05 L816.0,229.87 L816.5,229.98 L817.0,229.81 L817.5,229.76 L818.0,229.88 L818.5,230.05 L819.0,229.82 L819.5,229.76 L820.0,229.86 L820.5,229.70 L821.0,229.81 L821.5,229.94 L822.0,229.92 L822.5,229.95 L823.0,229.80 L823.5,229.66 L824.0,229.66 L824.5,229.82 L825.0,229.75 L825.5,229.93 L826.0,229.78 L826.5,230.03 L827.0,229.95 L827.5,229.98 L828.0,230.02 L828.5,229.91 L829.0,229.86 L829.5,229.80 L830.0,229.68 L830.5,230.05 L831.0,229.90 L831.5,229.70 L832.0,230.11 L832.5,229.94 L833.0,229.96 L833.5,229.87 L834.0,229.71 L834.5,230.15 L835.0,229.73 L835.5,229.83 L836.0,230.15 L836.5,229.71 L837.0,229.90 L837.5,229.89 L838.0,229.77 L838.5,230.11 L839.0,229.86 L839.5,229.66 L840.0,229.89 L840.5,229.65 L841.0,230.00 L841.5,230.08 L842.0,230.10 L842.5,229.67 L843.0,229.99 L843.5,229.80 L844.0,229.89 L844.5,229.80 L845.0,229.80 L845.5,229.72 L846.0,229.96 L846.5,229.69 L847.0,230.13 L847.5,229.67 L848.0,230.13 L848.5,229.75 L849.0,229.69 L849.5,230.02 L850.0,229.92 L850.5,230.03 L851.0,229.90 L851.5,229.97 L852.0,229.69 L852.5,229.99 L853.0,229.91 L853.5,230.13 L854.0,229.65 L854.5,229.68 L855.0,229.99 L855.5,230.11 L856.0,229.86 L856.5,230.01 L857.0,229.93 L857.5,229.85 L858.0,229.88 L858.5,229.95 L859.0,229.66 L859.5,229.80 L860.0,230.02 L860.5,229.78 L861.0,229.88 L861.5,229.78 L862.0,229.83 L862.5,229.97 L863.0,230.02 L863.5,230.12 L864.0,229.88 L864.5,229.74 L865.0,229.81 L865.5,229.67 L866.0,229.76 L866.5,229.92 L867.0,229.93 L867.5,229.74 L868.0,229.71 L868.5,229.66 L869.0,229.69 L869.5,229.84 L870.0,229.70 L870.5,230.00 L871.0,229.82 L871.5,229.69 L872.0,229.73 L872.5,229.53 L873.0,229.91 L873.5,229.97 L874.0,229.86 L874.5,230.15 L875.0,230.03 L875.5,230.06 L876.0,230.05 L876.5,229.88 L877.0,229.77 L877.5,229.30 L878.0,228.69 L878.5,227.58 L879.0,226.99 L879.5,225.80 L880.0,224.60 L880.5,223.37 L881.0,221.90 L881.5,220.16 L882.0,218.43 L882.5,216.53 L883.0,214.33 L883.5,212.02 L884.0,209.11 L884.5,206.83 L885.0,204.11 L885.5,201.44 L886.0,199.03 L886.5,196.21 L887.0,194.31 L887.5,192.35 L888.0,190.16 L888.5,188.80 L889.0,187.55 L889.5,185.94 L890.0,185.04 L890.5,183.93 L891.0,182.58 L891.5,181.34 L892.0,180.31 L892.5,179.66 L893.0,178.69 L893.5,178.13 L894.0,178.00 L894.5,178.36 L895.0,178.38 L895.5,178.76 L896.0,179.78 L896.5,179.98 L897.0,180.45 L897.5,181.09 L898.0,180.99 L898.5,181.08 L899.0,181.61 L899.5,181.37 L900.0,181.42 L900.5,181.80 L901.0,181.44 L901.5,181.74 L902.0,181.39 L902.5,181.29 L903.0,181.14 L903.5,181.20 L904.0,181.09 L904.5,180.90 L905.0,180.83 L905.5,180.60 L906.0,180.74 L906.5,180.66 L907.0,180.45 L907.5,180.38 L908.0,179.93 L908.5,179.98 L909.0,179.97 L909.5,179.99 L910.0,180.48 L910.5,180.56 L911.0,180.69 L911.5,180.63 L912.0,180.53 L912.5,180.79 L913.0,180.71 L913.5,181.23 L914.0,181.00 L914.5,181.11 L915.0,181.56 L915.5,181.32 L916.0,181.84 L916.5,181.73 L917.0,182.16 L917.5,182.18 L918.0,182.94 L918.5,183.14 L919.0,183.65 L919.5,184.47 L920.0,185.23 L920.5,186.01 L921.0,187.07 L921.5,188.62 L922.0,189.88 L922.5,192.05 L923.0,193.76 L923.5,195.86 L924.0,198.31 L924.5,200.72 L925.0,203.45 L925.5,206.23 L926.0,208.80 L926.5,211.33 L927.0,213.74 L927.5,216.10 L928.0,218.32 L928.5,220.01 L929.0,221.85 L929.5,223.22 L930.0,224.42 L930.5,225.75 L931.0,227.34 L931.5,228.37 L932.0,229.46 L932.5,230.55 L933.0,231.54 L933.5,231.86 L934.0,232.10 L934.5,232.05 L935.0,231.59 L935.5,231.42 L936.0,230.91 L936.5,230.45 L937.0,230.04 L937.5,229.74 L938.0,229.63 L938.5,229.19 L939.0,229.45 L939.5,228.91 L940.0,229.20 L940.5,228.78 L941.0,229.05 L941.5,228.76 L942.0,228.68 L942.5,228.94 L943.0,229.16 L943.5,229.25 L944.0,229.36 L944.5,229.52 L945.0,229.16 L945.5,229.43 L946.0,229.38 L946.5,229.78 L947.0,229.70 L947.5,229.90 L948.0,229.96 L948.5,230.09 L949.0,229.95 L949.5,230.06 L950.0,229.91 L950.5,229.68 L951.0,230.09 L951.5,229.69 L952.0,229.69 L952.5,230.06 L953.0,229.79 L953.5,229.98 L954.0,229.66 L954.5,229.76 L955.0,230.01 L955.5,229.67 L956.0,229.91 L956.5,230.12 L957.0,229.76 L957.5,230.00 L958.0,230.02 L958.5,229.96 L959.0,230.03 L959.5,230.00 L960.0,229.66 L960.5,229.75 L961.0,229.92 L961.5,230.13 L962.0,229.76 L962.5,229.94 L963.0,229.71 L963.5,230.07 L964.0,229.87 L964.5,229.91 L965.0,229.98 L965.5,229.72 L966.0,230.01 L966.5,230.05 L967.0,230.08 L967.5,229.79 L968.0,229.77 L968.5,229.73 L969.0,230.10 L969.5,229.87 L970.0,229.84 L970.5,229.91 L971.0,230.00 L971.5,229.81 L972.0,229.82 L972.5,230.03 L973.0,230.04 L973.5,229.80 L974.0,229.69 L974.5,230.11 L975.0,230.01 L975.5,229.95 L976.0,229.85 L976.5,230.13 L977.0,229.87 L977.5,229.76 L978.0,229.70 L978.5,229.83 L979.0,229.95 L979.5,229.83 L980.0,230.12 L980.5,229.97 L981.0,229.88 L981.5,229.98 L982.0,229.95 L982.5,229.96 L983.0,229.90 L983.5,229.91 L984.0,229.90 L984.5,230.07 L985.0,229.75 L985.5,230.04 L986.0,229.80 L986.5,230.07 L987.0,229.69 L987.5,229.89 L988.0,229.87 L988.5,230.01 L989.0,229.75 L989.5,229.78 L990.0,229.72 L990.5,229.93 L991.0,229.94 L991.5,229.65 L992.0,229.74 L992.5,229.75 L993.0,230.13 L993.5,229.88 L994.0,229.93 L994.5,229.79 L995.0,229.98 L995.5,230.06 L996.0,229.99 L996.5,229.65 L997.0,229.87 L997.5,229.89 L998.0,229.67 L998.5,230.04 L999.0,229.81 L999.5,229.80 L1000.0,229.96 L1000.5,229.94 L1001.0,229.90 L1001.5,230.08 L1002.0,229.91 L1002.5,229.82 L1003.0,229.68 L1003.5,229.93 L1004.0,229.83 L1004.5,229.92 L1005.0,229.82 L1005.5,229.65 L1006.0,229.67 L1006.5,229.73 L1007.0,229.70 L1007.5,230.08 L1008.0,229.94 L1008.5,229.77 L1009.0,230.01 L1009.5,229.97 L1010.0,229.68 L1010.5,230.03 L1011.0,229.76 L1011.5,230.15 L1012.0,229.72 L1012.5,229.79 L1013.0,229.77 L1013.5,230.08 L1014.0,230.06 L1014.5,229.94 L1015.0,229.72 L1015.5,229.86 L1016.0,230.00 L1016.5,229.68 L1017.0,230.11 L1017.5,230.07 L1018.0,230.12 L1018.5,230.00 L1019.0,229.96 L1019.5,230.14 L1020.0,229.78 L1020.5,229.80 L1021.0,229.71 L1021.5,229.74 L1022.0,230.05 L1022.5,229.70 L1023.0,230.02 L1023.5,229.85 L1024.0,230.09 L1024.5,230.03 L1025.0,229.99 L1025.5,230.07 L1026.0,229.67 L1026.5,229.78 L1027.0,229.83 L1027.5,229.86 L1028.0,229.99 L1028.5,230.09 L1029.0,230.02 L1029.5,230.11 L1030.0,230.00 L1030.5,229.83 L1031.0,229.90 L1031.5,230.02 L1032.0,230.06 L1032.5,229.83 L1033.0,229.83 L1033.5,229.96 L1034.0,229.76 L1034.5,230.09 L1035.0,229.65 L1035.5,229.97 L1036.0,229.89 L1036.5,229.75 L1037.0,229.94 L1037.5,229.89 L1038.0,230.13 L1038.5,230.09 L1039.0,229.94 L1039.5,230.09 L1040.0,230.09 L1040.5,229.73 L1041.0,230.06 L1041.5,230.07 L1042.0,230.15 L1042.5,230.03 L1043.0,229.85 L1043.5,229.75 L1044.0,229.98 L1044.5,229.76 L1045.0,230.03 L1045.5,229.94 L1046.0,230.06 L1046.5,229.83 L1047.0,229.80 L1047.5,230.10 L1048.0,229.98 L1048.5,229.84 L1049.0,229.93 L1049.5,229.87 L1050.0,229.97 L1050.5,229.91 L1051.0,229.79 L1051.5,230.14 L1052.0,230.09 L1052.5,230.03 L1053.0,229.79 L1053.5,229.75 L1054.0,230.02 L1054.5,230.06 L1055.0,229.98 L1055.5,229.76 L1056.0,230.01 L1056.5,229.91 L1057.0,229.84 L1057.5,229.94 L1058.0,229.87 L1058.5,229.97 L1059.0,230.03 L1059.5,230.14 L1060.0,229.71 L1060.5,229.94 L1061.0,230.12 L1061.5,229.98 L1062.0,229.94 L1062.5,230.08 L1063.0,229.67 L1063.5,230.05 L1064.0,229.96 L1064.5,229.94 L1065.0,229.81 L1065.5,229.96 L1066.0,229.71 L1066.5,229.91 L1067.0,229.78 L1067.5,230.12 L1068.0,230.05 L1068.5,229.89 L1069.0,230.03 L1069.5,229.84 L1070.0,229.91 L1070.5,229.73 L1071.0,230.08 L1071.5,230.03 L1072.0,230.03 L1072.5,229.69 L1073.0,230.06 L1073.5,229.66 L1074.0,229.93 L1074.5,229.89 L1075.0,229.68 L1075.5,229.86 L1076.0,230.09 L1076.5,229.96 L1077.0,229.80 L1077.5,230.05 L1078.0,229.82 L1078.5,230.09 L1079.0,229.84 L1079.5,229.68 L1080.0,230.12 L1080.5,229.67 L1081.0,229.75 L1081.5,230.01 L1082.0,229.67 L1082.5,229.88 L1083.0,230.02 L1083.5,229.88 L1084.0,229.74 L1084.5,229.93 L1085.0,229.94 L1085.5,229.81 L1086.0,229.82 L1086.5,229.68 L1087.0,229.76 L1087.5,230.11 L1088.0,230.20 L1088.5,229.82 L1089.0,230.02 L1089.5,230.07 L1090.0,230.30 L1090.5,229.80 L1091.0,229.42 L1091.5,229.17 L1092.0,228.17 L1092.5,227.73 L1093.0,226.51 L1093.5,225.66 L1094.0,224.42 L1094.5,222.78 L1095.0,221.57 L1095.5,219.70 L1096.0,217.72 L1096.5,215.53 L1097.0,213.57 L1097.5,211.04 L1098.0,208.33 L1098.5,205.94 L1099.0,202.96 L1099.5,200.48 L1100.0,197.80 L1100.5,195.58 L1101.0,193.69 L1101.5,191.55 L1102.0,189.64 L1102.5,188.14 L1103.0,186.98 L1103.5,185.55 L1104.0,184.69 L1104.5,183.15 L1105.0,182.45 L1105.5,181.23 L1106.0,180.29 L1106.5,179.15 L1107.0,178.32 L1107.5,177.96 L1108.0,178.10 L1108.5,178.00 L1109.0,178.45 L1109.5,179.32 L1110.0,179.91 L1110.5,180.40 L1111.0,180.80 L1111.5,180.97 L1112.0,181.35 L1112.5,181.43 L1113.0,181.47 L1113.5,181.49 L1114.0,181.33 L1114.5,181.38 L1115.0,181.44 L1115.5,181.50 L1116.0,181.26 L1116.5,181.59 L1117.0,181.29 L1117.5,181.26 L1118.0,181.22 L1118.5,180.77 L1119.0,180.98 L1119.5,180.89 L1120.0,180.42 L1120.5,180.22 L1121.0,180.44 L1121.5,180.39 L1122.0,180.28 L1122.5,180.06 L1123.0,180.18 L1123.5,179.99 L1124.0,180.15 L1124.5,180.35 L1125.0,180.64 L1125.5,180.44 L1126.0,180.97 L1126.5,180.63 L1127.0,181.20 L1127.5,180.92 L1128.0,181.31 L1128.5,181.41 L1129.0,181.60 L1129.5,181.50 L1130.0,181.79 L1130.5,181.80 L1131.0,182.33 L1131.5,182.29 L1132.0,183.06 L1132.5,183.40 L1133.0,183.71 L1133.5,184.85 L1134.0,185.38 L1134.5,186.26 L1135.0,187.54 L1135.5,188.81 L1136.0,190.54 L1136.5,192.58 L1137.0,194.76 L1137.5,196.83 L1138.0,199.36 L1138.5,201.91 L1139.0,204.50 L1139.5,207.00 L1140.0,209.56 L1140.5,212.04 L1141.0,214.62 L1141.5,216.65 L1142.0,218.92 L1142.5,220.51 L1143.0,222.26 L1143.5,223.71 L1144.0,225.10 L1144.5,226.15 L1145.0,227.44 L1145.5,228.85 L1146.0,229.72 L1146.5,230.92 L1147.0,231.81 L1147.5,231.98 L1148.0,232.41 L1148.5,232.11 L1149.0,231.93 L1149.5,231.26 L1150.0,230.89 L1150.5,230.41 L1151.0,229.81 L1151.5,229.69 L1152.0,229.51 L1152.5,229.29 L1153.0,229.26 L1153.5,229.28 L1154.0,229.14 L1154.5,229.08 L1155.0,228.71 L1155.5,228.98 L1156.0,228.96 L1156.5,229.16 L1157.0,228.76 L1157.5,228.94 L1158.0,229.44 L1158.5,229.25 L1159.0,229.52 L1159.5,229.56 L1160.0,229.55 L1160.5,229.65 L1161.0,229.77 L1161.5,230.03 L1162.0,229.84 L1162.5,229.99 L1163.0,229.77 L1163.5,229.99 L1164.0,229.94 L1164.5,230.01 L1165.0,230.09 L1165.5,229.69 L1166.0,230.13 L1166.5,229.95 L1167.0,229.78 L1167.5,229.88 L1168.0,229.70 L1168.5,229.77 L1169.0,230.07 L1169.5,230.01 L1170.0,230.08 L1170.5,229.73 L1171.0,229.70 L1171.5,229.84 L1172.0,229.90 L1172.5,230.01 L1173.0,229.80 L1173.5,230.02 L1174.0,229.94 L1174.5,229.79 L1175.0,230.04 L1175.5,229.69 L1176.0,229.95 L1176.5,229.74 L1177.0,229.67 L1177.5,229.89 L1178.0,229.91 L1178.5,229.96 L1179.0,229.84 L1179.5,230.11 L1180.0,230.04 L1180.5,229.73 L1181.0,229.65 L1181.5,230.13 L1182.0,229.86 L1182.5,229.70 L1183.0,229.74 L1183.5,230.00 L1184.0,229.74 L1184.5,229.84 L1185.0,229.99 L1185.5,229.83 L1186.0,229.98 L1186.5,230.12 L1187.0,230.05 L1187.5,229.96 L1188.0,229.96 L1188.5,229.80 L1189.0,229.97 L1189.5,229.97 L1190.0,229.94 L1190.5,229.90 L1191.0,230.03 L1191.5,229.75 L1192.0,230.01 L1192.5,230.14 L1193.0,229.67 L1193.5,229.78 L1194.0,230.14 L1194.5,229.69 L1195.0,230.06 L1195.5,229.94 L1196.0,229.68 L1196.5,229.96 L1197.0,229.65 L1197.5,230.07 L1198.0,229.80 L1198.5,230.11 L1199.0,230.10 L1199.5,229.72 L1200.0,229.85 L1200.5,229.73 L1201.0,230.03 L1201.5,229.70 L1202.0,229.69 L1202.5,229.71 L1203.0,230.08 L1203.5,229.77 L1204.0,229.81 L1204.5,229.87" fill="none" stroke="#8f8a2c" stroke-width="2.6" stroke-linejoin="round" opacity="0.55"/><path d="M135.5,229.77 L136.0,229.92 L136.5,229.83 L137.0,229.95 L137.5,229.96 L138.0,229.68 L138.5,229.66 L139.0,230.07 L139.5,229.78 L140.0,229.77 L140.5,230.15 L141.0,229.89 L141.5,230.07 L142.0,229.89 L142.5,229.97 L143.0,229.73 L143.5,229.97 L144.0,230.08 L144.5,229.91 L145.0,230.02 L145.5,229.99 L146.0,229.68 L146.5,230.03 L147.0,229.95 L147.5,229.80 L148.0,229.67 L148.5,230.08 L149.0,229.89 L149.5,230.01 L150.0,230.09 L150.5,230.01 L151.0,230.11 L151.5,229.85 L152.0,230.05 L152.5,229.87 L153.0,230.12 L153.5,230.09 L154.0,229.70 L154.5,229.72 L155.0,229.76 L155.5,230.13 L156.0,229.87 L156.5,229.96 L157.0,229.80 L157.5,229.90 L158.0,229.84 L158.5,229.83 L159.0,229.94 L159.5,229.94 L160.0,230.10 L160.5,229.99 L161.0,230.11 L161.5,230.08 L162.0,230.15 L162.5,229.99 L163.0,229.73 L163.5,230.08 L164.0,230.13 L164.5,230.10 L165.0,229.93 L165.5,230.01 L166.0,229.76 L166.5,230.07 L167.0,229.94 L167.5,229.79 L168.0,229.68 L168.5,230.08 L169.0,230.14 L169.5,229.69 L170.0,230.05 L170.5,229.86 L171.0,229.73 L171.5,229.80 L172.0,230.03 L172.5,230.09 L173.0,229.67 L173.5,229.96 L174.0,229.67 L174.5,230.01 L175.0,229.82 L175.5,230.09 L176.0,230.14 L176.5,229.90 L177.0,230.15 L177.5,229.80 L178.0,229.69 L178.5,229.95 L179.0,229.67 L179.5,229.75 L180.0,229.85 L180.5,229.96 L181.0,229.73 L181.5,229.67 L182.0,230.08 L182.5,229.81 L183.0,230.13 L183.5,230.10 L184.0,229.84 L184.5,229.88 L185.0,229.91 L185.5,229.97 L186.0,229.95 L186.5,229.93 L187.0,229.96 L187.5,230.12 L188.0,229.90 L188.5,229.87 L189.0,230.01 L189.5,229.77 L190.0,229.80 L190.5,230.14 L191.0,229.91 L191.5,229.92 L192.0,229.66 L192.5,229.86 L193.0,229.94 L193.5,229.66 L194.0,229.96 L194.5,229.97 L195.0,229.68 L195.5,229.96 L196.0,229.88 L196.5,229.99 L197.0,229.83 L197.5,230.00 L198.0,230.02 L198.5,229.66 L199.0,229.68 L199.5,229.99 L200.0,230.13 L200.5,229.78 L201.0,229.88 L201.5,229.95 L202.0,229.81 L202.5,229.83 L203.0,229.81 L203.5,229.83 L204.0,229.95 L204.5,229.80 L205.0,229.84 L205.5,230.04 L206.0,229.66 L206.5,229.93 L207.0,230.02 L207.5,229.80 L208.0,229.76 L208.5,230.05 L209.0,229.77 L209.5,229.74 L210.0,229.87 L210.5,230.00 L211.0,229.70 L211.5,229.81 L212.0,229.82 L212.5,230.07 L213.0,229.87 L213.5,230.08 L214.0,229.73 L214.5,229.82 L215.0,229.97 L215.5,230.09 L216.0,229.88 L216.5,229.76 L217.0,229.71 L217.5,229.91 L218.0,229.74 L218.5,230.05 L219.0,230.07 L219.5,229.74 L220.0,229.79 L220.5,230.05 L221.0,229.97 L221.5,230.05 L222.0,229.82 L222.5,229.71 L223.0,229.79 L223.5,230.04 L224.0,229.77 L224.5,229.81 L225.0,229.84 L225.5,229.84 L226.0,229.83 L226.5,230.08 L227.0,229.69 L227.5,229.60 L228.0,230.06 L228.5,230.01 L229.0,230.05 L229.5,229.75 L230.0,230.00 L230.5,229.97 L231.0,229.63 L231.5,229.91 L232.0,230.02 L232.5,230.01 L233.0,230.05 L233.5,230.04 L234.0,230.13 L234.5,230.04 L235.0,229.81 L235.5,229.75 L236.0,229.10 L236.5,228.70 L237.0,227.51 L237.5,227.01 L238.0,225.87 L238.5,224.82 L239.0,223.52 L239.5,222.07 L240.0,220.28 L240.5,218.16 L241.0,216.49 L241.5,213.96 L242.0,211.61 L242.5,209.24 L243.0,206.54 L243.5,203.81 L244.0,201.45 L244.5,198.75 L245.0,196.22 L245.5,193.96 L246.0,192.26 L246.5,190.27 L247.0,188.83 L247.5,187.20 L248.0,185.85 L248.5,184.83 L249.0,183.84 L249.5,182.41 L250.0,181.62 L250.5,180.62 L251.0,179.61 L251.5,178.86 L252.0,177.96 L252.5,178.10 L253.0,178.34 L253.5,178.29 L254.0,178.91 L254.5,179.46 L255.0,180.10 L255.5,180.48 L256.0,180.85 L256.5,181.25 L257.0,181.04 L257.5,181.20 L258.0,181.32 L258.5,181.37 L259.0,181.37 L259.5,181.81 L260.0,181.71 L260.5,181.26 L261.0,181.38 L261.5,181.19 L262.0,181.08 L262.5,180.99 L263.0,181.02 L263.5,180.86 L264.0,180.63 L264.5,180.41 L265.0,180.35 L265.5,180.13 L266.0,180.24 L266.5,180.25 L267.0,180.05 L267.5,179.90 L268.0,180.00 L268.5,180.19 L269.0,180.41 L269.5,180.63 L270.0,180.55 L270.5,180.88 L271.0,180.90 L271.5,180.90 L272.0,180.96 L272.5,181.12 L273.0,181.32 L273.5,181.30 L274.0,181.57 L274.5,181.62 L275.0,181.71 L275.5,182.10 L276.0,182.48 L276.5,182.54 L277.0,183.17 L277.5,183.72 L278.0,184.61 L278.5,185.44 L279.0,186.11 L279.5,187.51 L280.0,188.78 L280.5,190.06 L281.0,191.92 L281.5,193.73 L282.0,196.27 L282.5,198.57 L283.0,201.21 L283.5,203.79 L284.0,206.39 L284.5,209.07 L285.0,211.55 L285.5,213.74 L286.0,216.24 L286.5,218.01 L287.0,219.93 L287.5,221.92 L288.0,223.06 L288.5,224.46 L289.0,225.77 L289.5,227.41 L290.0,228.27 L290.5,229.33 L291.0,230.75 L291.5,231.20 L292.0,232.11 L292.5,232.26 L293.0,232.28 L293.5,232.05 L294.0,231.42 L294.5,231.05 L295.0,230.21 L295.5,230.19 L296.0,229.75 L296.5,229.63 L297.0,229.15 L297.5,229.33 L298.0,229.32 L298.5,228.79 L299.0,228.85 L299.5,228.93 L300.0,229.04 L300.5,228.76 L301.0,228.77 L301.5,228.87 L302.0,229.13 L302.5,229.30 L303.0,229.23 L303.5,229.32 L304.0,229.44 L304.5,229.51 L305.0,229.62 L305.5,229.52 L306.0,229.78 L306.5,230.05 L307.0,229.80 L307.5,229.99 L308.0,229.71 L308.5,229.98 L309.0,230.02 L309.5,229.98 L310.0,229.91 L310.5,229.89 L311.0,229.97 L311.5,230.10 L312.0,229.72 L312.5,229.70 L313.0,230.02 L313.5,230.11 L314.0,229.91 L314.5,229.87 L315.0,230.01 L315.5,229.74 L316.0,229.78 L316.5,229.75 L317.0,229.94 L317.5,229.81 L318.0,229.77 L318.5,230.00 L319.0,230.13 L319.5,229.80 L320.0,230.00 L320.5,229.86 L321.0,230.08 L321.5,229.94 L322.0,229.78 L322.5,229.76 L323.0,229.66 L323.5,229.89 L324.0,229.84 L324.5,229.74 L325.0,229.83 L325.5,229.81 L326.0,230.04 L326.5,229.72 L327.0,230.15 L327.5,229.89 L328.0,229.95 L328.5,229.88 L329.0,230.07 L329.5,230.06 L330.0,229.93 L330.5,229.89 L331.0,230.01 L331.5,230.08 L332.0,229.85 L332.5,230.02 L333.0,230.13 L333.5,229.88 L334.0,229.76 L334.5,229.77 L335.0,230.01 L335.5,229.99 L336.0,230.13 L336.5,230.08 L337.0,229.77 L337.5,229.74 L338.0,229.78 L338.5,229.74 L339.0,230.00 L339.5,230.08 L340.0,230.10 L340.5,229.78 L341.0,230.08 L341.5,229.81 L342.0,229.86 L342.5,230.01 L343.0,229.69 L343.5,229.70 L344.0,230.07 L344.5,229.80 L345.0,229.83 L345.5,229.94 L346.0,229.99 L346.5,229.65 L347.0,229.82 L347.5,229.87 L348.0,229.89 L348.5,229.76 L349.0,229.94 L349.5,230.13 L350.0,229.85 L350.5,229.92 L351.0,229.71 L351.5,229.79 L352.0,229.98 L352.5,229.71 L353.0,230.09 L353.5,230.10 L354.0,229.70 L354.5,230.12 L355.0,229.84 L355.5,230.04 L356.0,230.03 L356.5,229.80 L357.0,229.99 L357.5,229.98 L358.0,230.05 L358.5,229.78 L359.0,230.03 L359.5,230.13 L360.0,229.99 L360.5,229.92 L361.0,229.71 L361.5,229.90 L362.0,229.83 L362.5,230.01 L363.0,229.99 L363.5,229.93 L364.0,229.74 L364.5,229.97 L365.0,229.97 L365.5,229.74 L366.0,230.09 L366.5,229.98 L367.0,229.71 L367.5,230.12 L368.0,229.72 L368.5,229.82 L369.0,230.01 L369.5,229.95 L370.0,229.93 L370.5,229.97 L371.0,229.88 L371.5,229.81 L372.0,229.74 L372.5,229.68 L373.0,230.01 L373.5,230.03 L374.0,229.92 L374.5,230.02 L375.0,229.83 L375.5,229.78 L376.0,229.84 L376.5,230.09 L377.0,229.67 L377.5,229.90 L378.0,229.77 L378.5,230.03 L379.0,229.83 L379.5,229.82 L380.0,229.85 L380.5,229.92 L381.0,230.04 L381.5,229.83 L382.0,230.07 L382.5,229.71 L383.0,229.79 L383.5,229.70 L384.0,229.71 L384.5,230.04 L385.0,230.01 L385.5,229.74 L386.0,229.74 L386.5,229.86 L387.0,230.02 L387.5,230.06 L388.0,230.02 L388.5,229.95 L389.0,229.72 L389.5,229.85 L390.0,229.75 L390.5,229.91 L391.0,229.93 L391.5,229.75 L392.0,229.78 L392.5,230.04 L393.0,229.67 L393.5,230.05 L394.0,230.10 L394.5,230.12 L395.0,229.84 L395.5,229.93 L396.0,229.94 L396.5,229.97 L397.0,230.14 L397.5,229.99 L398.0,229.80 L398.5,230.08 L399.0,229.89 L399.5,229.95 L400.0,230.01 L400.5,229.65 L401.0,230.04 L401.5,229.98 L402.0,229.90 L402.5,229.91 L403.0,229.88 L403.5,229.75 L404.0,229.91 L404.5,229.67 L405.0,229.90 L405.5,229.97 L406.0,229.87 L406.5,229.93 L407.0,230.13 L407.5,230.10 L408.0,229.72 L408.5,230.05 L409.0,229.96 L409.5,229.68 L410.0,229.83 L410.5,229.77 L411.0,229.69 L411.5,229.92 L412.0,230.11 L412.5,229.81 L413.0,230.09 L413.5,230.00 L414.0,229.72 L414.5,230.08 L415.0,229.95 L415.5,230.11 L416.0,230.01 L416.5,230.02 L417.0,229.82 L417.5,230.05 L418.0,230.12 L418.5,230.08 L419.0,229.87 L419.5,230.03 L420.0,229.89 L420.5,229.70 L421.0,229.67 L421.5,229.69 L422.0,229.75 L422.5,229.73 L423.0,229.90 L423.5,230.00 L424.0,229.92 L424.5,229.86 L425.0,229.97 L425.5,229.80 L426.0,229.88 L426.5,230.03 L427.0,229.85 L427.5,229.74 L428.0,230.10 L428.5,230.01 L429.0,229.83 L429.5,229.84 L430.0,229.91 L430.5,229.95 L431.0,229.76 L431.5,229.65 L432.0,229.75 L432.5,230.04 L433.0,229.72 L433.5,229.88 L434.0,229.75 L434.5,229.75 L435.0,229.73 L435.5,229.85 L436.0,229.73 L436.5,229.66 L437.0,229.70 L437.5,229.72 L438.0,229.88 L438.5,229.66 L439.0,229.64 L439.5,229.85 L440.0,229.82 L440.5,229.97 L441.0,229.63 L441.5,229.80 L442.0,229.78 L442.5,229.58 L443.0,230.03 L443.5,229.64 L444.0,229.56 L444.5,229.75 L445.0,229.60 L445.5,229.87 L446.0,229.79 L446.5,229.78 L447.0,229.85 L447.5,230.28 L448.0,230.10 L448.5,230.29 L449.0,229.92 L449.5,229.78 L450.0,228.91 L450.5,228.18 L451.0,227.34 L451.5,226.65 L452.0,225.48 L452.5,224.14 L453.0,222.67 L453.5,221.46 L454.0,219.91 L454.5,217.82 L455.0,215.42 L455.5,213.14 L456.0,210.71 L456.5,208.16 L457.0,205.44 L457.5,202.79 L458.0,200.48 L458.5,198.11 L459.0,195.42 L459.5,193.66 L460.0,191.47 L460.5,189.90 L461.0,188.43 L461.5,187.07 L462.0,185.38 L462.5,184.35 L463.0,183.38 L463.5,182.44 L464.0,180.92 L464.5,179.99 L465.0,179.37 L465.5,178.32 L466.0,178.06 L466.5,177.96 L467.0,178.34 L467.5,178.88 L468.0,179.04 L468.5,179.87 L469.0,180.36 L469.5,180.81 L470.0,180.98 L470.5,181.39 L471.0,181.27 L471.5,181.41 L472.0,181.39 L472.5,181.71 L473.0,181.57 L473.5,181.45 L474.0,181.35 L474.5,181.55 L475.0,181.40 L475.5,181.35 L476.0,181.08 L476.5,181.02 L477.0,180.73 L477.5,180.89 L478.0,180.42 L478.5,180.51 L479.0,180.53 L479.5,180.37 L480.0,179.99 L480.5,180.00 L481.0,180.28 L481.5,180.20 L482.0,180.38 L482.5,180.47 L483.0,180.37 L483.5,180.72 L484.0,180.76 L484.5,180.68 L485.0,180.80 L485.5,180.75 L486.0,181.01 L486.5,181.38 L487.0,181.06 L487.5,181.41 L488.0,181.33 L488.5,181.49 L489.0,181.99 L489.5,182.04 L490.0,182.27 L490.5,182.72 L491.0,183.44 L491.5,184.00 L492.0,184.42 L492.5,185.37 L493.0,186.75 L493.5,187.57 L494.0,189.14 L494.5,190.68 L495.0,192.69 L495.5,194.65 L496.0,197.00 L496.5,199.30 L497.0,201.70 L497.5,204.34 L498.0,206.95 L498.5,209.95 L499.0,212.11 L499.5,214.45 L500.0,217.11 L500.5,218.72 L501.0,220.86 L501.5,222.07 L502.0,223.72 L502.5,224.95 L503.0,226.54 L503.5,227.67 L504.0,228.87 L504.5,230.04 L505.0,231.05 L505.5,231.52 L506.0,232.10 L506.5,232.16 L507.0,231.85 L507.5,231.86 L508.0,231.28 L508.5,230.90 L509.0,230.16 L509.5,229.97 L510.0,229.65 L510.5,229.57 L511.0,229.09 L511.5,229.09 L512.0,229.06 L512.5,228.77 L513.0,228.95 L513.5,229.01 L514.0,228.84 L514.5,228.97 L515.0,229.00 L515.5,228.87 L516.0,229.03 L516.5,229.46 L517.0,229.23 L517.5,229.39 L518.0,229.31 L518.5,229.47 L519.0,229.51 L519.5,229.96 L520.0,229.90 L520.5,230.01 L521.0,230.09 L521.5,229.92 L522.0,230.10 L522.5,229.91 L523.0,229.85 L523.5,230.12 L524.0,230.10 L524.5,230.12 L525.0,229.89 L525.5,230.04 L526.0,229.85 L526.5,230.15 L527.0,230.11 L527.5,229.80 L528.0,230.12 L528.5,229.74 L529.0,229.70 L529.5,230.01 L530.0,229.80 L530.5,229.91 L531.0,229.97 L531.5,229.67 L532.0,230.02 L532.5,229.79 L533.0,229.87 L533.5,229.82 L534.0,230.02 L534.5,230.02 L535.0,229.79 L535.5,229.70 L536.0,229.80 L536.5,229.86 L537.0,229.69 L537.5,229.73 L538.0,230.03 L538.5,230.00 L539.0,230.14 L539.5,230.14 L540.0,230.09 L540.5,229.84 L541.0,229.73 L541.5,229.81 L542.0,229.88 L542.5,229.91 L543.0,229.92 L543.5,229.83 L544.0,230.08 L544.5,229.79 L545.0,229.88 L545.5,230.09 L546.0,230.05 L546.5,229.80 L547.0,229.77 L547.5,230.05 L548.0,229.66 L548.5,229.72 L549.0,229.92 L549.5,229.92 L550.0,229.73 L550.5,229.68 L551.0,229.75 L551.5,230.03 L552.0,229.88 L552.5,230.14 L553.0,230.04 L553.5,230.14 L554.0,229.67 L554.5,229.74 L555.0,229.66 L555.5,229.87 L556.0,229.82 L556.5,229.68 L557.0,229.92 L557.5,229.70 L558.0,229.81 L558.5,229.77 L559.0,230.05 L559.5,229.86 L560.0,229.78 L560.5,229.67 L561.0,229.86 L561.5,229.96 L562.0,229.99 L562.5,230.11 L563.0,230.05 L563.5,229.77 L564.0,229.72 L564.5,230.03 L565.0,230.04 L565.5,229.90 L566.0,230.07 L566.5,229.93 L567.0,229.79 L567.5,229.73 L568.0,229.66 L568.5,229.97 L569.0,230.10 L569.5,230.10 L570.0,229.88 L570.5,229.98 L571.0,230.11 L571.5,230.06 L572.0,229.95 L572.5,229.86 L573.0,229.91 L573.5,229.74 L574.0,229.74 L574.5,229.99 L575.0,230.15 L575.5,229.92 L576.0,229.85 L576.5,229.83 L577.0,229.88 L577.5,230.05 L578.0,229.88 L578.5,230.13 L579.0,229.73 L579.5,229.81 L580.0,229.91 L580.5,229.86 L581.0,230.08 L581.5,230.06 L582.0,230.12 L582.5,229.96 L583.0,229.67 L583.5,229.94 L584.0,229.92 L584.5,229.89 L585.0,229.79 L585.5,230.00 L586.0,230.11 L586.5,229.70 L587.0,229.98 L587.5,229.84 L588.0,229.91 L588.5,230.10 L589.0,230.13 L589.5,229.97 L590.0,229.75 L590.5,230.11 L591.0,229.74 L591.5,229.84 L592.0,230.06 L592.5,229.81 L593.0,229.79 L593.5,230.12 L594.0,230.12 L594.5,229.81 L595.0,229.85 L595.5,229.79 L596.0,229.72 L596.5,229.78 L597.0,230.14 L597.5,229.69 L598.0,229.76 L598.5,229.75 L599.0,229.69 L599.5,229.91 L600.0,230.02 L600.5,230.07 L601.0,229.97 L601.5,230.06 L602.0,229.65 L602.5,229.79 L603.0,230.13 L603.5,229.68 L604.0,229.78 L604.5,229.89 L605.0,229.78 L605.5,229.92 L606.0,229.67 L606.5,229.77 L607.0,230.13 L607.5,229.72 L608.0,230.10 L608.5,229.74 L609.0,230.15 L609.5,229.99 L610.0,229.97 L610.5,229.72 L611.0,229.68 L611.5,230.03 L612.0,229.74 L612.5,229.74 L613.0,230.06 L613.5,230.09 L614.0,229.67 L614.5,230.13 L615.0,229.92 L615.5,229.84 L616.0,229.70 L616.5,229.84 L617.0,230.14 L617.5,229.79 L618.0,229.72 L618.5,229.72 L619.0,229.71 L619.5,229.83 L620.0,230.11 L620.5,229.69 L621.0,229.75 L621.5,230.12 L622.0,230.15 L622.5,230.14 L623.0,229.77 L623.5,229.83 L624.0,230.13 L624.5,229.89 L625.0,230.00 L625.5,229.81 L626.0,229.66 L626.5,229.82 L627.0,230.02 L627.5,230.04 L628.0,229.93 L628.5,229.88 L629.0,229.92 L629.5,229.87 L630.0,229.92 L630.5,230.07 L631.0,229.75 L631.5,229.95 L632.0,230.12 L632.5,230.07 L633.0,229.74 L633.5,230.13 L634.0,230.07 L634.5,229.73 L635.0,229.78 L635.5,229.75 L636.0,229.68 L636.5,230.14 L637.0,229.85 L637.5,230.09 L638.0,229.71 L638.5,229.66 L639.0,230.08 L639.5,230.05 L640.0,230.15 L640.5,229.99 L641.0,229.91 L641.5,230.03 L642.0,229.70 L642.5,229.92 L643.0,229.87 L643.5,229.72 L644.0,229.95 L644.5,229.81 L645.0,229.90 L645.5,229.84 L646.0,229.81 L646.5,229.83 L647.0,229.95 L647.5,230.14 L648.0,230.12 L648.5,230.08 L649.0,230.06 L649.5,229.79 L650.0,230.13 L650.5,229.78 L651.0,229.70 L651.5,229.89 L652.0,230.00 L652.5,229.80 L653.0,229.95 L653.5,229.77 L654.0,230.10 L654.5,229.84 L655.0,229.84 L655.5,229.86 L656.0,230.01 L656.5,230.05 L657.0,229.81 L657.5,229.75 L658.0,229.82 L658.5,229.55 L659.0,229.74 L659.5,230.00 L660.0,230.04 L660.5,229.78 L661.0,230.29 L661.5,230.13 L662.0,230.44 L662.5,230.03 L663.0,229.69 L663.5,229.43 L664.0,228.99 L664.5,228.01 L665.0,227.34 L665.5,226.26 L666.0,224.97 L666.5,223.70 L667.0,222.41 L667.5,220.80 L668.0,219.03 L668.5,217.20 L669.0,215.14 L669.5,212.64 L670.0,209.92 L670.5,207.34 L671.0,204.75 L671.5,202.22 L672.0,199.41 L672.5,196.93 L673.0,194.77 L673.5,192.67 L674.0,190.67 L674.5,189.26 L675.0,187.97 L675.5,186.46 L676.0,185.35 L676.5,184.25 L677.0,183.14 L677.5,182.07 L678.0,180.76 L678.5,179.88 L679.0,178.76 L679.5,178.54 L680.0,178.00 L680.5,178.07 L681.0,178.56 L681.5,178.72 L682.0,179.22 L682.5,180.07 L683.0,180.43 L683.5,180.54 L684.0,180.79 L684.5,181.16 L685.0,181.13 L685.5,181.64 L686.0,181.39 L686.5,181.46 L687.0,181.52 L687.5,181.56 L688.0,181.46 L688.5,181.48 L689.0,181.40 L689.5,181.18 L690.0,180.90 L690.5,181.22 L691.0,180.96 L691.5,180.53 L692.0,180.58 L692.5,180.61 L693.0,180.61 L693.5,180.03 L694.0,179.92 L694.5,180.11 L695.0,180.07 L695.5,180.34 L696.0,180.38 L696.5,180.23 L697.0,180.40 L697.5,180.61 L698.0,180.88 L698.5,180.65 L699.0,180.85 L699.5,180.79 L700.0,181.16 L700.5,180.95 L701.0,181.51 L701.5,181.43 L702.0,181.61 L702.5,181.55 L703.0,181.86 L703.5,182.25 L704.0,182.79 L704.5,183.05 L705.0,183.44 L705.5,184.41 L706.0,185.00 L706.5,185.83 L707.0,186.73 L707.5,188.04 L708.0,189.80 L708.5,191.10 L709.0,193.20 L709.5,195.36 L710.0,197.54 L710.5,200.23 L711.0,202.90 L711.5,205.53 L712.0,208.13 L712.5,210.46 L713.0,212.87 L713.5,215.37 L714.0,217.44 L714.5,219.31 L715.0,221.39 L715.5,222.62 L716.0,224.34 L716.5,225.73 L717.0,226.58 L717.5,228.20 L718.0,229.12 L718.5,230.09 L719.0,230.97 L719.5,231.54 L720.0,232.12 L720.5,232.11 L721.0,232.12 L721.5,231.72 L722.0,230.85 L722.5,230.55 L723.0,230.13 L723.5,229.69 L724.0,229.47 L724.5,229.28 L725.0,229.35 L725.5,229.06 L726.0,228.85 L726.5,228.82 L727.0,228.88 L727.5,228.91 L728.0,228.75 L728.5,229.01 L729.0,228.82 L729.5,229.13 L730.0,229.19 L730.5,229.08 L731.0,229.48 L731.5,229.40 L732.0,229.57 L732.5,229.68 L733.0,229.77 L733.5,229.73 L734.0,229.58 L734.5,229.98 L735.0,230.04 L735.5,229.87 L736.0,229.92 L736.5,229.77 L737.0,230.09 L737.5,229.99 L738.0,229.76 L738.5,230.06 L739.0,230.14 L739.5,229.82 L740.0,230.15 L740.5,229.89 L741.0,229.74 L741.5,230.01 L742.0,229.82 L742.5,230.02 L743.0,229.94 L743.5,229.70 L744.0,229.91 L744.5,230.08 L745.0,229.89 L745.5,229.92 L746.0,230.08 L746.5,229.87 L747.0,229.90 L747.5,229.94 L748.0,230.06 L748.5,229.75 L749.0,229.70 L749.5,230.03 L750.0,229.93 L750.5,229.80 L751.0,230.10 L751.5,230.09 L752.0,229.92 L752.5,230.14 L753.0,230.07 L753.5,230.02 L754.0,229.80 L754.5,229.66 L755.0,229.99 L755.5,230.02 L756.0,229.83 L756.5,229.89 L757.0,229.93 L757.5,229.77 L758.0,230.00 L758.5,229.93 L759.0,229.84 L759.5,229.70 L760.0,229.93 L760.5,229.81 L761.0,230.01 L761.5,229.74 L762.0,229.85 L762.5,229.75 L763.0,229.85 L763.5,229.94 L764.0,229.70 L764.5,229.68 L765.0,229.89 L765.5,229.75 L766.0,229.90 L766.5,229.73 L767.0,229.70 L767.5,229.92 L768.0,230.11 L768.5,230.08 L769.0,229.91 L769.5,229.85 L770.0,229.68 L770.5,229.79 L771.0,229.81 L771.5,230.12 L772.0,229.71 L772.5,230.12 L773.0,229.89 L773.5,229.87 L774.0,229.78 L774.5,230.13 L775.0,229.74 L775.5,229.94 L776.0,229.91 L776.5,229.75 L777.0,229.76 L777.5,230.14 L778.0,230.05 L778.5,230.02 L779.0,230.10 L779.5,229.70 L780.0,230.00 L780.5,230.03 L781.0,229.76 L781.5,229.88 L782.0,230.14 L782.5,229.81 L783.0,230.03 L783.5,229.73 L784.0,229.98 L784.5,229.78 L785.0,229.90 L785.5,229.84 L786.0,230.09 L786.5,230.02 L787.0,229.90 L787.5,229.99 L788.0,229.86 L788.5,230.05 L789.0,229.78 L789.5,229.92 L790.0,229.94 L790.5,229.84 L791.0,229.67 L791.5,229.73 L792.0,229.97 L792.5,229.76 L793.0,230.03 L793.5,229.90 L794.0,230.13 L794.5,230.07 L795.0,230.01 L795.5,229.84 L796.0,229.67 L796.5,229.93 L797.0,230.02 L797.5,230.11 L798.0,229.75 L798.5,229.73 L799.0,230.14 L799.5,230.02 L800.0,229.89 L800.5,230.02 L801.0,229.72 L801.5,229.92 L802.0,229.98 L802.5,229.95 L803.0,229.73 L803.5,229.72 L804.0,229.96 L804.5,230.09 L805.0,229.72 L805.5,229.65 L806.0,229.69 L806.5,230.04 L807.0,229.85 L807.5,229.88 L808.0,230.15 L808.5,229.96 L809.0,229.78 L809.5,230.00 L810.0,229.65 L810.5,229.79 L811.0,230.00 L811.5,229.74 L812.0,229.67 L812.5,229.91 L813.0,229.81 L813.5,230.14 L814.0,229.70 L814.5,230.05 L815.0,229.84 L815.5,230.05 L816.0,229.87 L816.5,229.98 L817.0,229.81 L817.5,229.76 L818.0,229.88 L818.5,230.05 L819.0,229.82 L819.5,229.76 L820.0,229.86 L820.5,229.70 L821.0,229.81 L821.5,229.94 L822.0,229.92 L822.5,229.95 L823.0,229.80 L823.5,229.66 L824.0,229.66 L824.5,229.82 L825.0,229.75 L825.5,229.93 L826.0,229.78 L826.5,230.03 L827.0,229.95 L827.5,229.98 L828.0,230.02 L828.5,229.91 L829.0,229.86 L829.5,229.80 L830.0,229.68 L830.5,230.05 L831.0,229.90 L831.5,229.70 L832.0,230.11 L832.5,229.94 L833.0,229.96 L833.5,229.87 L834.0,229.71 L834.5,230.15 L835.0,229.73 L835.5,229.83 L836.0,230.15 L836.5,229.71 L837.0,229.90 L837.5,229.89 L838.0,229.77 L838.5,230.11 L839.0,229.86 L839.5,229.66 L840.0,229.89 L840.5,229.65 L841.0,230.00 L841.5,230.08 L842.0,230.10 L842.5,229.67 L843.0,229.99 L843.5,229.80 L844.0,229.89 L844.5,229.80 L845.0,229.80 L845.5,229.72 L846.0,229.96 L846.5,229.69 L847.0,230.13 L847.5,229.67 L848.0,230.13 L848.5,229.75 L849.0,229.69 L849.5,230.02 L850.0,229.92 L850.5,230.03 L851.0,229.90 L851.5,229.97 L852.0,229.69 L852.5,229.99 L853.0,229.91 L853.5,230.13 L854.0,229.65 L854.5,229.68 L855.0,229.99 L855.5,230.11 L856.0,229.86 L856.5,230.01 L857.0,229.93 L857.5,229.85 L858.0,229.88 L858.5,229.95 L859.0,229.66 L859.5,229.80 L860.0,230.02 L860.5,229.78 L861.0,229.88 L861.5,229.78 L862.0,229.83 L862.5,229.97 L863.0,230.02 L863.5,230.12 L864.0,229.88 L864.5,229.74 L865.0,229.81 L865.5,229.67 L866.0,229.76 L866.5,229.92 L867.0,229.93 L867.5,229.74 L868.0,229.71 L868.5,229.66 L869.0,229.69 L869.5,229.84 L870.0,229.70 L870.5,230.00 L871.0,229.82 L871.5,229.69 L872.0,229.73 L872.5,229.53 L873.0,229.91 L873.5,229.97 L874.0,229.86 L874.5,230.15 L875.0,230.03 L875.5,230.06 L876.0,230.05 L876.5,229.88 L877.0,229.77 L877.5,229.30 L878.0,228.69 L878.5,227.58 L879.0,226.99 L879.5,225.80 L880.0,224.60 L880.5,223.37 L881.0,221.90 L881.5,220.16 L882.0,218.43 L882.5,216.53 L883.0,214.33 L883.5,212.02 L884.0,209.11 L884.5,206.83 L885.0,204.11 L885.5,201.44 L886.0,199.03 L886.5,196.21 L887.0,194.31 L887.5,192.35 L888.0,190.16 L888.5,188.80 L889.0,187.55 L889.5,185.94 L890.0,185.04 L890.5,183.93 L891.0,182.58 L891.5,181.34 L892.0,180.31 L892.5,179.66 L893.0,178.69 L893.5,178.13 L894.0,178.00 L894.5,178.36 L895.0,178.38 L895.5,178.76 L896.0,179.78 L896.5,179.98 L897.0,180.45 L897.5,181.09 L898.0,180.99 L898.5,181.08 L899.0,181.61 L899.5,181.37 L900.0,181.42 L900.5,181.80 L901.0,181.44 L901.5,181.74 L902.0,181.39 L902.5,181.29 L903.0,181.14 L903.5,181.20 L904.0,181.09 L904.5,180.90 L905.0,180.83 L905.5,180.60 L906.0,180.74 L906.5,180.66 L907.0,180.45 L907.5,180.38 L908.0,179.93 L908.5,179.98 L909.0,179.97 L909.5,179.99 L910.0,180.48 L910.5,180.56 L911.0,180.69 L911.5,180.63 L912.0,180.53 L912.5,180.79 L913.0,180.71 L913.5,181.23 L914.0,181.00 L914.5,181.11 L915.0,181.56 L915.5,181.32 L916.0,181.84 L916.5,181.73 L917.0,182.16 L917.5,182.18 L918.0,182.94 L918.5,183.14 L919.0,183.65 L919.5,184.47 L920.0,185.23 L920.5,186.01 L921.0,187.07 L921.5,188.62 L922.0,189.88 L922.5,192.05 L923.0,193.76 L923.5,195.86 L924.0,198.31 L924.5,200.72 L925.0,203.45 L925.5,206.23 L926.0,208.80 L926.5,211.33 L927.0,213.74 L927.5,216.10 L928.0,218.32 L928.5,220.01 L929.0,221.85 L929.5,223.22 L930.0,224.42 L930.5,225.75 L931.0,227.34 L931.5,228.37 L932.0,229.46 L932.5,230.55 L933.0,231.54 L933.5,231.86 L934.0,232.10 L934.5,232.05 L935.0,231.59 L935.5,231.42 L936.0,230.91 L936.5,230.45 L937.0,230.04 L937.5,229.74 L938.0,229.63 L938.5,229.19 L939.0,229.45 L939.5,228.91 L940.0,229.20 L940.5,228.78 L941.0,229.05 L941.5,228.76 L942.0,228.68 L942.5,228.94 L943.0,229.16 L943.5,229.25 L944.0,229.36 L944.5,229.52 L945.0,229.16 L945.5,229.43 L946.0,229.38 L946.5,229.78 L947.0,229.70 L947.5,229.90 L948.0,229.96 L948.5,230.09 L949.0,229.95 L949.5,230.06 L950.0,229.91 L950.5,229.68 L951.0,230.09 L951.5,229.69 L952.0,229.69 L952.5,230.06 L953.0,229.79 L953.5,229.98 L954.0,229.66 L954.5,229.76 L955.0,230.01 L955.5,229.67 L956.0,229.91 L956.5,230.12 L957.0,229.76 L957.5,230.00 L958.0,230.02 L958.5,229.96 L959.0,230.03 L959.5,230.00 L960.0,229.66 L960.5,229.75 L961.0,229.92 L961.5,230.13 L962.0,229.76 L962.5,229.94 L963.0,229.71 L963.5,230.07 L964.0,229.87 L964.5,229.91 L965.0,229.98 L965.5,229.72 L966.0,230.01 L966.5,230.05 L967.0,230.08 L967.5,229.79 L968.0,229.77 L968.5,229.73 L969.0,230.10 L969.5,229.87 L970.0,229.84 L970.5,229.91 L971.0,230.00 L971.5,229.81 L972.0,229.82 L972.5,230.03 L973.0,230.04 L973.5,229.80 L974.0,229.69 L974.5,230.11 L975.0,230.01 L975.5,229.95 L976.0,229.85 L976.5,230.13 L977.0,229.87 L977.5,229.76 L978.0,229.70 L978.5,229.83 L979.0,229.95 L979.5,229.83 L980.0,230.12 L980.5,229.97 L981.0,229.88 L981.5,229.98 L982.0,229.95 L982.5,229.96 L983.0,229.90 L983.5,229.91 L984.0,229.90 L984.5,230.07 L985.0,229.75 L985.5,230.04 L986.0,229.80 L986.5,230.07 L987.0,229.69 L987.5,229.89 L988.0,229.87 L988.5,230.01 L989.0,229.75 L989.5,229.78 L990.0,229.72 L990.5,229.93 L991.0,229.94 L991.5,229.65 L992.0,229.74 L992.5,229.75 L993.0,230.13 L993.5,229.88 L994.0,229.93 L994.5,229.79 L995.0,229.98 L995.5,230.06 L996.0,229.99 L996.5,229.65 L997.0,229.87 L997.5,229.89 L998.0,229.67 L998.5,230.04 L999.0,229.81 L999.5,229.80 L1000.0,229.96 L1000.5,229.94 L1001.0,229.90 L1001.5,230.08 L1002.0,229.91 L1002.5,229.82 L1003.0,229.68 L1003.5,229.93 L1004.0,229.83 L1004.5,229.92 L1005.0,229.82 L1005.5,229.65 L1006.0,229.67 L1006.5,229.73 L1007.0,229.70 L1007.5,230.08 L1008.0,229.94 L1008.5,229.77 L1009.0,230.01 L1009.5,229.97 L1010.0,229.68 L1010.5,230.03 L1011.0,229.76 L1011.5,230.15 L1012.0,229.72 L1012.5,229.79 L1013.0,229.77 L1013.5,230.08 L1014.0,230.06 L1014.5,229.94 L1015.0,229.72 L1015.5,229.86 L1016.0,230.00 L1016.5,229.68 L1017.0,230.11 L1017.5,230.07 L1018.0,230.12 L1018.5,230.00 L1019.0,229.96 L1019.5,230.14 L1020.0,229.78 L1020.5,229.80 L1021.0,229.71 L1021.5,229.74 L1022.0,230.05 L1022.5,229.70 L1023.0,230.02 L1023.5,229.85 L1024.0,230.09 L1024.5,230.03 L1025.0,229.99 L1025.5,230.07 L1026.0,229.67 L1026.5,229.78 L1027.0,229.83 L1027.5,229.86 L1028.0,229.99 L1028.5,230.09 L1029.0,230.02 L1029.5,230.11 L1030.0,230.00 L1030.5,229.83 L1031.0,229.90 L1031.5,230.02 L1032.0,230.06 L1032.5,229.83 L1033.0,229.83 L1033.5,229.96 L1034.0,229.76 L1034.5,230.09 L1035.0,229.65 L1035.5,229.97 L1036.0,229.89 L1036.5,229.75 L1037.0,229.94 L1037.5,229.89 L1038.0,230.13 L1038.5,230.09 L1039.0,229.94 L1039.5,230.09 L1040.0,230.09 L1040.5,229.73 L1041.0,230.06 L1041.5,230.07 L1042.0,230.15 L1042.5,230.03 L1043.0,229.85 L1043.5,229.75 L1044.0,229.98 L1044.5,229.76 L1045.0,230.03 L1045.5,229.94 L1046.0,230.06 L1046.5,229.83 L1047.0,229.80 L1047.5,230.10 L1048.0,229.98 L1048.5,229.84 L1049.0,229.93 L1049.5,229.87 L1050.0,229.97 L1050.5,229.91 L1051.0,229.79 L1051.5,230.14 L1052.0,230.09 L1052.5,230.03 L1053.0,229.79 L1053.5,229.75 L1054.0,230.02 L1054.5,230.06 L1055.0,229.98 L1055.5,229.76 L1056.0,230.01 L1056.5,229.91 L1057.0,229.84 L1057.5,229.94 L1058.0,229.87 L1058.5,229.97 L1059.0,230.03 L1059.5,230.14 L1060.0,229.71 L1060.5,229.94 L1061.0,230.12 L1061.5,229.98 L1062.0,229.94 L1062.5,230.08 L1063.0,229.67 L1063.5,230.05 L1064.0,229.96 L1064.5,229.94 L1065.0,229.81 L1065.5,229.96 L1066.0,229.71 L1066.5,229.91 L1067.0,229.78 L1067.5,230.12 L1068.0,230.05 L1068.5,229.89 L1069.0,230.03 L1069.5,229.84 L1070.0,229.91 L1070.5,229.73 L1071.0,230.08 L1071.5,230.03 L1072.0,230.03 L1072.5,229.69 L1073.0,230.06 L1073.5,229.66 L1074.0,229.93 L1074.5,229.89 L1075.0,229.68 L1075.5,229.86 L1076.0,230.09 L1076.5,229.96 L1077.0,229.80 L1077.5,230.05 L1078.0,229.82 L1078.5,230.09 L1079.0,229.84 L1079.5,229.68 L1080.0,230.12 L1080.5,229.67 L1081.0,229.75 L1081.5,230.01 L1082.0,229.67 L1082.5,229.88 L1083.0,230.02 L1083.5,229.88 L1084.0,229.74 L1084.5,229.93 L1085.0,229.94 L1085.5,229.81 L1086.0,229.82 L1086.5,229.68 L1087.0,229.76 L1087.5,230.11 L1088.0,230.20 L1088.5,229.82 L1089.0,230.02 L1089.5,230.07 L1090.0,230.30 L1090.5,229.80 L1091.0,229.42 L1091.5,229.17 L1092.0,228.17 L1092.5,227.73 L1093.0,226.51 L1093.5,225.66 L1094.0,224.42 L1094.5,222.78 L1095.0,221.57 L1095.5,219.70 L1096.0,217.72 L1096.5,215.53 L1097.0,213.57 L1097.5,211.04 L1098.0,208.33 L1098.5,205.94 L1099.0,202.96 L1099.5,200.48 L1100.0,197.80 L1100.5,195.58 L1101.0,193.69 L1101.5,191.55 L1102.0,189.64 L1102.5,188.14 L1103.0,186.98 L1103.5,185.55 L1104.0,184.69 L1104.5,183.15 L1105.0,182.45 L1105.5,181.23 L1106.0,180.29 L1106.5,179.15 L1107.0,178.32 L1107.5,177.96 L1108.0,178.10 L1108.5,178.00 L1109.0,178.45 L1109.5,179.32 L1110.0,179.91 L1110.5,180.40 L1111.0,180.80 L1111.5,180.97 L1112.0,181.35 L1112.5,181.43 L1113.0,181.47 L1113.5,181.49 L1114.0,181.33 L1114.5,181.38 L1115.0,181.44 L1115.5,181.50 L1116.0,181.26 L1116.5,181.59 L1117.0,181.29 L1117.5,181.26 L1118.0,181.22 L1118.5,180.77 L1119.0,180.98 L1119.5,180.89 L1120.0,180.42 L1120.5,180.22 L1121.0,180.44 L1121.5,180.39 L1122.0,180.28 L1122.5,180.06 L1123.0,180.18 L1123.5,179.99 L1124.0,180.15 L1124.5,180.35 L1125.0,180.64 L1125.5,180.44 L1126.0,180.97 L1126.5,180.63 L1127.0,181.20 L1127.5,180.92 L1128.0,181.31 L1128.5,181.41 L1129.0,181.60 L1129.5,181.50 L1130.0,181.79 L1130.5,181.80 L1131.0,182.33 L1131.5,182.29 L1132.0,183.06 L1132.5,183.40 L1133.0,183.71 L1133.5,184.85 L1134.0,185.38 L1134.5,186.26 L1135.0,187.54 L1135.5,188.81 L1136.0,190.54 L1136.5,192.58 L1137.0,194.76 L1137.5,196.83 L1138.0,199.36 L1138.5,201.91 L1139.0,204.50 L1139.5,207.00 L1140.0,209.56 L1140.5,212.04 L1141.0,214.62 L1141.5,216.65 L1142.0,218.92 L1142.5,220.51 L1143.0,222.26 L1143.5,223.71 L1144.0,225.10 L1144.5,226.15 L1145.0,227.44 L1145.5,228.85 L1146.0,229.72 L1146.5,230.92 L1147.0,231.81 L1147.5,231.98 L1148.0,232.41 L1148.5,232.11 L1149.0,231.93 L1149.5,231.26 L1150.0,230.89 L1150.5,230.41 L1151.0,229.81 L1151.5,229.69 L1152.0,229.51 L1152.5,229.29 L1153.0,229.26 L1153.5,229.28 L1154.0,229.14 L1154.5,229.08 L1155.0,228.71 L1155.5,228.98 L1156.0,228.96 L1156.5,229.16 L1157.0,228.76 L1157.5,228.94 L1158.0,229.44 L1158.5,229.25 L1159.0,229.52 L1159.5,229.56 L1160.0,229.55 L1160.5,229.65 L1161.0,229.77 L1161.5,230.03 L1162.0,229.84 L1162.5,229.99 L1163.0,229.77 L1163.5,229.99 L1164.0,229.94 L1164.5,230.01 L1165.0,230.09 L1165.5,229.69 L1166.0,230.13 L1166.5,229.95 L1167.0,229.78 L1167.5,229.88 L1168.0,229.70 L1168.5,229.77 L1169.0,230.07 L1169.5,230.01 L1170.0,230.08 L1170.5,229.73 L1171.0,229.70 L1171.5,229.84 L1172.0,229.90 L1172.5,230.01 L1173.0,229.80 L1173.5,230.02 L1174.0,229.94 L1174.5,229.79 L1175.0,230.04 L1175.5,229.69 L1176.0,229.95 L1176.5,229.74 L1177.0,229.67 L1177.5,229.89 L1178.0,229.91 L1178.5,229.96 L1179.0,229.84 L1179.5,230.11 L1180.0,230.04 L1180.5,229.73 L1181.0,229.65 L1181.5,230.13 L1182.0,229.86 L1182.5,229.70 L1183.0,229.74 L1183.5,230.00 L1184.0,229.74 L1184.5,229.84 L1185.0,229.99 L1185.5,229.83 L1186.0,229.98 L1186.5,230.12 L1187.0,230.05 L1187.5,229.96 L1188.0,229.96 L1188.5,229.80 L1189.0,229.97 L1189.5,229.97 L1190.0,229.94 L1190.5,229.90 L1191.0,230.03 L1191.5,229.75 L1192.0,230.01 L1192.5,230.14 L1193.0,229.67 L1193.5,229.78 L1194.0,230.14 L1194.5,229.69 L1195.0,230.06 L1195.5,229.94 L1196.0,229.68 L1196.5,229.96 L1197.0,229.65 L1197.5,230.07 L1198.0,229.80 L1198.5,230.11 L1199.0,230.10 L1199.5,229.72 L1200.0,229.85 L1200.5,229.73 L1201.0,230.03 L1201.5,229.70 L1202.0,229.69 L1202.5,229.71 L1203.0,230.08 L1203.5,229.77 L1204.0,229.81 L1204.5,229.87" fill="none" stroke="#d2c848" stroke-width="1.45" stroke-linejoin="round"/>
<line x1="204" y1="416.3" x2="327" y2="416.3" stroke="#3f7a45" stroke-width="2.6"/>
<line x1="330" y1="416.3" x2="453" y2="416.3" stroke="#3f7a45" stroke-width="2.6"/>
<line x1="456" y1="416.3" x2="578" y2="416.3" stroke="#3f7a45" stroke-width="2.6"/>
<line x1="581" y1="416.3" x2="704" y2="416.3" stroke="#3f7a45" stroke-width="2.6"/>
<line x1="707" y1="416.3" x2="829" y2="416.3" stroke="#3f7a45" stroke-width="2.6"/>
<line x1="832" y1="416.3" x2="955" y2="416.3" stroke="#3f7a45" stroke-width="2.6"/>
<line x1="958" y1="416.3" x2="1081" y2="416.3" stroke="#3f7a45" stroke-width="2.6"/>
<line x1="1084" y1="416.3" x2="1205" y2="416.3" stroke="#3f7a45" stroke-width="2.6"/>
<path d="M212.0,417.6 L212.0,415.2 L213.0,415.2 L214.0,415.2 L215.0,415.2 L216.0,415.2 L217.0,415.2 L218.0,415.2 L219.0,415.2 L220.0,415.2 L221.0,415.2 L222.0,415.2 L223.0,415.2 L224.0,415.2 L225.0,415.2 L226.0,415.2 L227.0,415.2 L228.0,415.2 L229.0,415.2 L230.0,415.2 L231.0,415.2 L232.0,415.2 L233.0,415.2 L234.0,415.2 L235.0,415.2 L236.0,415.2 L237.0,415.2 L238.0,415.2 L239.0,415.2 L240.0,415.2 L241.0,415.2 L242.0,415.2 L243.0,415.2 L244.0,415.2 L245.0,415.2 L246.0,415.2 L247.0,415.2 L248.0,415.2 L249.0,415.0 L250.0,414.9 L251.0,414.8 L252.0,414.0 L253.0,414.3 L254.0,413.5 L255.0,412.7 L256.0,412.9 L257.0,411.9 L258.0,411.2 L259.0,410.9 L260.0,409.9 L261.0,408.9 L262.0,408.3 L263.0,407.4 L264.0,407.2 L265.0,406.5 L266.0,406.1 L267.0,405.4 L268.0,404.8 L269.0,405.0 L270.0,405.0 L271.0,405.5 L272.0,405.6 L273.0,406.6 L274.0,407.1 L275.0,407.4 L276.0,408.1 L277.0,409.1 L278.0,410.2 L279.0,410.8 L280.0,411.5 L281.0,412.1 L282.0,412.3 L283.0,413.3 L284.0,413.2 L285.0,413.6 L286.0,414.6 L287.0,414.7 L288.0,414.8 L289.0,415.2 L290.0,415.2 L291.0,415.2 L292.0,415.2 L293.0,415.2 L294.0,415.2 L295.0,415.2 L296.0,415.2 L297.0,415.2 L298.0,415.2 L299.0,415.2 L300.0,415.2 L301.0,415.2 L302.0,415.2 L303.0,415.2 L304.0,415.2 L305.0,415.2 L306.0,415.2 L307.0,415.2 L308.0,415.2 L309.0,415.2 L310.0,415.2 L311.0,415.2 L312.0,415.2 L313.0,415.2 L314.0,415.2 L315.0,415.2 L316.0,415.2 L317.0,415.2 L318.0,415.2 L318.0,417.6 Z" fill="#8cc63f"/>
<path d="M358.0,417.6 L358.0,415.2 L359.0,415.2 L360.0,415.2 L361.0,415.2 L362.0,415.2 L363.0,415.2 L364.0,415.2 L365.0,415.2 L366.0,415.2 L367.0,415.2 L368.0,415.2 L369.0,415.2 L370.0,415.2 L371.0,415.2 L372.0,415.2 L373.0,415.2 L374.0,415.2 L375.0,415.2 L376.0,415.2 L377.0,415.2 L378.0,415.1 L379.0,414.4 L380.0,414.7 L381.0,413.9 L382.0,413.7 L383.0,412.6 L384.0,411.4 L385.0,410.5 L386.0,408.8 L387.0,406.5 L388.0,403.5 L389.0,401.2 L390.0,398.8 L391.0,396.9 L392.0,396.0 L393.0,396.9 L394.0,398.6 L395.0,400.7 L396.0,403.9 L397.0,406.1 L398.0,408.7 L399.0,410.2 L400.0,411.3 L401.0,413.1 L402.0,413.4 L403.0,413.9 L404.0,414.7 L405.0,414.9 L406.0,414.6 L407.0,415.2 L408.0,415.2 L409.0,415.2 L410.0,415.2 L411.0,415.2 L412.0,415.2 L413.0,415.2 L414.0,415.2 L415.0,415.2 L416.0,415.2 L417.0,415.2 L418.0,415.2 L419.0,415.2 L420.0,415.2 L421.0,415.2 L422.0,415.2 L423.0,415.2 L424.0,415.2 L425.0,415.2 L426.0,415.2 L426.0,417.6 Z" fill="#8cc63f"/>
<line x1="486" y1="416.3" x2="550" y2="416.3" stroke="#8cc63f" stroke-width="2.4"/>
<rect x="510.0" y="410.3" width="3" height="6" fill="#8cc63f"/>
<rect x="514.0" y="412.3" width="3" height="4" fill="#8cc63f"/>
<rect x="517.5" y="405.3" width="3.6" height="11" fill="#8cc63f"/>
<rect x="521.5" y="411.3" width="3" height="5" fill="#8cc63f"/>
<rect x="525.5" y="412.3" width="3" height="4" fill="#8cc63f"/>
<line x1="600" y1="416.3" x2="676" y2="416.3" stroke="#8cc63f" stroke-width="2.4"/>
<rect x="626.5" y="412.3" width="3" height="4" fill="#8cc63f"/>
<rect x="634.4" y="406.8" width="4.2" height="9.5" fill="#8cc63f"/>
<rect x="639.5" y="411.3" width="3" height="5" fill="#8cc63f"/>
<rect x="643.8" y="411.8" width="4.5" height="4.5" fill="#8cc63f"/>
<line x1="724" y1="416.3" x2="810" y2="416.3" stroke="#8cc63f" stroke-width="2.4"/>
<rect x="726.5" y="411.3" width="3" height="5" fill="#8cc63f"/>
<rect x="744.5" y="401.8" width="3" height="14.5" fill="#8cc63f"/>
<rect x="763.7" y="402.3" width="3.6" height="14" fill="#8cc63f"/>
<rect x="784.5" y="401.3" width="3" height="15" fill="#8cc63f"/>
<rect x="803.0" y="409.3" width="4" height="7" fill="#8cc63f"/>
<line x1="858" y1="416.3" x2="916" y2="416.3" stroke="#8cc63f" stroke-width="2.4"/>
<rect x="860.8" y="411.3" width="2.5" height="5" fill="#8cc63f"/>
<rect x="870.8" y="409.3" width="2.5" height="7" fill="#8cc63f"/>
<rect x="879.7" y="403.3" width="2.6" height="13" fill="#8cc63f"/>
<rect x="889.2" y="403.3" width="2.6" height="13" fill="#8cc63f"/>
<rect x="899.5" y="401.8" width="3" height="14.5" fill="#8cc63f"/>
<rect x="909.2" y="410.3" width="3.6" height="6" fill="#8cc63f"/>
<line x1="1012" y1="416.3" x2="1022" y2="416.3" stroke="#8cc63f" stroke-width="2.4"/>
<rect x="1015.5" y="400.8" width="3" height="15.5" fill="#8cc63f"/>
</svg>
<div class="pl r" style="left:60px;width:73px;top:37px">42 dBm</div>
<div class="pl r" style="left:60px;width:73px;top:76.5px">-38 dBm</div>
<div class="pl r" style="left:60px;width:73px;top:117px">-118 dBm</div>
<div class="pl" style="left:136px;top:131px">25 MHz</div>
<div class="pl c" style="left:192.42000000000002px;width:100px;top:131px">45 MHz</div>
<div class="pl c" style="left:299.34000000000003px;width:100px;top:131px">65 MHz</div>
<div class="pl c" style="left:406.26px;width:100px;top:131px">85 MHz</div>
<div class="pl c" style="left:513.1800000000001px;width:100px;top:131px">105 MHz</div>
<div class="pl c" style="left:620.1px;width:100px;top:131px">125 MHz</div>
<div class="pl c" style="left:727.02px;width:100px;top:131px">145 MHz</div>
<div class="pl c" style="left:833.94px;width:100px;top:131px">165 MHz</div>
<div class="pl c" style="left:940.86px;width:100px;top:131px">185 MHz</div>
<div class="pl c" style="left:1047.78px;width:100px;top:131px">205 MHz</div>
<div class="pl r" style="left:1105px;width:100px;top:131px">225 MHz</div>
<div class="yl r" style="left:60px;width:72px;top:159.8px">4 V</div>
<div class="yl r" style="left:60px;width:72px;top:200.2px">0 mV</div>
<div class="yl r" style="left:60px;width:72px;top:241.6px">-4 V</div>
<div class="yl" style="left:136px;top:255.8px">-500 ns</div>
<div class="yl c" style="left:192.42000000000002px;width:100px;top:255.8px">-400 ns</div>
<div class="yl c" style="left:299.34000000000003px;width:100px;top:255.8px">-300 ns</div>
<div class="yl c" style="left:406.26px;width:100px;top:255.8px">-200 ns</div>
<div class="yl c" style="left:513.1800000000001px;width:100px;top:255.8px">-100 ns</div>
<div class="yl c" style="left:620.1px;width:100px;top:255.8px">0 ns</div>
<div class="yl c" style="left:727.02px;width:100px;top:255.8px">100 ns</div>
<div class="yl c" style="left:833.94px;width:100px;top:255.8px">200 ns</div>
<div class="yl c" style="left:940.86px;width:100px;top:255.8px">300 ns</div>
<div class="yl c" style="left:1047.78px;width:100px;top:255.8px">400 ns</div>
<div class="yl r" style="left:1105px;width:100px;top:255.8px">500 ns</div>
<div class="a" style="left:60px;top:292px;width:1170px;height:1.5px;background:#5c6062"></div>
<div class="tr" style="top:294.5px;background:#2a2d30"></div>
<div class="tr" style="top:322.5px;background:#2a2d30"></div>
<div class="tr" style="top:351.5px;background:#2a2d30"></div>
<div class="tr" style="top:380.0px;background:#2a2d30"></div>
<div class="th" style="left:78px;top:279.3px">Std Hor</div>
<div class="th r" style="left:207px;width:120px;top:279.3px">P1:rise(C1)</div>
<div class="th r" style="left:332.6px;width:120px;top:279.3px">P2:fall(C1)</div>
<div class="th r" style="left:458.20000000000005px;width:120px;top:279.3px">P3:period(C1)</div>
<div class="th r" style="left:583.8px;width:120px;top:279.3px">P4:freq(C1)</div>
<div class="th r" style="left:709.4px;width:120px;top:279.3px">P5:width(C1)</div>
<div class="th r" style="left:835px;width:120px;top:279.3px">P6:duty(C1)</div>
<div class="th r" style="left:960.5999999999999px;width:120px;top:279.3px">P7:delay(C1)</div>
<div class="th r" style="left:1086.2px;width:120px;top:279.3px">P8:npoints(C1)</div>
<div class="tc" style="left:78px;top:295.4px">value</div>
<div class="tc r" style="left:207px;width:120px;top:295.4px">7.46 ns</div>
<div class="tc r" style="left:332.6px;width:120px;top:295.4px">7.32 ns</div>
<div class="tc r" style="left:458.20000000000005px;width:120px;top:295.4px">200.04 ns</div>
<div class="tc r" style="left:583.8px;width:120px;top:295.4px">4.9989 MHz</div>
<div class="tc r" style="left:709.4px;width:120px;top:295.4px">39.94 ns</div>
<div class="tc r" style="left:835px;width:120px;top:295.4px">19.957 %</div>
<div class="tc r" style="left:960.5999999999999px;width:120px;top:295.4px">-999.93144 us</div>
<div class="tc r" style="left:1086.2px;width:120px;top:295.4px">2.000000e+6</div>
<div class="tc" style="left:78px;top:309.4px">mean</div>
<div class="tc r" style="left:207px;width:120px;top:309.4px">7.2484 ns</div>
<div class="tc r" style="left:332.6px;width:120px;top:309.4px">7.2474 ns</div>
<div class="tc r" style="left:458.20000000000005px;width:120px;top:309.4px">199.98613 ns</div>
<div class="tc r" style="left:583.8px;width:120px;top:309.4px">5.000347 MHz</div>
<div class="tc r" style="left:709.4px;width:120px;top:309.4px">39.852 ns</div>
<div class="tc r" style="left:835px;width:120px;top:309.4px">19.927 %</div>
<div class="tc r" style="left:960.5999999999999px;width:120px;top:309.4px">-999.93144 us</div>
<div class="tc r" style="left:1086.2px;width:120px;top:309.4px">2.000000e+6</div>
<div class="tc" style="left:78px;top:323.4px">min</div>
<div class="tc r" style="left:207px;width:120px;top:323.4px">6.81 ns</div>
<div class="tc r" style="left:332.6px;width:120px;top:323.4px">6.75 ns</div>
<div class="tc r" style="left:458.20000000000005px;width:120px;top:323.4px">199.64 ns</div>
<div class="tc r" style="left:583.8px;width:120px;top:323.4px">4.9941 MHz</div>
<div class="tc r" style="left:709.4px;width:120px;top:323.4px">23.70 ns</div>
<div class="tc r" style="left:835px;width:120px;top:323.4px">11.856 %</div>
<div class="tc r" style="left:960.5999999999999px;width:120px;top:323.4px">-999.93144 us</div>
<div class="tc r" style="left:1086.2px;width:120px;top:323.4px">2.000000e+6</div>
<div class="tc" style="left:78px;top:337.8px">max</div>
<div class="tc r" style="left:207px;width:120px;top:337.8px">7.63 ns</div>
<div class="tc r" style="left:332.6px;width:120px;top:337.8px">7.70 ns</div>
<div class="tc r" style="left:458.20000000000005px;width:120px;top:337.8px">200.24 ns</div>
<div class="tc r" style="left:583.8px;width:120px;top:337.8px">5.0091 MHz</div>
<div class="tc r" style="left:709.4px;width:120px;top:337.8px">56.04 ns</div>
<div class="tc r" style="left:835px;width:120px;top:337.8px">27.997 %</div>
<div class="tc r" style="left:960.5999999999999px;width:120px;top:337.8px">-999.93144 us</div>
<div class="tc r" style="left:1086.2px;width:120px;top:337.8px">2.000000e+6</div>
<div class="tc" style="left:78px;top:352.4px">sdev</div>
<div class="tc r" style="left:207px;width:120px;top:352.4px">110.8 ps</div>
<div class="tc r" style="left:332.6px;width:120px;top:352.4px">121.0 ps</div>
<div class="tc r" style="left:458.20000000000005px;width:120px;top:352.4px">65.72 ps</div>
<div class="tc r" style="left:583.8px;width:120px;top:352.4px">1.643 kHz</div>
<div class="tc r" style="left:709.4px;width:120px;top:352.4px">9.729 ns</div>
<div class="tc r" style="left:835px;width:120px;top:352.4px">4.865 %</div>
<div class="a" style="left:1071.6px;top:358.9px;width:8px;height:1.5px;background:#9a9c9e"></div>
<div class="a" style="left:1197.2px;top:358.9px;width:8px;height:1.5px;background:#9a9c9e"></div>
<div class="tc" style="left:78px;top:366.4px">num</div>
<div class="tc r" style="left:207px;width:120px;top:366.4px">10.001e+3</div>
<div class="tc r" style="left:332.6px;width:120px;top:366.4px">10.001e+3</div>
<div class="tc r" style="left:458.20000000000005px;width:120px;top:366.4px">10.000e+3</div>
<div class="tc r" style="left:583.8px;width:120px;top:366.4px">10.000e+3</div>
<div class="tc r" style="left:709.4px;width:120px;top:366.4px">10.001e+3</div>
<div class="tc r" style="left:835px;width:120px;top:366.4px">10.000e+3</div>
<div class="tc r" style="left:960.5999999999999px;width:120px;top:366.4px">1</div>
<div class="tc r" style="left:1086.2px;width:120px;top:366.4px">1</div>
<div class="tc" style="left:78px;top:380.9px">status</div>
<div class="tc" style="left:78px;top:401.4px">histo</div>
<svg class="a" style="left:316px;top:382.9px" width="11" height="9" viewBox="0 0 11 9"><path d="M1,4.6 L4,7.6 L10,1" fill="none" stroke="#8cc63f" stroke-width="2.1"/></svg>
<svg class="a" style="left:441.6px;top:382.9px" width="11" height="9" viewBox="0 0 11 9"><path d="M1,4.6 L4,7.6 L10,1" fill="none" stroke="#8cc63f" stroke-width="2.1"/></svg>
<svg class="a" style="left:567.2px;top:382.9px" width="11" height="9" viewBox="0 0 11 9"><path d="M1,4.6 L4,7.6 L10,1" fill="none" stroke="#8cc63f" stroke-width="2.1"/></svg>
<svg class="a" style="left:692.8px;top:382.9px" width="11" height="9" viewBox="0 0 11 9"><path d="M1,4.6 L4,7.6 L10,1" fill="none" stroke="#8cc63f" stroke-width="2.1"/></svg>
<svg class="a" style="left:818.4px;top:382.9px" width="11" height="9" viewBox="0 0 11 9"><path d="M1,4.6 L4,7.6 L10,1" fill="none" stroke="#8cc63f" stroke-width="2.1"/></svg>
<svg class="a" style="left:944px;top:382.9px" width="11" height="9" viewBox="0 0 11 9"><path d="M1,4.6 L4,7.6 L10,1" fill="none" stroke="#8cc63f" stroke-width="2.1"/></svg>
<svg class="a" style="left:1069.6px;top:382.9px" width="11" height="9" viewBox="0 0 11 9"><path d="M1,4.6 L4,7.6 L10,1" fill="none" stroke="#8cc63f" stroke-width="2.1"/></svg>
<svg class="a" style="left:1195.2px;top:382.9px" width="11" height="9" viewBox="0 0 11 9"><path d="M1,4.6 L4,7.6 L10,1" fill="none" stroke="#8cc63f" stroke-width="2.1"/></svg>
<div class="a" style="left:76px;top:421.5px;width:87.5px;height:15px;background:#ea679c"></div>
<div class="a" style="left:76px;top:436.5px;width:87.5px;height:69.5px;background:#357bb0"></div>
<div class="dh" style="left:79px;top:423px;color:#6a1030">F2</div>
<div class="dh r" style="left:100px;width:62px;top:423px;color:#6a1030">FFT(C1)</div>
<div class="dv r" style="left:90px;width:72.5px;top:438.5px">20.0 dB/div</div>
<div class="dv r" style="left:90px;width:72.5px;top:452.1px">20.0 MHz</div>
<div class="dv r" style="left:90px;width:72.5px;top:465.7px">-73.69 dBm</div>
<div class="dv r" style="left:90px;width:72.5px;top:479.3px">-75.53 dBm</div>
<div class="dv r" style="left:90px;width:72.5px;top:492.9px">-1.84 dB</div>
<div class="dv" style="left:80px;top:465.5px">&#8595;</div>
<div class="dv" style="left:80px;top:479px">&#8593;</div>
<div class="dv" style="left:79px;top:492.5px">&Delta;y</div>
<div class="a" style="left:166px;top:421.5px;width:86px;height:15px;background:#efe122"></div>
<div class="a" style="left:166px;top:436.5px;width:86px;height:69.5px;background:#696b6d"></div>
<div class="dh" style="left:169px;top:423px;color:#5a5200">Z1</div>
<div class="dh r" style="left:190px;width:61px;top:423px;color:#5a5200">zoom(C1)</div>
<div class="dv r" style="left:180px;width:71px;top:438.5px">1.00 V/div</div>
<div class="dv r" style="left:180px;width:71px;top:452.1px">100 ns/div</div>
<div class="a" style="left:241px;top:472.2px;width:10px;height:1.6px;background:#d8d8d8"></div>
<div class="a" style="left:241px;top:485.59999999999997px;width:10px;height:1.6px;background:#d8d8d8"></div>
<div class="a" style="left:241px;top:499.0px;width:10px;height:1.6px;background:#d8d8d8"></div>
<svg class="a" style="left:253px;top:420px" width="92" height="90" viewBox="0 0 92 90"><rect x="3" y="2.6" width="85.5" height="83.2" fill="none" stroke="#c2c4c6" stroke-width="1.7" stroke-dasharray="2 1.5"/></svg>
<svg class="a" style="left:291px;top:458px" width="12" height="12" viewBox="0 0 12 12"><path d="M6,0.5V11.5M0.5,6H11.5" stroke="#fff" stroke-width="1.7"/></svg>
<div class="a" style="left:1021px;top:422.5px;width:98.5px;height:13.5px;background:#f6f6f6"></div>
<div class="a" style="left:1021px;top:436px;width:98.5px;height:29.5px;background:#6a6c6e"></div>
<div class="dh" style="left:1024px;top:423px;color:#4a2a30">Timebase</div>
<div class="dh r" style="left:1060px;width:58px;top:423px;color:#c0506a">0 &micro;s</div>
<div class="dv r" style="left:1030px;width:88.5px;top:439px">200 &micro;s/div</div>
<div class="dv" style="left:1024px;top:452px">16.0 MS</div>
<div class="dv r" style="left:1030px;width:88.5px;top:452px">10 GS/s</div>
<div class="a" style="left:1123px;top:422.5px;width:86px;height:13.5px;background:#f6f6f6"></div>
<div class="a" style="left:1123px;top:436px;width:86px;height:29.5px;background:#6a6c6e"></div>
<div class="dh" style="left:1126px;top:423px;color:#4a2a30">Trigger</div>
<div class="a" style="left:1168px;top:423.5px;width:17px;height:11.5px;background:#000;border-radius:2px"></div>
<div class="a" style="left:1188px;top:423.5px;width:19.5px;height:11.5px;background:#000;border-radius:2px"></div>
<div class="a c" style="left:1168px;top:423.5px;width:17px;font-size:9.5px;line-height:11.5px;color:#fff;font-weight:bold;letter-spacing:-0.4px">C1</div>
<div class="a c" style="left:1188px;top:423.5px;width:19.5px;font-size:9.5px;line-height:11.5px;color:#fff;font-weight:bold;letter-spacing:-0.4px">DC</div>
<div class="dv" style="left:1125.5px;top:439px">Stop</div>
<div class="dv r" style="left:1140px;width:67px;top:439px">130 mV</div>
<div class="dv" style="left:1125.5px;top:452px">Edge</div>
<div class="dv r" style="left:1140px;width:67px;top:452px">Positive</div>
<div class="cr" style="left:996px;top:466.4px">X1=</div>
<div class="cr r" style="left:1020px;width:81px;top:466.4px">95.0728 MHz</div>
<div class="cr r" style="left:1100px;width:39.5px;top:466.4px">&Delta;X=</div>
<div class="cr r" style="left:1140px;width:69px;top:466.4px">4.9436 MHz</div>
<div class="cr" style="left:996px;top:480.79999999999995px">X2=</div>
<div class="cr r" style="left:1020px;width:81px;top:480.79999999999995px">100.0164 MHz</div>
<div class="cr r" style="left:1100px;width:39.5px;top:480.79999999999995px">1/&Delta;X=</div>
<div class="cr r" style="left:1140px;width:69px;top:480.79999999999995px">202.28 ns</div>
<div id="tabbar"></div>
<div class="a" style="left:94px;top:519.5px;font-size:12px;line-height:13px;color:#f4f4f4;letter-spacing:-0.1px;-webkit-text-stroke:0.4px #f4f4f4">Channel Setup</div>
<div class="a" style="left:180px;top:514px;width:1px;height:24px;background:#6a6d6f"></div>
<div class="a" style="left:370.5px;top:514px;width:1px;height:24px;background:#6a6d6f"></div>
<div class="a" style="left:60px;top:506.5px;width:1170px;height:3.3px;background:#030507"></div>
<div class="a" style="left:187.5px;top:513px;width:44px;height:27px;background:#45484a"></div>
<div class="a" style="left:187.5px;top:534.5px;width:44px;height:6px;background:#2f7fc2"></div>
<div class="chb" style="left:191.5px;background:#f4e014;color:#4a4300">C1</div>
<div class="chb" style="left:237.6px;background:#e41c80;color:#5a0030">C2</div>
<div class="chb" style="left:284px;background:#3cbde0;color:#08465a">C3</div>
<div class="chb" style="left:330.6px;background:#3cb64a;color:#0e4a14">C4</div>
<svg class="a" style="left:1162px;top:519.5px" width="13" height="13" viewBox="0 0 13 13"><circle cx="6.5" cy="6.5" r="6.2" fill="#f4f4f4"/><path d="M4,4 L9,9 M9,4 L4,9" stroke="#3a3c3e" stroke-width="1.9"/></svg>
<div class="a" style="left:1179.5px;top:521px;font-size:8px;line-height:10px;font-weight:bold;color:#e8e8e8;letter-spacing:0.35px">CLOSE</div>
<div id="panel"></div>
<div class="a c" style="left:84px;width:80px;top:546.5px;font-size:11.4px;line-height:13px;color:#fcfcfc;letter-spacing:0px;-webkit-text-stroke:0.5px #fff">Trace On</div>
<div class="cb" style="left:116.3px;top:560.5px"></div>
<div class="cm" style="left:84px;top:571.5px;border-left:1.7px solid #9a9d9f;border-bottom-left-radius:2px"></div><div class="cm" style="left:158.5px;top:571.5px;border-right:1.7px solid #9a9d9f;border-bottom-right-radius:2px"></div>
<div class="vd" style="left:182px;top:544px;height:142px"></div>
<div class="vd" style="left:823.5px;top:544px;height:142px"></div>
<div class="vd" style="left:924.5px;top:544px;height:142px"></div>
<div class="hd" style="left:205px;top:543.5px;letter-spacing:0.10px">Vertical Scale</div>
<div class="hd" style="left:345px;top:543.5px;letter-spacing:-0.46px">Offset</div>
<div class="hd" style="left:481.5px;top:543.5px;letter-spacing:-0.25px">Coupling</div>
<div class="hd" style="left:596px;top:543.5px;letter-spacing:-0.11px">Bandwidth</div>
<div class="hd" style="left:731.5px;top:543.5px;letter-spacing:-0.12px">Attenuation</div>
<div class="hd" style="left:830.5px;top:543.5px;letter-spacing:-0.10px">Rescale</div>
<div class="hd" style="left:938px;top:543.5px;letter-spacing:-0.33px">Pre-Processing</div>
<div class="il" style="left:185px;width:120px;top:562.5px">Scale</div>
<div class="vl" style="left:214px;top:577.2px">1.00 V</div>
<div class="ul" style="left:207px;width:79.5px;top:589.6px"></div>
<div class="tri" style="left:280.0px;top:585.8px"></div>
<div class="btn" style="left:290.5px;top:561.5px;width:43px;height:32px"></div><svg class="a" style="left:290.5px;top:561.5px" width="43" height="32"><polygon points="9.5,22.0 33.5,22.0 21.5,9.5" fill="#fdfdfd"/></svg>
<div class="btn" style="left:290.5px;top:596.5px;width:43px;height:31px"></div><svg class="a" style="left:290.5px;top:596.5px" width="43" height="31"><polygon points="9.5,9.5 33.5,9.5 21.5,22.0" fill="#fdfdfd"/></svg>
<div class="il" style="left:186.5px;width:120px;top:597.5px">Var. Gain</div>
<div class="cb" style="left:239px;top:611.3px"></div>
<div class="cm" style="left:207px;top:622.5px;border-left:1.7px solid #9a9d9f;border-bottom-left-radius:2px"></div><div class="cm" style="left:281.0px;top:622.5px;border-right:1.7px solid #9a9d9f;border-bottom-right-radius:2px"></div>
<div class="il" style="left:324px;width:120px;top:562.5px">Offset</div>
<div class="vl" style="left:352px;top:577.2px">0 mV</div>
<div class="ul" style="left:345px;width:79.60000000000002px;top:589.6px"></div>
<div class="tri" style="left:418.1px;top:585.8px"></div>
<div class="btn" style="left:345px;top:596.5px;width:80px;height:31px"></div>
<div class="bl" style="left:345px;width:80px;top:606.5px">Zero</div>
<div class="btn" style="left:428px;top:561.5px;width:43.5px;height:32px"></div><svg class="a" style="left:428px;top:561.5px" width="43.5" height="32"><polygon points="9.75,22.0 33.75,22.0 21.75,9.5" fill="#fdfdfd"/></svg>
<div class="btn" style="left:428px;top:596.5px;width:43.5px;height:31px"></div><svg class="a" style="left:428px;top:596.5px" width="43.5" height="31"><polygon points="9.75,9.5 33.75,9.5 21.75,22.0" fill="#fdfdfd"/></svg>
<div class="btn" style="left:481.5px;top:561.5px;width:32px;height:32px"></div>
<svg class="a" style="left:481.5px;top:561.5px" width="32" height="32" viewBox="0 0 32 32"><text x="16" y="14.2" font-family="Liberation Sans" font-size="11" font-weight="bold" fill="#f2e020" text-anchor="middle" letter-spacing="-0.6">1M&#937;</text><path d="M4.5,19.3H27.5" stroke="#26282a" stroke-width="2.2"/><path d="M4.5,25.3H27.5" stroke="#3a3c3e" stroke-width="1.8" stroke-dasharray="4 1.5"/></svg>
<div class="il" style="left:490px;width:120px;top:562.5px">Coupling</div>
<div class="vl" style="left:520px;top:577.2px">DC1M&#937;</div>
<div class="ul" style="left:516px;width:72px;top:589.6px"></div>
<div class="tri" style="left:581.5px;top:585.8px"></div>
<div class="btn" style="left:596px;top:561.5px;width:33px;height:32px"></div>
<svg class="a" style="left:596px;top:561.5px" width="33" height="32" viewBox="0 0 33 32"><path d="M3.5,6.5 H20 C24.5,6.5 24.5,27 29,27 V29.5 H3.5 Z" fill="#808385" stroke="#2c2e30" stroke-width="1.4"/><path d="M2.5,13.6H30.5" stroke="#ece030" stroke-width="1.4"/></svg>
<div class="il" style="left:604px;width:120px;top:562.5px">Bandwidth</div>
<div class="vl" style="left:634.5px;top:577.2px">Full</div>
<div class="ul" style="left:631px;width:72px;top:589.6px"></div>
<div class="tri" style="left:696.5px;top:585.8px"></div>
<div class="il" style="left:711px;width:120px;top:562.5px">Attenuation</div>
<div class="vl" style="left:737px;top:577.2px">&divide;1</div>
<div class="ul" style="left:729.6px;width:85.39999999999998px;top:589.6px"></div>
<div class="tri" style="left:808.5px;top:585.8px"></div>
<div class="il" style="left:812.7px;width:120px;top:562.5px">Vertical Unit</div>
<div class="vl" style="left:838px;top:576.7px">V</div>
<div class="ul" style="left:831px;width:85.5px;top:589.6px"></div>
<div class="tri" style="left:910.0px;top:585.8px"></div>
<div class="il" style="left:812px;width:120px;top:606.5px">Units / V (slope)</div>
<div class="vl" style="left:838px;top:620.2px">1.000000</div>
<div class="ul" style="left:831px;width:85.5px;top:632.4px"></div>
<div class="tri" style="left:910.0px;top:628.5999999999999px"></div>
<div class="il" style="left:812.4px;width:120px;top:648.0px">Add</div>
<div class="vl" style="left:838px;top:661.7px">0 &micro;V</div>
<div class="ul" style="left:831px;width:85.5px;top:673.9px"></div>
<div class="tri" style="left:910.0px;top:670.0999999999999px"></div>
<div class="il" style="left:930.5px;width:120px;top:560.0px">Averaging</div>
<div class="vl" style="left:945px;top:574.2px">1 sweep</div>
<div class="ul" style="left:938px;width:108px;top:585.9px"></div>
<div class="tri" style="left:1039.5px;top:582.0999999999999px"></div>
<div class="il" style="left:931px;width:120px;top:593.5px">Deskew</div>
<div class="vl" style="left:945px;top:607.8000000000001px">0.0 ps</div>
<div class="ul" style="left:938px;width:108px;top:620.1px"></div>
<div class="tri" style="left:1039.5px;top:616.3px"></div>
<div class="il" style="left:931.5px;width:120px;top:626.5px">Invert</div>
<div class="cb" style="left:985px;top:640px"></div>
<div class="cm" style="left:938px;top:651.5px;border-left:1.7px solid #9a9d9f;border-bottom-left-radius:2px"></div><div class="cm" style="left:1040.5px;top:651.5px;border-right:1.7px solid #9a9d9f;border-bottom-right-radius:2px"></div>
<div class="il" style="left:1061.8px;width:120px;top:560.0px">Upsample Factor</div>
<div class="vl" style="left:1076.5px;top:574.2px">2</div>
<div class="ul" style="left:1069.5px;width:107.0px;top:585.9px"></div>
<div class="tri" style="left:1170.0px;top:582.0999999999999px"></div>
<div class="il" style="left:1061.8px;width:120px;top:593.5px">Noise Filter (ERes)</div>
<div class="vl" style="left:1076.5px;top:607.8000000000001px">None</div>
<div class="ul" style="left:1069.5px;width:107.0px;top:620.1px"></div>
<div class="tri" style="left:1170.0px;top:616.3px"></div>
<div class="a" style="left:204.5px;top:637px;font-size:11.7px;line-height:13px;color:#fff;letter-spacing:0px;-webkit-text-stroke:0.5px #fff">Actions for trace C1</div>
<div class="btn" style="left:204.6px;top:654.7px;width:66.6px;height:33.5px;background:#727577;border-color:#aeb1b3"></div>
<div class="bl" style="left:204.6px;width:66.6px;top:674.5px;color:#f4f4f4">Measure</div>
<svg class="a" style="left:204.6px;top:654.7px" width="67" height="22" viewBox="0 0 67 22"><path d="M19,9.3H47.5" stroke="#0c0c0c" stroke-width="1.9"/><path d="M27.5,4.5V18M41.5,4.5V18" stroke="#0c0c0c" stroke-width="1.9"/><rect x="30" y="12" width="9.5" height="5.5" fill="#e6da84" stroke="#8a8040" stroke-width="0.8"/></svg>
<div class="btn" style="left:280.8px;top:654.7px;width:66.6px;height:33.5px;background:#727577;border-color:#aeb1b3"></div>
<div class="bl" style="left:280.8px;width:66.6px;top:674.5px;color:#f4f4f4">Zoom</div>
<svg class="a" style="left:280.8px;top:654.7px" width="67" height="22" viewBox="0 0 67 22"><path d="M12,11H55" stroke="#c8c85c" stroke-width="1.4"/><circle cx="33" cy="10.3" r="5.3" fill="#f0dc30" stroke="#222" stroke-width="1.6"/><path d="M30.5,12.3 L32.5,8.3 L34,12.3 L35.8,8.6" stroke="#333" stroke-width="1" fill="none"/><path d="M37,14.3 L43.5,20.3" stroke="#111" stroke-width="2.3"/></svg>
<div class="btn" style="left:356.9px;top:654.7px;width:66.6px;height:33.5px;background:#727577;border-color:#aeb1b3"></div>
<div class="bl" style="left:356.9px;width:66.6px;top:674.5px;color:#f4f4f4">Math</div>
<svg class="a" style="left:356.9px;top:654.7px" width="67" height="22" viewBox="0 0 67 22"><text x="33.5" y="16" font-family="Liberation Sans" font-size="16" font-weight="bold" fill="#111" text-anchor="middle">f(x)</text></svg>
<div class="btn" style="left:433.1px;top:654.7px;width:66.6px;height:33.5px;background:#727577;border-color:#aeb1b3"></div>
<div class="bl" style="left:433.1px;width:66.6px;top:674.5px;color:#f4f4f4">Decode</div>
<svg class="a" style="left:433.1px;top:654.7px" width="67" height="22" viewBox="0 0 67 22"><rect x="19.5" y="13.5" width="28" height="6" rx="1.5" fill="#62b848"/><rect x="22.5" y="3.3" width="22" height="17" rx="2.2" fill="#e88a28" stroke="#3054b8" stroke-width="1.5"/><rect x="25" y="5.3" width="5.5" height="13" fill="#c8d838"/><rect x="30.5" y="5.3" width="5" height="13" fill="#f0b030"/><rect x="35.5" y="5.3" width="6" height="13" fill="#e4482c"/><rect x="25" y="14.5" width="16.5" height="4" fill="#f0a838" opacity="0.75"/></svg>
<div class="btn" style="left:509.2px;top:654.7px;width:66.6px;height:33.5px;background:#727577;border-color:#aeb1b3"></div>
<div class="bl" style="left:509.2px;width:66.6px;top:674.5px;color:#f4f4f4">Store</div>
<svg class="a" style="left:509.2px;top:654.7px" width="67" height="22" viewBox="0 0 67 22"><path d="M40,6.5 L29,18" stroke="#0a0a0a" stroke-width="5.6" stroke-linecap="butt"/><path d="M24.5,3.5 L31,9.5" stroke="#0a0a0a" stroke-width="2.2"/><path d="M34.2,12.4 L27.5,11.4 L33.2,5.8 Z" fill="#0a0a0a"/></svg>
<div class="btn" style="left:585.4px;top:654.7px;width:66.6px;height:33.5px;background:#727577;border-color:#aeb1b3"></div>
<div class="bl" style="left:585.4px;width:66.6px;top:674.5px;color:#f4f4f4">Find Scale</div>
<svg class="a" style="left:585.4px;top:654.7px" width="67" height="22" viewBox="0 0 67 22"><rect x="21" y="6.8" width="20" height="11" fill="#2450b8" stroke="#88aaf0" stroke-width="0.8"/><path d="M21,12.3H41M31,6.8V17.8" stroke="#dfe8ff" stroke-width="1.5"/><path d="M17,2.6 L30,5.2" stroke="#e8dc3a" stroke-width="1.5" stroke-dasharray="2.2 1.4"/><circle cx="31" cy="5" r="1.7" fill="#e8dc3a"/><circle cx="31" cy="18.8" r="1.7" fill="#e8dc3a"/><circle cx="38.5" cy="19.5" r="1.6" fill="#e8dc3a"/></svg>
<div class="btn" style="left:661.6px;top:654.7px;width:66.6px;height:33.5px;background:#56595b;border-color:#5e6163"></div>
<div class="bl" style="left:676.6px;width:66.6px;top:674.5px;color:#85888a">Grid</div>
<svg class="a" style="left:661.6px;top:654.7px" width="67" height="22" viewBox="0 0 67 22"><rect x="14" y="3.5" width="20" height="9" fill="#5f6264" stroke="#85888a" stroke-width="1"/><path d="M14,8H34M20.5,3.5V12.5M27.5,3.5V12.5" stroke="#85888a" stroke-width="0.9"/><rect x="29" y="11" width="17.5" height="10" fill="#606365" stroke="#808385" stroke-width="1"/><path d="M29,16H46.5M35,11V21M41,11V21" stroke="#75787a" stroke-width="0.8"/></svg>
<div class="btn" style="left:737.7px;top:654.7px;width:66.6px;height:33.5px;background:#56595b;border-color:#5e6163"></div>
<div class="bl" style="left:737.7px;width:66.6px;top:674.5px;color:#85888a">Label</div>
<svg class="a" style="left:737.7px;top:654.7px" width="67" height="22" viewBox="0 0 67 22"><path d="M20.5,11.3 L26,5.3 H44.5 V17.3 H26 Z" fill="#dedede" stroke="#3c3e40" stroke-width="1.3" stroke-linejoin="round"/><circle cx="26.5" cy="11.3" r="1.5" fill="#56595b"/></svg>
<div id="status"></div>
<div class="a" style="left:79.5px;top:699.5px;font-size:12.4px;line-height:12px;font-weight:bold;color:#fff;letter-spacing:-0.6px;-webkit-text-stroke:0.5px #fff;transform:scaleX(0.925);transform-origin:left">TELEDYNE LECROY</div>
<div class="a r" style="left:1050px;width:150px;top:699.3px;font-size:12px;line-height:12px;color:#fff;letter-spacing:0px;-webkit-text-stroke:0.5px #fff;transform:scaleX(0.92);transform-origin:right">3/3/2016 1:01:55 PM</div>
<div class="circ" style="left:1099.1px;top:391.4px;background:#1b92db"><span style="left:0.0px;top:-0.85px;transform:scaleX(0.91)">A</span></div>
<div class="circ" style="left:210.2px;top:312.7px;background:#1b92db"><span style="left:-0.2px;top:-0.2px;transform:scaleX(0.84)">B</span></div>
<div class="circ" style="left:644.0px;top:660.9px;background:#1b92db"><span style="left:-1.3px;top:0.9px;transform:scaleX(0.9)">C</span></div>
<div class="circ" style="left:313.4px;top:455.9px;background:#f4761f"><span style="left:3.2px;top:0.3px;transform:scaleX(0.885)">D</span></div>
<div class="circ" style="left:138.4px;top:462.4px;background:#f4761f"><span style="left:-0.45px;top:-0.4px;transform:scaleX(0.9)">E</span></div>
<div class="circ" style="left:693.1px;top:287.4px;background:#f4761f"><span style="left:1.3px;top:0.5px;transform:scaleX(1.0)">F</span></div>
<div class="circ" style="left:1076.6px;top:507.4px;background:#f4761f"><span style="left:-0.6px;top:0.5px;transform:scaleX(0.86)">G</span></div>
</div></div>
</body></html>
